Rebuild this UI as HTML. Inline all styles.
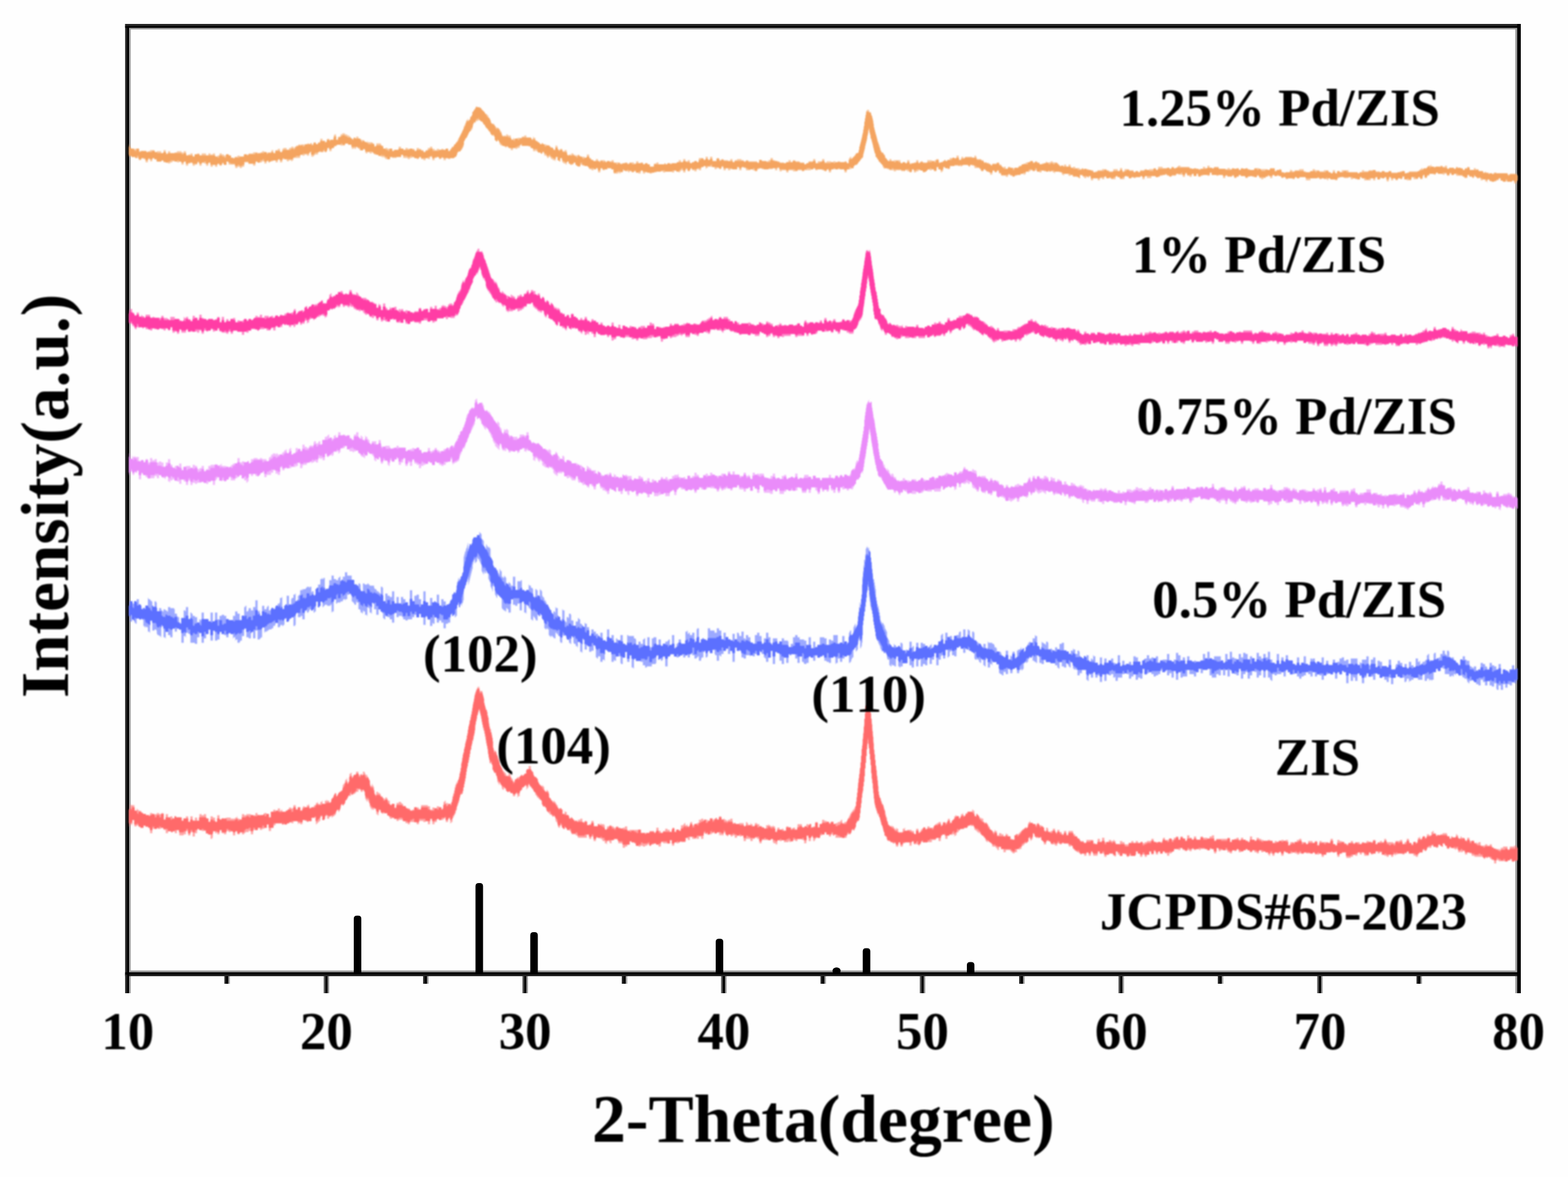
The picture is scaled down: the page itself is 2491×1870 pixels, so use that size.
<!DOCTYPE html>
<html lang="en"><head><meta charset="utf-8"><title>XRD patterns</title>
<style>
html,body{margin:0;padding:0;background:#fff;}
body{width:2491px;height:1870px;overflow:hidden;}
svg{display:block;}
text{font-family:"Liberation Serif",serif;font-weight:bold;fill:#000;font-kerning:none;}
</style></head><body>
<svg width="2491" height="1870" viewBox="0 0 2491 1870">
<defs><filter id="soft" x="0" y="0" width="2491" height="1870" filterUnits="userSpaceOnUse"><feGaussianBlur stdDeviation="0.8"/></filter></defs>
<rect width="2491" height="1870" fill="#fefefe"/>

<g>
<rect x="514.3" y="1547.0" width="4.3" height="31.0" fill="#555"/>
<rect x="518.6" y="1547.0" width="4.4" height="31.0" fill="#999"/>
<rect x="517.0" y="1547.0" width="3.5" height="31.0" fill="#000"/>
<rect x="830.0" y="1547.0" width="4.3" height="31.0" fill="#555"/>
<rect x="834.3" y="1547.0" width="4.4" height="31.0" fill="#999"/>
<rect x="832.7" y="1547.0" width="3.5" height="31.0" fill="#000"/>
<rect x="1145.6" y="1547.0" width="4.3" height="31.0" fill="#555"/>
<rect x="1149.9" y="1547.0" width="4.4" height="31.0" fill="#999"/>
<rect x="1148.3" y="1547.0" width="3.5" height="31.0" fill="#000"/>
<rect x="1461.3" y="1547.0" width="4.3" height="31.0" fill="#555"/>
<rect x="1465.6" y="1547.0" width="4.4" height="31.0" fill="#999"/>
<rect x="1464.0" y="1547.0" width="3.5" height="31.0" fill="#000"/>
<rect x="1776.9" y="1547.0" width="4.3" height="31.0" fill="#555"/>
<rect x="1781.2" y="1547.0" width="4.4" height="31.0" fill="#999"/>
<rect x="1779.6" y="1547.0" width="3.5" height="31.0" fill="#000"/>
<rect x="2092.6" y="1547.0" width="4.3" height="31.0" fill="#555"/>
<rect x="2096.9" y="1547.0" width="4.4" height="31.0" fill="#999"/>
<rect x="2095.3" y="1547.0" width="3.5" height="31.0" fill="#000"/>
<rect x="356.5" y="1547.0" width="4.3" height="16.0" fill="#262626"/>
<rect x="360.8" y="1547.0" width="4.4" height="16.0" fill="#a0a0a0"/>
<rect x="359.2" y="1547.0" width="3.5" height="16.0" fill="#000"/>
<rect x="672.2" y="1547.0" width="4.3" height="16.0" fill="#262626"/>
<rect x="676.5" y="1547.0" width="4.4" height="16.0" fill="#a0a0a0"/>
<rect x="674.9" y="1547.0" width="3.5" height="16.0" fill="#000"/>
<rect x="987.8" y="1547.0" width="4.3" height="16.0" fill="#262626"/>
<rect x="992.1" y="1547.0" width="4.4" height="16.0" fill="#a0a0a0"/>
<rect x="990.5" y="1547.0" width="3.5" height="16.0" fill="#000"/>
<rect x="1303.5" y="1547.0" width="4.3" height="16.0" fill="#262626"/>
<rect x="1307.8" y="1547.0" width="4.4" height="16.0" fill="#a0a0a0"/>
<rect x="1306.2" y="1547.0" width="3.5" height="16.0" fill="#000"/>
<rect x="1619.1" y="1547.0" width="4.3" height="16.0" fill="#262626"/>
<rect x="1623.4" y="1547.0" width="4.4" height="16.0" fill="#a0a0a0"/>
<rect x="1621.8" y="1547.0" width="3.5" height="16.0" fill="#000"/>
<rect x="1934.7" y="1547.0" width="4.3" height="16.0" fill="#262626"/>
<rect x="1939.0" y="1547.0" width="4.4" height="16.0" fill="#a0a0a0"/>
<rect x="1937.4" y="1547.0" width="3.5" height="16.0" fill="#000"/>
<rect x="2250.4" y="1547.0" width="4.3" height="16.0" fill="#262626"/>
<rect x="2254.7" y="1547.0" width="4.4" height="16.0" fill="#a0a0a0"/>
<rect x="2253.1" y="1547.0" width="3.5" height="16.0" fill="#000"/>
<rect x="203.0" y="43.0" width="2208.0" height="3.8" fill="#a0a0a0"/>
<rect x="203.0" y="1541.8" width="2208.0" height="4.2" fill="#a0a0a0"/>
<rect x="203.0" y="43.0" width="4.7" height="1503.0" fill="#a0a0a0"/>
<rect x="203.0" y="1549.0" width="4.7" height="29.0" fill="#a0a0a0"/>
<rect x="2407.2" y="43.0" width="3.8" height="1503.0" fill="#a0a0a0"/>
<rect x="2407.2" y="1549.0" width="3.8" height="29.0" fill="#a0a0a0"/>
<rect x="198.8" y="38.0" width="2217.2" height="4.5" fill="#262626"/>
<rect x="198.8" y="1547.5" width="2217.2" height="3.5" fill="#262626"/>
<rect x="198.8" y="38.0" width="4.2" height="1540.0" fill="#262626"/>
<rect x="198.8" y="41.5" width="2217.2" height="2.8" fill="#000"/>
<rect x="198.8" y="1544.7" width="2217.2" height="3.7" fill="#000"/>
<rect x="202.2" y="41.5" width="2.8" height="1536.5" fill="#000"/>
<rect x="2410.3" y="38.0" width="5.7" height="1540.0" fill="#000"/>
</g>
<g filter="url(#soft)">
<path d="M205.0,229.5H206.4V234.9H207.3V236.6H212.6V238.4H213.5V236.6H220.6V240.2H224.2V240.2H232.2V242.0H234.9V240.2H238.4V238.4H242.0V238.4H245.5V242.0H249.1V240.2H256.2V243.8H259.8V238.4H263.3V243.8H266.9V240.2H270.5V243.8H277.6V242.0H281.1V240.2H288.2V242.0H290.9V243.8H291.8V240.2H295.4V247.3H298.9V245.5H302.5V243.8H306.0V249.1H309.6V245.5H313.2V243.8H316.7V247.3H320.3V243.8H327.4V247.3H330.9V243.8H334.5V245.5H338.1V243.8H341.6V249.1H345.2V247.3H348.7V243.8H352.3V245.5H355.9V247.3H359.4V245.5H363.0V247.3H366.5V250.9H372.8V249.1H377.2V247.3H380.8V249.1H387.9V245.5H395.0V243.8H402.1V242.0H409.2V245.5H410.1V243.8H413.7V242.0H416.4V240.2H419.9V242.0H423.5V243.8H425.2V242.0H430.6V240.2H431.5V238.4H434.1V243.8H437.7V238.4H441.3V236.6H444.8V242.0H448.4V236.6H450.2V234.9H455.5V238.4H459.1V234.9H462.6V233.1H466.2V234.9H468.0V233.1H470.6V231.3H474.2V229.5H476.8V231.3H477.7V229.5H480.4V229.5H484.0V231.3H484.9V229.5H488.4V227.7H491.1V229.5H493.8V227.7H494.6V229.5H498.2V226.0H501.8V229.5H505.3V226.0H508.9V220.6H512.4V224.2H516.0V227.7H516.9V226.0H519.6V220.6H523.1V224.2H524.9V222.4H530.2V215.3H531.1V213.5H533.8V222.4H537.3V217.1H540.9V213.5H543.6V211.7H548.0V213.5H551.6V215.3H555.1V217.1H556.9V218.9H558.7V220.6H562.3V218.9H564.0V220.6H565.8V217.1H569.4V220.6H572.0V222.4H572.9V220.6H573.8V222.4H578.3V224.2H580.0V226.0H582.7V227.7H583.6V224.2H584.5V226.0H591.6V227.7H594.3V233.1H597.8V227.7H605.0V229.5H605.8V231.3H608.5V236.6H612.1V234.9H615.6V236.6H622.8V240.2H626.3V238.4H633.4V233.1H637.0V236.6H640.5V238.4H644.1V234.9H647.7V236.6H658.3V240.2H661.9V234.9H665.5V236.6H669.0V238.4H672.6V242.0H676.1V238.4H679.7V234.9H683.2V233.1H686.8V236.6H690.4V238.4H693.9V236.6H697.5V238.4H701.0V236.6H704.6V238.4H708.2V236.6H711.7V240.2H715.3V236.6H717.1V234.9H717.9V233.1H720.6V231.3H721.5V229.5H724.2V227.7H725.1V226.0H725.9V224.2H726.8V222.4H727.7V220.6H728.6V218.9H730.4V217.1H731.3V215.3H732.2V213.5H733.1V211.7H734.0V210.0H734.8V208.2H735.7V206.4H736.6V201.1H737.5V199.3H738.4V197.5H739.3V195.7H740.2V192.2H741.1V190.4H742.9V188.6H743.7V193.9H744.6V192.2H745.5V190.4H747.3V185.0H749.1V183.3H750.0V181.5H750.9V177.9H752.6V176.1H753.5V174.4H754.4V172.6H755.3V170.8H756.2V169.0H758.0V170.8H764.2V172.6H765.1V174.4H766.0V176.1H767.8V177.9H769.5V179.7H770.4V181.5H774.0V183.3H775.8V186.8H777.5V188.6H778.4V190.4H779.3V195.7H781.1V197.5H782.9V195.7H783.8V197.5H785.6V199.3H786.4V201.1H788.2V202.8H790.0V202.8H791.8V204.6H793.6V206.4H794.5V208.2H796.2V210.0H797.1V215.3H799.8V217.1H800.7V215.3H803.3V217.1H804.2V213.5H806.9V215.3H811.4V220.6H812.2V222.4H814.9V218.9H815.8V220.6H818.5V220.6H822.0V218.9H829.1V217.1H832.7V215.3H836.3V218.9H843.4V220.6H844.3V222.4H846.9V217.1H847.8V218.9H850.5V224.2H853.2V226.0H855.8V227.7H857.6V229.5H861.2V227.7H862.1V229.5H864.7V229.5H868.3V231.3H871.9V231.3H873.6V233.1H875.4V234.9H878.1V236.6H879.0V238.4H881.6V240.2H882.5V231.3H885.2V233.1H886.1V238.4H887.9V240.2H889.6V236.6H893.2V240.2H896.8V238.4H900.3V245.5H901.2V247.3H903.9V245.5H906.5V247.3H907.4V243.8H911.0V245.5H912.8V247.3H914.6V245.5H915.4V247.3H918.1V245.5H919.9V247.3H921.7V249.1H924.3V250.9H925.2V249.1H928.8V250.9H932.3V245.5H935.9V250.9H938.6V252.7H939.5V254.4H942.1V256.2H946.6V252.7H950.1V256.2H951.9V258.0H953.7V254.4H960.8V256.2H961.7V258.0H964.4V256.2H971.5V254.4H975.0V258.0H984.8V259.8H992.8V258.0H996.4V259.8H1000.0V258.0H1007.1V259.8H1010.6V256.2H1014.2V259.8H1017.8V258.0H1021.3V261.6H1024.9V259.8H1028.4V261.6H1032.0V265.1H1039.1V259.8H1042.7V258.0H1046.2V261.6H1056.0V259.8H1056.9V261.6H1060.5V259.8H1075.6V258.0H1078.2V254.4H1081.8V258.0H1085.4V252.7H1088.9V256.2H1092.5V254.4H1096.0V259.8H1099.6V258.0H1103.2V256.2H1106.7V258.0H1110.3V250.9H1117.4V254.4H1121.0V249.1H1124.5V254.4H1128.1V249.1H1131.6V256.2H1138.7V250.9H1142.3V254.4H1145.9V252.7H1149.4V254.4H1156.5V256.2H1160.1V252.7H1163.7V258.0H1167.2V254.4H1170.8V252.7H1177.9V254.4H1181.4V256.2H1185.0V254.4H1188.6V256.2H1202.8V258.0H1206.4V254.4H1209.9V256.2H1220.6V254.4H1224.1V250.9H1227.7V254.4H1231.3V256.2H1238.4V258.0H1245.5V259.8H1249.1V258.0H1252.6V254.4H1256.2V258.0H1259.7V254.4H1263.3V256.2H1270.4V258.0H1277.5V261.6H1281.1V259.8H1284.6V256.2H1291.8V252.7H1295.3V259.8H1298.9V256.2H1306.0V252.7H1309.6V258.0H1313.1V256.2H1320.2V258.0H1323.8V256.2H1327.3V258.0H1330.9V256.2H1334.5V258.0H1341.6V256.2H1345.1V259.8H1348.7V250.9H1350.5V249.1H1352.3V252.7H1353.1V250.9H1354.9V249.1H1356.7V247.3H1358.5V245.5H1360.3V243.8H1363.8V242.0H1364.7V238.4H1365.6V233.1H1366.5V229.5H1367.4V226.0H1368.3V222.4H1369.2V218.9H1370.0V213.5H1370.9V210.0H1371.8V204.6H1372.7V199.3H1373.6V192.2H1374.5V186.8H1375.4V181.5H1376.3V176.1H1377.2V174.4H1380.7V177.9H1383.4V181.5H1384.3V183.3H1385.2V186.8H1386.1V190.4H1387.0V195.7H1387.8V202.8H1388.7V206.4H1389.6V210.0H1390.5V213.5H1391.4V215.3H1392.3V218.9H1393.2V222.4H1394.1V226.0H1395.8V229.5H1396.7V231.3H1397.6V234.9H1398.5V238.4H1399.4V240.2H1400.3V242.0H1403.0V243.8H1403.9V245.5H1405.6V249.1H1406.5V250.9H1408.3V252.7H1409.2V254.4H1410.1V256.2H1412.8V252.7H1416.3V256.2H1419.9V254.4H1430.5V259.8H1434.1V258.0H1437.7V259.8H1441.2V254.4H1444.8V259.8H1451.9V258.0H1455.5V254.4H1459.0V259.8H1461.7V258.0H1462.6V256.2H1466.1V258.0H1473.2V254.4H1480.4V256.2H1484.8V254.4H1487.5V252.7H1491.0V258.0H1498.2V256.2H1500.8V254.4H1501.7V256.2H1505.3V254.4H1508.8V250.9H1512.4V252.7H1513.3V250.9H1519.5V247.3H1523.1V254.4H1526.6V250.9H1527.5V249.1H1530.2V250.9H1532.9V249.1H1544.4V250.9H1548.0V247.3H1550.6V249.1H1551.5V252.7H1558.7V254.4H1562.2V256.2H1563.1V258.0H1566.7V259.8H1569.3V258.0H1570.2V259.8H1572.9V261.6H1573.8V263.3H1576.4V259.8H1583.6V258.0H1587.1V261.6H1590.7V265.1H1592.5V266.9H1594.2V265.1H1597.8V268.7H1601.4V265.1H1604.9V266.9H1618.3V265.1H1619.2V263.3H1623.6V261.6H1626.3V259.8H1629.8V258.0H1636.9V256.2H1640.5V258.0H1644.1V256.2H1647.6V258.0H1651.2V261.6H1654.7V259.8H1661.9V256.2H1662.7V258.0H1669.0V256.2H1672.5V258.0H1679.6V259.8H1681.4V261.6H1683.2V263.3H1688.5V265.1H1690.3V261.6H1693.9V265.1H1697.4V261.6H1701.0V266.9H1704.6V265.1H1708.1V266.9H1715.2V268.7H1718.8V266.9H1720.6V268.7H1729.5V270.5H1733.0V270.5H1736.6V274.0H1740.1V272.2H1743.7V270.5H1750.8V268.7H1754.4V268.7H1757.9V270.5H1761.5V272.2H1768.6V268.7H1775.7V272.2H1779.3V266.9H1782.8V272.2H1786.4V268.7H1790.0V268.7H1793.5V270.5H1800.6V274.0H1804.2V272.2H1807.8V274.0H1811.3V270.5H1818.4V268.7H1822.0V270.5H1825.5V268.7H1832.7V266.9H1836.2V270.5H1839.8V265.1H1846.9V266.9H1857.6V268.7H1861.1V265.1H1864.7V266.9H1870.9V265.1H1871.8V263.3H1875.4V265.1H1889.6V266.9H1893.2V268.7H1896.7V266.9H1900.3V268.7H1911.0V265.1H1914.5V266.9H1918.1V263.3H1921.6V266.9H1928.7V265.1H1935.9V268.7H1950.1V266.9H1953.7V268.7H1957.2V266.9H1960.8V268.7H1964.3V266.9H1967.9V270.5H1971.4V266.9H1975.0V268.7H1978.6V266.9H1982.1V268.7H1985.7V270.5H1992.8V266.9H1999.9V268.7H2002.6V270.5H2003.5V268.7H2010.6V268.7H2014.2V270.5H2017.7V266.9H2024.8V272.2H2028.4V270.5H2031.9V268.7H2035.5V274.0H2049.7V268.7H2050.6V270.5H2053.3V272.2H2056.9V270.5H2064.0V268.7H2071.1V272.2H2074.6V274.0H2081.8V272.2H2085.3V268.7H2088.9V270.5H2096.0V272.2H2103.1V270.5H2110.2V274.0H2113.8V275.8H2117.4V270.5H2120.9V275.8H2124.5V272.2H2128.0V274.0H2131.6V270.5H2142.3V274.0H2156.5V275.8H2160.1V274.0H2163.6V270.5H2167.2V272.2H2174.3V270.5H2181.4V270.5H2185.0V272.2H2192.1V274.0H2195.6V272.2H2199.2V274.0H2206.3V272.2H2209.9V274.0H2224.1V272.2H2231.2V275.8H2234.8V274.0H2238.3V272.2H2255.2V270.5H2256.1V268.7H2257.9V266.9H2259.7V268.7H2261.5V266.9H2266.8V265.1H2268.6V263.3H2273.0V261.6H2273.9V265.1H2287.3V266.9H2288.2V263.3H2291.7V265.1H2295.3V263.3H2298.8V268.7H2302.4V266.9H2309.5V268.7H2313.1V265.1H2315.7V266.9H2323.7V270.5H2327.3V266.9H2330.0V268.7H2330.9V265.1H2334.4V270.5H2341.5V266.9H2344.2V268.7H2345.1V268.7H2348.7V272.2H2355.8V274.0H2359.3V272.2H2360.2V274.0H2364.7V275.8H2373.6V274.0H2377.1V275.8H2394.9V277.6H2398.5V275.8H2409.2V277.6H2410.5V286.5H2409.2V291.8H2405.6V286.5H2402.0V288.2H2387.8V286.5H2384.2V282.9H2380.7V286.5H2377.1V288.2H2366.5V284.7H2362.9V290.0H2362.0V288.2H2359.3V284.7H2355.8V286.5H2352.2V282.9H2346.9V281.1H2343.3V279.3H2341.5V282.9H2338.9V281.1H2334.4V277.6H2330.9V282.9H2326.4V281.1H2323.7V279.3H2313.1V275.8H2309.5V277.6H2306.0V275.8H2302.4V279.3H2298.8V275.8H2295.3V277.6H2291.7V275.8H2284.6V274.0H2281.0V277.6H2277.5V275.8H2270.4V279.3H2266.8V282.9H2263.3V277.6H2260.6V279.3H2259.7V284.7H2256.1V281.1H2252.6V284.7H2245.5V281.1H2241.9V286.5H2234.8V284.7H2231.2V281.1H2227.7V284.7H2224.1V282.9H2220.5V286.5H2217.0V282.9H2213.4V286.5H2209.9V281.1H2206.3V288.2H2202.8V281.1H2199.2V282.9H2192.1V284.7H2188.5V281.1H2185.0V286.5H2181.4V282.9H2177.8V286.5H2167.2V282.9H2163.6V281.1H2160.1V284.7H2152.9V282.9H2149.4V284.7H2145.8V281.1H2142.3V282.9H2135.1V281.1H2132.5V279.3H2131.6V281.1H2128.0V282.9H2124.5V286.5H2120.9V284.7H2113.8V282.9H2110.2V286.5H2108.5V284.7H2103.1V282.9H2099.6V284.7H2096.0V282.9H2081.8V286.5H2074.6V281.1H2064.0V282.9H2060.4V281.1H2056.9V284.7H2053.3V282.9H2046.2V284.7H2042.6V281.1H2039.1V282.9H2035.5V279.3H2024.8V277.6H2021.3V282.9H2017.7V279.3H2015.9V277.6H2014.2V281.1H2010.6V282.9H2007.0V284.7H2003.5V282.9H2000.8V281.1H1999.9V279.3H1996.4V281.1H1989.2V279.3H1985.7V281.1H1982.1V282.9H1978.6V279.3H1971.4V277.6H1967.9V281.1H1964.3V282.9H1960.8V279.3H1957.2V281.1H1950.1V279.3H1946.5V282.9H1943.0V277.6H1935.9V279.3H1932.3V277.6H1925.2V274.0H1921.6V279.3H1918.1V277.6H1911.0V279.3H1907.4V281.1H1903.8V275.8H1900.3V279.3H1896.7V275.8H1893.2V281.1H1889.6V279.3H1886.0V275.8H1882.5V281.1H1878.9V277.6H1871.8V275.8H1868.2V279.3H1861.1V281.1H1857.6V279.3H1854.0V277.6H1846.9V279.3H1842.5V281.1H1836.2V279.3H1829.1V282.9H1822.0V279.3H1818.4V284.7H1814.9V279.3H1811.3V281.1H1804.2V282.9H1800.6V281.1H1797.1V282.9H1793.5V281.1H1790.0V279.3H1786.4V284.7H1779.3V281.1H1775.7V279.3H1772.2V284.7H1765.1V282.9H1757.9V281.1H1754.4V284.7H1750.8V282.9H1747.3V286.5H1743.7V282.9H1736.6V286.5H1733.0V279.3H1729.5V282.9H1728.6V281.1H1725.9V282.9H1722.3V281.1H1720.6V279.3H1718.8V277.6H1715.2V282.9H1714.3V281.1H1704.6V277.6H1701.0V279.3H1697.4V275.8H1690.3V279.3H1689.4V277.6H1686.8V274.0H1683.2V272.2H1676.1V275.8H1675.2V274.0H1672.5V272.2H1669.0V272.2H1667.2V270.5H1665.4V272.2H1661.9V272.2H1658.3V270.5H1654.7V274.0H1651.2V272.2H1647.6V270.5H1644.1V272.2H1640.5V270.5H1636.9V272.2H1634.3V274.0H1633.4V272.2H1629.8V275.8H1628.9V277.6H1626.3V274.0H1625.4V275.8H1620.9V277.6H1615.6V279.3H1612.0V281.1H1608.5V279.3H1604.9V277.6H1601.4V281.1H1597.8V279.3H1590.7V275.8H1587.1V270.5H1583.6V274.0H1580.0V270.5H1576.4V277.6H1572.9V274.0H1570.2V272.2H1569.3V272.2H1567.6V270.5H1565.8V268.7H1562.2V272.2H1558.7V268.7H1556.0V266.9H1548.0V263.3H1544.4V261.6H1540.9V265.1H1539.1V263.3H1537.3V261.6H1530.2V263.3H1527.5V265.1H1526.6V261.6H1524.8V263.3H1508.8V268.7H1505.3V266.9H1501.7V265.1H1498.2V272.2H1496.4V274.0H1494.6V268.7H1491.0V265.1H1487.5V272.2H1483.9V268.7H1480.4V270.5H1476.8V268.7H1473.2V270.5H1471.5V272.2H1469.7V274.0H1466.1V270.5H1459.0V272.2H1455.5V274.0H1451.9V268.7H1448.3V274.0H1444.8V272.2H1441.2V270.5H1437.7V272.2H1435.0V270.5H1434.1V272.2H1432.3V270.5H1423.4V272.2H1419.9V270.5H1412.8V268.7H1409.2V266.9H1405.6V268.7H1404.7V266.9H1403.0V265.1H1402.1V261.6H1401.2V259.8H1399.4V258.0H1396.7V256.2H1395.8V254.4H1395.0V252.7H1394.1V250.9H1393.2V249.1H1391.4V245.5H1390.5V243.8H1389.6V240.2H1388.7V236.6H1387.8V233.1H1387.0V229.5H1386.1V226.0H1385.2V222.4H1384.3V220.6H1383.4V215.3H1382.5V211.7H1381.6V206.4H1380.7V202.8H1379.8V208.2H1378.9V213.5H1378.1V217.1H1377.2V224.2H1376.3V227.7H1375.4V231.3H1374.5V234.9H1373.6V238.4H1372.7V242.0H1371.8V245.5H1370.9V250.9H1369.2V252.7H1367.4V254.4H1365.6V256.2H1363.8V258.0H1362.9V259.8H1361.2V261.6H1357.6V263.3H1355.8V266.9H1352.3V268.7H1345.1V274.0H1341.6V268.7H1320.2V274.0H1316.7V266.9H1315.8V268.7H1313.1V272.2H1309.6V270.5H1306.0V268.7H1298.9V270.5H1295.3V266.9H1291.8V268.7H1288.2V270.5H1277.5V272.2H1274.0V270.5H1266.9V272.2H1259.7V270.5H1252.6V274.0H1249.1V270.5H1241.9V272.2H1238.4V266.9H1234.8V270.5H1231.3V266.9H1227.7V268.7H1209.9V266.9H1206.4V268.7H1202.8V272.2H1199.2V270.5H1195.7V268.7H1192.1V270.5H1185.0V266.9H1181.4V265.1H1177.9V270.5H1174.3V265.1H1170.8V268.7H1160.1V270.5H1156.5V266.9H1153.0V270.5H1149.4V265.1H1145.9V268.7H1142.3V266.9H1138.7V268.7H1135.2V265.1H1124.5V266.9H1121.8V268.7H1121.0V263.3H1117.4V265.1H1113.8V270.5H1110.3V268.7H1106.7V272.2H1103.2V270.5H1099.6V266.9H1096.9V268.7H1096.0V272.2H1092.5V268.7H1088.9V274.0H1085.4V270.5H1081.8V272.2H1080.0V274.0H1078.2V272.2H1074.7V270.5H1071.1V274.0H1067.6V272.2H1056.9V274.0H1053.3V272.2H1049.8V272.2H1042.7V274.0H1035.5V275.8H1032.0V274.0H1024.9V275.8H1021.3V270.5H1017.8V275.8H1014.2V274.0H1010.6V272.2H1007.1V274.0H1003.5V272.2H1000.0V274.0H998.2V272.2H992.8V270.5H991.1V268.7H989.3V274.0H985.7V275.8H983.9V274.0H982.2V275.8H975.0V268.7H971.5V266.9H965.3V265.1H964.4V268.7H960.8V270.5H957.3V266.9H953.7V274.0H950.1V266.9H947.5V265.1H946.6V268.7H943.9V266.9H943.0V270.5H939.5V268.7H935.9V265.1H934.1V263.3H925.2V261.6H921.7V265.1H918.1V263.3H916.3V261.6H914.6V258.0H911.0V261.6H906.5V259.8H903.9V256.2H900.3V261.6H898.5V259.8H895.0V258.0H893.2V250.9H889.6V256.2H888.8V254.4H886.1V249.1H882.5V256.2H881.6V254.4H878.1V252.7H875.4V250.9H874.5V249.1H871.8V250.9H869.2V249.1H868.3V247.3H864.7V242.0H861.2V243.8H859.4V242.0H854.9V240.2H851.4V238.4H850.5V240.2H846.9V234.9H843.4V233.1H839.8V231.3H829.1V229.5H827.4V231.3H825.6V234.9H822.0V236.6H818.5V234.9H814.9V238.4H811.4V234.9H808.7V233.1H807.8V234.9H806.9V233.1H804.2V234.9H803.3V233.1H800.7V231.3H798.0V229.5H797.1V231.3H795.3V229.5H793.6V224.2H792.7V222.4H790.9V220.6H790.0V224.2H788.2V222.4H786.4V217.1H785.6V215.3H784.7V213.5H782.9V215.3H782.0V213.5H780.2V211.7H779.3V210.0H777.5V208.2H775.8V204.6H774.0V202.8H772.2V201.1H771.3V199.3H770.4V197.5H768.7V197.5H767.8V195.7H766.9V193.9H765.1V192.2H763.3V190.4H761.5V190.4H759.8V192.2H756.2V193.9H755.3V195.7H754.4V193.9H752.6V195.7H751.7V197.5H750.9V204.6H750.0V206.4H748.2V208.2H747.3V208.2H745.5V210.0H744.6V211.7H743.7V213.5H742.9V215.3H742.0V217.1H741.1V218.9H739.3V220.6H738.4V222.4H737.5V224.2H736.6V233.1H735.7V234.9H734.8V236.6H734.0V238.4H733.1V236.6H732.2V238.4H731.3V240.2H728.6V242.0H726.8V243.8H725.9V245.5H725.1V247.3H724.2V249.1H721.5V250.9H715.3V252.7H711.7V250.9H708.2V254.4H704.6V250.9H701.0V252.7H697.5V249.1H693.9V250.9H690.4V254.4H686.8V249.1H683.2V252.7H679.7V250.9H676.1V254.4H672.6V252.7H669.0V249.1H665.5V252.7H661.9V250.9H658.3V249.1H654.8V250.9H651.2V252.7H647.7V250.9H640.5V245.5H637.0V249.1H629.9V250.9H622.8V249.1H619.2V252.7H615.6V252.7H612.1V250.9H610.3V249.1H608.5V250.9H607.6V249.1H605.0V247.3H601.4V245.5H594.3V243.8H592.5V242.0H590.7V243.8H587.2V242.0H583.6V243.8H580.9V242.0H580.0V236.6H576.5V238.4H571.2V236.6H569.4V234.9H568.5V233.1H565.8V236.6H563.1V234.9H562.3V236.6H558.7V229.5H553.4V227.7H548.0V231.3H540.9V229.5H534.7V231.3H532.9V233.1H530.2V234.9H526.7V240.2H523.1V233.1H522.2V234.9H519.6V240.2H518.7V242.0H516.0V240.2H514.2V242.0H508.9V240.2H508.0V242.0H505.3V245.5H500.0V247.3H498.2V249.1H494.6V240.2H492.9V242.0H491.1V247.3H487.5V245.5H484.0V247.3H480.4V245.5H476.8V250.9H466.2V254.4H464.4V256.2H462.6V254.4H459.1V256.2H455.5V252.7H448.4V258.0H444.8V252.7H441.3V258.0H437.7V254.4H434.1V256.2H427.9V258.0H427.0V256.2H423.5V259.8H419.9V256.2H416.4V258.0H409.2V256.2H405.7V263.3H402.1V259.8H395.0V258.0H387.9V265.1H384.3V266.9H380.8V265.1H377.2V266.9H373.7V261.6H363.0V256.2H359.4V261.6H355.9V259.8H352.3V263.3H348.7V259.8H345.2V265.1H341.6V261.6H338.1V265.1H334.5V258.0H330.9V263.3H327.4V259.8H323.8V258.0H320.3V263.3H316.7V258.0H313.2V261.6H309.6V263.3H306.0V258.0H302.5V259.8H298.9V263.3H295.4V256.2H291.8V261.6H288.2V256.2H284.7V258.0H281.1V256.2H274.0V258.0H270.5V259.8H266.9V258.0H259.8V254.4H256.2V256.2H249.1V252.7H245.5V250.9H242.0V256.2H238.4V252.7H234.9V258.0H231.3V252.7H227.7V250.9H224.2V254.4H220.6V250.9H217.1V250.9H215.3V249.1H209.1V247.3H206.4V249.1H205.5V247.3H205.0Z" fill="#F4A460" fill-opacity="0.6"/>
<path d="M205.0,233.1H206.4V234.9H207.3V236.6H212.6V238.4H213.5V240.2H217.1V236.6H220.6V242.0H224.2V240.2H232.2V242.0H242.0V240.2H245.5V242.0H249.1V243.8H259.8V242.0H263.3V245.5H266.9V243.8H288.2V245.5H290.9V247.3H291.8V243.8H295.4V247.3H306.0V249.1H309.6V245.5H316.7V247.3H341.6V249.1H345.2V250.9H348.7V247.3H352.3V249.1H355.9V250.9H359.4V245.5H363.0V247.3H366.5V250.9H370.1V252.7H372.8V250.9H380.8V249.1H387.9V245.5H391.4V247.3H395.0V245.5H405.7V243.8H409.2V245.5H410.1V243.8H412.8V245.5H413.7V243.8H419.9V242.0H423.5V245.5H425.2V243.8H431.5V242.0H434.1V243.8H437.7V240.2H444.8V242.0H448.4V240.2H450.2V238.4H462.6V236.6H466.2V238.4H468.0V236.6H469.7V234.9H470.6V233.1H474.2V231.3H476.8V233.1H477.7V231.3H480.4V233.1H484.0V231.3H484.9V229.5H487.5V231.3H488.4V229.5H493.8V227.7H494.6V231.3H498.2V227.7H501.8V229.5H505.3V227.7H508.9V224.2H516.0V227.7H516.9V226.0H519.6V222.4H523.1V224.2H524.9V222.4H530.2V218.9H531.1V217.1H533.8V222.4H537.3V218.9H540.9V217.1H543.6V215.3H548.0V217.1H551.6V218.9H556.9V220.6H558.7V222.4H562.3V218.9H564.0V220.6H572.0V222.4H572.9V224.2H573.8V226.0H576.5V224.2H578.3V226.0H582.7V227.7H584.5V229.5H590.7V227.7H591.6V229.5H594.3V233.1H597.8V231.3H605.8V233.1H608.5V236.6H612.1V238.4H615.6V240.2H619.2V236.6H622.8V240.2H626.3V238.4H633.4V236.6H640.5V238.4H651.2V236.6H654.8V238.4H658.3V240.2H661.9V238.4H669.0V240.2H672.6V242.0H676.1V240.2H679.7V238.4H683.2V236.6H686.8V240.2H697.5V238.4H708.2V236.6H711.7V240.2H715.3V238.4H717.1V236.6H717.9V234.9H720.6V233.1H721.5V231.3H722.4V229.5H724.2V227.7H725.1V226.0H725.9V227.7H726.8V226.0H727.7V224.2H728.6V222.4H729.5V218.9H730.4V217.1H731.3V215.3H732.2V213.5H733.1V211.7H734.0V210.0H734.8V208.2H735.7V206.4H736.6V204.6H737.5V202.8H738.4V201.1H739.3V199.3H740.2V195.7H741.1V193.9H742.9V192.2H743.7V193.9H744.6V192.2H745.5V190.4H747.3V186.8H749.1V185.0H750.0V183.3H750.9V177.9H752.6V176.1H753.5V174.4H755.3V172.6H756.2V170.8H761.5V172.6H764.2V174.4H766.0V176.1H767.8V177.9H769.5V179.7H770.4V181.5H772.2V185.0H774.0V186.8H775.8V188.6H777.5V190.4H778.4V192.2H779.3V195.7H781.1V197.5H783.8V199.3H785.6V201.1H786.4V204.6H788.2V206.4H790.0V204.6H791.8V206.4H793.6V210.0H794.5V211.7H796.2V213.5H797.1V217.1H799.8V218.9H800.7V217.1H803.3V218.9H804.2V217.1H806.9V218.9H811.4V220.6H812.2V222.4H815.8V224.2H818.5V220.6H822.0V222.4H825.6V220.6H829.1V218.9H843.4V220.6H844.3V222.4H846.9V220.6H847.8V222.4H850.5V224.2H853.2V226.0H855.8V227.7H857.6V229.5H861.2V227.7H862.1V229.5H864.7V233.1H868.3V231.3H871.9V233.1H873.6V234.9H878.1V236.6H879.0V238.4H881.6V240.2H882.5V234.9H885.2V236.6H886.1V238.4H887.9V240.2H889.6V238.4H893.2V242.0H900.3V245.5H901.2V247.3H906.5V249.1H907.4V247.3H912.8V249.1H915.4V250.9H918.1V247.3H919.9V249.1H924.3V250.9H925.2V252.7H928.8V250.9H932.3V249.1H935.9V252.7H938.6V254.4H942.1V256.2H951.9V258.0H953.7V256.2H957.3V258.0H960.8V256.2H961.7V258.0H964.4V256.2H967.9V258.0H975.0V259.8H978.6V261.6H982.2V259.8H984.8V261.6H989.3V259.8H996.4V261.6H1000.0V259.8H1003.5V261.6H1010.6V259.8H1021.3V261.6H1024.9V259.8H1028.4V261.6H1032.0V265.1H1039.1V261.6H1056.0V259.8H1056.9V261.6H1060.5V259.8H1064.0V261.6H1067.6V259.8H1075.6V258.0H1085.4V256.2H1088.9V258.0H1096.0V259.8H1099.6V258.0H1103.2V256.2H1106.7V258.0H1110.3V254.4H1113.8V252.7H1117.4V254.4H1121.0V252.7H1124.5V254.4H1128.1V252.7H1131.6V256.2H1138.7V252.7H1142.3V256.2H1145.9V254.4H1149.4V256.2H1163.7V258.0H1167.2V256.2H1181.4V258.0H1185.0V256.2H1188.6V258.0H1202.8V259.8H1206.4V254.4H1209.9V256.2H1217.0V258.0H1224.1V254.4H1227.7V256.2H1234.8V258.0H1238.4V259.8H1249.1V258.0H1259.7V256.2H1263.3V258.0H1270.4V259.8H1277.5V261.6H1281.1V259.8H1284.6V258.0H1291.8V256.2H1295.3V259.8H1302.4V258.0H1306.0V256.2H1309.6V259.8H1320.2V258.0H1323.8V259.8H1327.3V258.0H1345.1V259.8H1348.7V254.4H1350.5V252.7H1352.3V254.4H1353.1V252.7H1354.9V250.9H1356.7V249.1H1358.5V247.3H1359.4V245.5H1360.3V243.8H1363.8V242.0H1364.7V238.4H1365.6V233.1H1366.5V229.5H1367.4V226.0H1368.3V222.4H1369.2V218.9H1370.0V215.3H1370.9V211.7H1371.8V206.4H1372.7V201.1H1373.6V193.9H1374.5V188.6H1375.4V183.3H1376.3V177.9H1380.7V179.7H1383.4V183.3H1384.3V185.0H1385.2V188.6H1386.1V192.2H1387.0V197.5H1387.8V202.8H1388.7V206.4H1389.6V210.0H1390.5V213.5H1391.4V217.1H1392.3V220.6H1393.2V224.2H1394.1V227.7H1395.0V229.5H1395.8V233.1H1396.7V234.9H1397.6V238.4H1398.5V240.2H1399.4V242.0H1400.3V243.8H1403.0V245.5H1403.9V247.3H1405.6V250.9H1406.5V252.7H1408.3V254.4H1410.1V256.2H1419.9V258.0H1423.4V256.2H1427.0V258.0H1430.5V259.8H1434.1V258.0H1437.7V259.8H1441.2V258.0H1444.8V261.6H1448.3V259.8H1455.5V258.0H1459.0V259.8H1461.7V258.0H1466.1V259.8H1473.2V258.0H1480.4V256.2H1483.9V259.8H1484.8V258.0H1487.5V254.4H1491.0V259.8H1494.6V258.0H1498.2V256.2H1500.8V254.4H1501.7V256.2H1505.3V254.4H1512.4V252.7H1513.3V250.9H1516.0V252.7H1519.5V250.9H1523.1V254.4H1527.5V252.7H1532.9V250.9H1550.6V252.7H1551.5V254.4H1558.7V256.2H1562.2V258.0H1563.1V259.8H1565.8V258.0H1566.7V259.8H1570.2V261.6H1573.8V263.3H1576.4V261.6H1583.6V259.8H1587.1V263.3H1590.7V265.1H1592.5V266.9H1594.2V268.7H1601.4V266.9H1608.5V270.5H1612.0V266.9H1618.3V265.1H1622.7V263.3H1623.6V261.6H1633.4V258.0H1636.9V256.2H1640.5V259.8H1644.1V258.0H1647.6V259.8H1651.2V261.6H1658.3V259.8H1661.9V258.0H1662.7V259.8H1665.4V261.6H1669.0V259.8H1672.5V261.6H1676.1V259.8H1679.6V261.6H1681.4V263.3H1683.2V265.1H1686.8V263.3H1688.5V265.1H1701.0V266.9H1704.6V268.7H1711.7V270.5H1718.8V268.7H1720.6V270.5H1722.3V268.7H1725.9V270.5H1733.0V272.2H1736.6V274.0H1743.7V272.2H1754.4V270.5H1757.9V272.2H1761.5V274.0H1768.6V272.2H1779.3V270.5H1782.8V274.0H1786.4V272.2H1790.0V270.5H1793.5V272.2H1800.6V274.0H1804.2V272.2H1807.8V274.0H1811.3V272.2H1818.4V270.5H1825.5V272.2H1832.7V268.7H1836.2V270.5H1839.8V268.7H1854.0V266.9H1857.6V268.7H1861.1V266.9H1864.7V268.7H1868.2V266.9H1870.9V265.1H1871.8V266.9H1889.6V268.7H1903.8V270.5H1907.4V268.7H1918.1V266.9H1925.2V268.7H1928.7V266.9H1935.9V268.7H1946.5V270.5H1957.2V268.7H1967.9V270.5H1971.4V268.7H1982.1V270.5H1992.8V268.7H1996.4V270.5H1999.9V268.7H2002.6V270.5H2003.5V272.2H2010.6V270.5H2017.7V268.7H2024.8V272.2H2028.4V270.5H2035.5V274.0H2039.1V275.8H2042.6V274.0H2049.7V272.2H2050.6V274.0H2056.9V272.2H2071.1V274.0H2081.8V272.2H2088.9V274.0H2092.4V272.2H2096.0V274.0H2106.7V272.2H2110.2V274.0H2113.8V275.8H2117.4V274.0H2120.9V275.8H2124.5V272.2H2128.0V274.0H2135.1V272.2H2138.7V274.0H2156.5V275.8H2160.1V274.0H2174.3V272.2H2181.4V270.5H2185.0V274.0H2195.6V272.2H2199.2V274.0H2206.3V272.2H2209.9V275.8H2220.5V274.0H2227.7V272.2H2231.2V275.8H2238.3V274.0H2252.6V272.2H2255.2V270.5H2256.1V272.2H2257.9V270.5H2261.5V268.7H2266.8V266.9H2268.6V265.1H2270.4V266.9H2273.0V265.1H2277.5V266.9H2281.0V265.1H2287.3V266.9H2288.2V265.1H2291.7V266.9H2298.8V268.7H2302.4V266.9H2309.5V268.7H2313.1V266.9H2315.7V268.7H2316.6V266.9H2320.2V268.7H2323.7V270.5H2327.3V268.7H2330.0V270.5H2330.9V266.9H2334.4V270.5H2344.2V272.2H2345.1V270.5H2348.7V272.2H2355.8V275.8H2359.3V274.0H2360.2V275.8H2364.7V277.6H2366.5V275.8H2370.0V277.6H2373.6V275.8H2394.9V279.3H2398.5V277.6H2409.2V279.3H2410.5V286.5H2409.2V288.2H2405.6V286.5H2402.0V288.2H2394.9V284.7H2391.4V288.2H2387.8V286.5H2384.2V282.9H2380.7V284.7H2377.1V286.5H2373.6V288.2H2370.0V286.5H2366.5V284.7H2362.9V286.5H2362.0V284.7H2355.8V282.9H2352.2V281.1H2348.7V282.9H2346.9V281.1H2345.1V279.3H2343.3V277.6H2341.5V281.1H2338.9V279.3H2334.4V277.6H2330.9V281.1H2326.4V279.3H2323.7V277.6H2316.6V275.8H2309.5V277.6H2306.0V274.0H2302.4V277.6H2298.8V274.0H2291.7V275.8H2284.6V274.0H2281.0V275.8H2270.4V277.6H2266.8V281.1H2263.3V277.6H2260.6V279.3H2259.7V282.9H2256.1V281.1H2252.6V282.9H2249.0V281.1H2241.9V284.7H2238.3V282.9H2234.8V284.7H2231.2V279.3H2227.7V282.9H2220.5V284.7H2217.0V282.9H2209.9V281.1H2206.3V284.7H2202.8V281.1H2199.2V282.9H2195.6V281.1H2192.1V284.7H2188.5V281.1H2185.0V282.9H2174.3V284.7H2170.7V282.9H2163.6V281.1H2160.1V284.7H2156.5V282.9H2149.4V281.1H2132.5V279.3H2131.6V281.1H2124.5V284.7H2113.8V282.9H2108.5V281.1H2106.7V282.9H2096.0V281.1H2092.4V282.9H2074.6V281.1H2064.0V282.9H2060.4V281.1H2056.9V282.9H2042.6V281.1H2035.5V279.3H2031.9V277.6H2028.4V279.3H2024.8V277.6H2021.3V279.3H2015.9V277.6H2014.2V279.3H2010.6V281.1H2000.8V279.3H1999.9V277.6H1996.4V281.1H1992.8V279.3H1982.1V281.1H1978.6V279.3H1971.4V277.6H1967.9V279.3H1964.3V281.1H1960.8V277.6H1957.2V279.3H1950.1V277.6H1946.5V279.3H1943.0V277.6H1925.2V274.0H1921.6V277.6H1907.4V279.3H1903.8V275.8H1900.3V279.3H1896.7V275.8H1893.2V277.6H1886.0V274.0H1882.5V277.6H1878.9V274.0H1875.4V275.8H1868.2V277.6H1861.1V279.3H1857.6V277.6H1854.0V275.8H1850.5V277.6H1842.5V279.3H1839.8V281.1H1836.2V279.3H1818.4V281.1H1814.9V279.3H1811.3V281.1H1797.1V282.9H1793.5V279.3H1786.4V281.1H1782.8V282.9H1779.3V281.1H1775.7V279.3H1772.2V281.1H1768.6V282.9H1765.1V281.1H1761.5V282.9H1757.9V279.3H1754.4V281.1H1747.3V282.9H1733.0V279.3H1729.5V281.1H1728.6V279.3H1720.6V277.6H1715.2V282.9H1714.3V281.1H1711.7V279.3H1704.6V277.6H1701.0V275.8H1689.4V274.0H1686.8V272.2H1675.2V270.5H1669.0V272.2H1667.2V270.5H1665.4V272.2H1661.9V270.5H1651.2V272.2H1647.6V266.9H1644.1V270.5H1640.5V268.7H1634.3V270.5H1633.4V272.2H1628.9V274.0H1625.4V275.8H1620.9V277.6H1612.0V279.3H1608.5V277.6H1604.9V275.8H1601.4V277.6H1590.7V274.0H1587.1V270.5H1583.6V272.2H1580.0V270.5H1576.4V274.0H1572.9V272.2H1570.2V270.5H1569.3V272.2H1567.6V270.5H1565.8V268.7H1562.2V270.5H1558.7V266.9H1556.0V265.1H1551.5V263.3H1548.0V261.6H1540.9V263.3H1539.1V261.6H1527.5V263.3H1526.6V261.6H1524.8V263.3H1523.1V261.6H1516.0V263.3H1508.8V266.9H1501.7V265.1H1498.2V268.7H1496.4V270.5H1494.6V268.7H1491.0V265.1H1487.5V270.5H1483.9V268.7H1480.4V266.9H1476.8V268.7H1473.2V270.5H1471.5V272.2H1466.1V270.5H1462.6V268.7H1455.5V270.5H1451.9V268.7H1448.3V272.2H1444.8V268.7H1437.7V270.5H1435.0V268.7H1434.1V270.5H1432.3V268.7H1419.9V266.9H1416.3V268.7H1412.8V266.9H1405.6V265.1H1404.7V263.3H1403.0V261.6H1401.2V259.8H1399.4V258.0H1398.5V256.2H1396.7V254.4H1395.8V252.7H1394.1V250.9H1393.2V249.1H1391.4V243.8H1390.5V242.0H1389.6V238.4H1388.7V234.9H1387.8V231.3H1387.0V227.7H1386.1V224.2H1385.2V220.6H1384.3V218.9H1383.4V213.5H1382.5V210.0H1381.6V204.6H1380.7V201.1H1379.8V206.4H1378.9V211.7H1378.1V215.3H1377.2V220.6H1376.3V224.2H1375.4V227.7H1374.5V231.3H1373.6V236.6H1372.7V240.2H1371.8V243.8H1370.9V249.1H1369.2V250.9H1367.4V252.7H1366.5V254.4H1365.6V256.2H1363.8V258.0H1362.9V259.8H1361.2V261.6H1357.6V263.3H1355.8V266.9H1352.3V265.1H1348.7V268.7H1345.1V270.5H1341.6V268.7H1334.5V266.9H1330.9V268.7H1327.3V266.9H1323.8V268.7H1320.2V270.5H1316.7V266.9H1315.8V268.7H1313.1V270.5H1309.6V268.7H1295.3V266.9H1291.8V268.7H1288.2V266.9H1281.1V268.7H1277.5V270.5H1274.0V268.7H1266.9V270.5H1263.3V268.7H1252.6V270.5H1249.1V268.7H1238.4V265.1H1234.8V266.9H1220.6V268.7H1213.5V266.9H1202.8V270.5H1199.2V266.9H1195.7V268.7H1188.6V266.9H1185.0V265.1H1177.9V266.9H1174.3V265.1H1170.8V268.7H1163.7V266.9H1149.4V263.3H1145.9V266.9H1142.3V265.1H1131.6V261.6H1128.1V263.3H1121.8V265.1H1121.0V263.3H1117.4V265.1H1113.8V266.9H1106.7V268.7H1099.6V266.9H1096.9V268.7H1096.0V270.5H1092.5V266.9H1088.9V270.5H1085.4V266.9H1081.8V268.7H1080.0V270.5H1078.2V272.2H1074.7V270.5H1067.6V272.2H1056.9V270.5H1049.8V272.2H1039.1V274.0H1028.4V272.2H1021.3V270.5H1017.8V272.2H1014.2V274.0H1010.6V270.5H1007.1V272.2H1003.5V270.5H998.2V268.7H996.4V270.5H991.1V268.7H989.3V272.2H983.9V270.5H982.2V272.2H978.6V274.0H975.0V268.7H971.5V266.9H965.3V265.1H964.4V268.7H957.3V266.9H953.7V270.5H950.1V266.9H947.5V265.1H946.6V268.7H943.9V266.9H935.9V265.1H934.1V263.3H928.8V261.6H925.2V258.0H921.7V263.3H916.3V261.6H914.6V258.0H911.0V259.8H907.4V261.6H906.5V259.8H903.9V256.2H900.3V258.0H898.5V256.2H895.0V254.4H893.2V250.9H889.6V256.2H888.8V254.4H886.1V249.1H882.5V252.7H881.6V250.9H878.1V249.1H875.4V247.3H874.5V245.5H871.8V247.3H869.2V245.5H868.3V243.8H864.7V240.2H861.2V243.8H859.4V242.0H854.9V240.2H854.1V236.6H851.4V234.9H850.5V236.6H846.9V234.9H843.4V231.3H829.1V227.7H827.4V229.5H825.6V231.3H822.0V233.1H818.5V234.9H808.7V233.1H806.9V231.3H804.2V233.1H803.3V231.3H798.0V229.5H797.1V227.7H795.3V226.0H793.6V224.2H792.7V222.4H790.9V220.6H790.0V224.2H788.2V222.4H786.4V217.1H785.6V215.3H784.7V213.5H782.9V215.3H782.0V213.5H780.2V211.7H779.3V208.2H777.5V206.4H775.8V204.6H774.0V202.8H772.2V201.1H771.3V199.3H770.4V197.5H768.7V195.7H767.8V193.9H766.9V192.2H763.3V190.4H761.5V186.8H759.8V188.6H756.2V190.4H755.3V192.2H754.4V193.9H752.6V195.7H751.7V197.5H750.9V201.1H750.0V202.8H748.2V204.6H747.3V208.2H745.5V210.0H744.6V211.7H743.7V213.5H742.9V215.3H742.0V217.1H741.1V218.9H739.3V220.6H738.4V222.4H737.5V224.2H736.6V229.5H735.7V231.3H734.8V233.1H734.0V234.9H733.1V236.6H732.2V238.4H731.3V240.2H729.5V238.4H728.6V240.2H726.8V242.0H725.9V245.5H725.1V247.3H724.2V249.1H721.5V250.9H704.6V249.1H701.0V250.9H697.5V249.1H690.4V250.9H686.8V247.3H683.2V249.1H679.7V250.9H669.0V249.1H665.5V250.9H658.3V249.1H654.8V247.3H651.2V249.1H647.7V247.3H640.5V245.5H637.0V249.1H619.2V252.7H615.6V249.1H612.1V247.3H610.3V245.5H608.5V247.3H607.6V245.5H605.0V247.3H601.4V245.5H597.8V243.8H594.3V242.0H592.5V240.2H580.9V238.4H580.0V236.6H576.5V238.4H572.9V234.9H571.2V233.1H569.4V234.9H568.5V233.1H563.1V231.3H562.3V233.1H558.7V229.5H553.4V227.7H548.0V229.5H544.5V227.7H540.9V229.5H534.7V231.3H533.8V229.5H532.9V231.3H530.2V234.9H526.7V236.6H523.1V233.1H522.2V234.9H519.6V238.4H518.7V240.2H516.0V236.6H514.2V238.4H512.4V240.2H508.9V238.4H508.0V240.2H505.3V242.0H500.0V243.8H498.2V245.5H494.6V240.2H492.9V242.0H491.1V243.8H480.4V245.5H476.8V247.3H469.7V249.1H466.2V250.9H464.4V252.7H451.9V250.9H448.4V254.4H444.8V252.7H441.3V254.4H430.6V256.2H427.9V258.0H427.0V254.4H423.5V256.2H419.9V252.7H416.4V254.4H412.8V258.0H409.2V256.2H405.7V259.8H395.0V256.2H387.9V261.6H384.3V263.3H380.8V261.6H377.2V263.3H373.7V259.8H366.5V258.0H363.0V256.2H359.4V261.6H355.9V258.0H352.3V261.6H348.7V259.8H345.2V261.6H334.5V258.0H330.9V259.8H327.4V256.2H323.8V258.0H320.3V259.8H316.7V256.2H313.2V259.8H306.0V258.0H298.9V259.8H295.4V256.2H291.8V258.0H288.2V256.2H284.7V254.4H281.1V256.2H277.6V254.4H270.5V256.2H266.9V258.0H263.3V256.2H259.8V254.4H256.2V256.2H249.1V252.7H245.5V250.9H242.0V252.7H238.4V250.9H234.9V254.4H231.3V250.9H224.2V252.7H220.6V247.3H217.1V250.9H215.3V249.1H209.1V247.3H205.5V245.5H205.0Z" fill="#F4A460" stroke="#F4A460" stroke-width="0.8" stroke-linejoin="round"/>
<path d="M205.0,492.9H206.4V491.1H210.0V496.4H212.6V498.2H213.5V501.8H217.1V496.4H220.6V503.5H224.2V500.0H225.1V501.8H227.7V503.5H228.6V505.3H231.3V500.0H238.4V505.3H242.0V503.5H245.5V505.3H256.2V501.8H259.8V505.3H266.0V507.1H267.8V508.9H270.5V503.5H277.6V507.1H284.7V508.9H288.2V510.7H291.8V503.5H292.7V505.3H295.4V503.5H298.9V507.1H302.5V510.7H306.0V501.8H309.6V505.3H313.2V508.9H316.7V500.0H320.3V505.3H323.8V507.1H327.4V508.9H330.9V507.1H338.1V508.9H341.6V507.1H345.2V503.5H348.7V512.4H352.3V503.5H355.9V512.4H359.4V507.1H363.0V510.7H366.5V507.1H370.1V505.3H373.6V512.4H377.2V508.9H380.8V510.7H384.3V510.7H385.2V508.9H387.9V507.1H391.4V508.9H395.0V507.1H398.6V508.9H402.1V507.1H403.9V505.3H405.7V501.8H409.2V503.5H412.8V500.0H416.4V505.3H419.9V501.8H427.0V505.3H428.8V503.5H430.6V501.8H434.1V505.3H436.8V503.5H437.7V501.8H441.3V503.5H444.8V500.0H448.4V501.8H451.9V498.2H455.5V496.4H459.1V498.2H462.6V496.4H466.2V492.9H467.1V491.1H469.7V500.0H471.5V498.2H473.3V494.6H476.0V492.9H476.8V494.6H479.5V492.9H480.4V496.4H482.2V494.6H484.0V487.5H486.6V485.7H487.5V491.1H490.2V489.3H491.1V487.5H494.6V485.7H495.5V484.0H500.9V482.2H501.8V484.0H503.5V482.2H507.1V480.4H508.9V478.6H510.7V476.8H512.4V484.0H513.3V482.2H516.0V484.0H516.9V482.2H519.6V476.8H520.4V475.1H523.1V468.0H524.9V466.2H526.7V471.5H529.3V469.7H532.9V468.0H537.3V464.4H540.9V462.6H544.5V468.0H548.0V466.2H551.6V468.0H555.1V460.8H558.7V466.2H560.5V468.0H562.3V466.2H563.1V468.0H565.8V464.4H567.6V466.2H569.4V469.7H570.3V471.5H573.8V473.3H581.8V475.1H583.6V476.8H585.4V478.6H587.2V480.4H590.7V478.6H591.6V480.4H594.3V482.2H597.8V489.3H601.4V482.2H602.3V484.0H605.0V492.9H608.5V482.2H612.1V487.5H613.0V489.3H615.6V492.9H619.2V487.5H620.1V489.3H626.3V487.5H629.9V492.9H631.6V494.6H633.4V491.1H636.1V492.9H637.0V491.1H640.5V494.6H644.1V492.9H647.7V494.6H651.2V496.4H658.3V494.6H665.5V489.3H669.0V494.6H672.6V491.1H679.7V496.4H683.2V487.5H686.8V491.1H690.4V485.7H693.9V491.1H697.5V489.3H701.0V485.7H703.7V484.0H704.6V485.7H708.2V487.5H711.7V484.0H713.5V482.2H718.8V487.5H719.7V485.7H720.6V484.0H721.5V480.4H723.3V478.6H724.2V476.8H725.1V473.3H725.9V468.0H726.8V466.2H727.7V464.4H728.6V462.6H730.4V460.8H731.3V459.1H732.2V457.3H733.1V450.2H734.0V448.4H734.8V446.6H735.7V444.8H736.6V448.4H737.5V446.6H738.4V444.8H739.3V441.3H741.1V439.5H742.0V437.7H742.9V435.9H743.7V432.4H744.6V428.8H745.5V427.0H746.4V425.2H747.3V427.0H748.2V425.2H749.1V421.7H750.0V419.9H750.9V412.8H751.7V411.0H752.6V409.2H753.5V407.5H754.4V405.7H755.3V402.1H756.2V400.3H757.1V398.6H758.0V396.8H758.9V395.0H761.5V400.3H763.3V402.1H764.2V400.3H765.1V398.6H766.0V400.3H766.9V402.1H767.8V405.7H768.7V411.0H769.5V412.8H770.4V414.6H771.3V418.1H773.1V419.9H774.0V423.5H774.9V425.2H775.8V428.8H776.7V430.6H777.5V434.1H778.4V435.9H779.3V441.3H780.2V443.0H782.0V444.8H782.9V443.0H783.8V444.8H784.7V446.6H785.6V448.4H786.4V446.6H787.3V448.4H789.1V450.2H790.0V453.7H790.9V455.5H791.8V457.3H793.6V464.4H795.3V466.2H797.1V462.6H798.9V464.4H800.7V466.2H802.5V468.0H804.2V469.7H807.8V471.5H809.6V473.3H811.4V468.0H813.1V469.7H815.8V471.5H818.5V475.1H821.1V473.3H822.0V469.7H825.6V468.0H829.1V473.3H830.0V471.5H832.7V466.2H836.3V462.6H838.0V460.8H839.8V468.0H841.6V466.2H843.4V460.8H846.9V462.6H850.5V468.0H852.3V469.7H854.1V466.2H857.6V473.3H858.5V475.1H861.2V471.5H863.8V473.3H864.7V478.6H865.6V480.4H867.4V482.2H868.3V476.8H870.1V478.6H871.9V484.0H873.6V485.7H875.4V480.4H876.3V482.2H878.1V484.0H879.0V485.7H879.9V487.5H881.6V489.3H882.5V487.5H883.4V489.3H885.2V491.1H886.1V489.3H887.9V491.1H889.6V496.4H893.2V498.2H896.8V503.5H900.3V500.0H903.9V505.3H907.4V498.2H911.0V503.5H914.6V505.3H917.2V507.1H918.1V508.9H921.7V505.3H925.2V508.9H927.9V510.7H928.8V503.5H932.3V508.9H935.9V510.7H936.8V512.4H939.5V507.1H943.0V508.9H946.6V512.4H950.1V516.0H953.7V512.4H957.3V517.8H960.8V519.6H964.4V517.8H967.9V519.6H971.5V512.4H975.0V519.6H978.6V521.3H982.2V516.0H985.7V523.1H989.3V517.8H992.8V519.6H996.4V521.3H1000.0V517.8H1003.5V519.6H1010.6V523.1H1014.2V519.6H1017.8V517.8H1024.9V521.3H1028.4V517.8H1032.0V512.4H1035.5V514.2H1039.1V523.1H1042.7V519.6H1049.8V521.3H1053.3V519.6H1064.0V514.2H1067.6V517.8H1071.1V514.2H1078.2V517.8H1081.8V516.0H1085.4V514.2H1090.7V512.4H1092.5V514.2H1096.0V516.0H1102.3V514.2H1106.7V516.0H1112.1V514.2H1113.8V510.7H1115.6V508.9H1117.4V510.7H1118.3V508.9H1122.7V507.1H1125.4V505.3H1128.1V503.5H1129.8V501.8H1131.6V508.9H1135.2V507.1H1142.3V503.5H1145.9V507.1H1149.4V503.5H1156.5V507.1H1160.1V510.7H1163.7V512.4H1164.5V514.2H1167.2V510.7H1169.9V512.4H1174.3V516.0H1177.9V514.2H1188.6V512.4H1192.1V514.2H1193.0V516.0H1195.7V514.2H1196.6V516.0H1199.2V517.8H1202.8V516.0H1206.4V512.4H1208.1V514.2H1209.9V512.4H1210.8V514.2H1213.5V516.0H1217.0V510.7H1220.6V512.4H1224.1V514.2H1227.7V519.6H1231.3V517.8H1234.8V516.0H1238.4V512.4H1239.3V514.2H1241.9V517.8H1245.5V516.0H1249.1V517.8H1253.5V516.0H1259.7V517.8H1263.3V516.0H1266.9V514.2H1270.4V517.8H1274.0V519.6H1277.5V510.7H1278.4V508.9H1281.1V512.4H1284.6V514.2H1286.4V512.4H1291.8V514.2H1295.3V512.4H1302.4V508.9H1306.0V514.2H1309.6V505.3H1313.1V510.7H1316.7V508.9H1320.2V510.7H1322.9V508.9H1323.8V507.1H1327.3V512.4H1334.5V510.7H1338.0V507.1H1341.6V510.7H1345.1V508.9H1348.7V508.9H1352.3V510.7H1353.1V508.9H1354.0V507.1H1354.9V505.3H1355.8V500.0H1356.7V496.4H1357.6V494.6H1358.5V492.9H1359.4V491.1H1360.3V489.3H1361.2V487.5H1362.0V485.7H1363.8V482.2H1364.7V476.8H1365.6V469.7H1366.5V460.8H1367.4V455.5H1368.3V448.4H1369.2V443.0H1370.0V435.9H1370.9V428.8H1371.8V423.5H1372.7V418.1H1373.6V411.0H1374.5V405.7H1375.4V398.6H1377.2V396.8H1378.1V398.6H1378.9V400.3H1379.8V398.6H1380.7V396.8H1381.6V398.6H1382.5V403.9H1383.4V411.0H1384.3V418.1H1385.2V423.5H1386.1V428.8H1387.0V435.9H1387.8V443.0H1388.7V448.4H1389.6V455.5H1390.5V460.8H1391.4V464.4H1392.3V469.7H1393.2V475.1H1394.1V480.4H1395.0V485.7H1395.8V489.3H1396.7V491.1H1398.5V498.2H1399.4V500.0H1401.2V501.8H1402.1V500.0H1403.9V501.8H1404.7V503.5H1405.6V505.3H1407.4V507.1H1408.3V508.9H1409.2V514.2H1411.0V516.0H1412.8V512.4H1414.5V514.2H1416.3V516.0H1420.8V517.8H1423.4V516.0H1427.0V517.8H1433.2V516.0H1434.1V521.3H1437.7V517.8H1441.2V519.6H1455.5V516.0H1459.0V521.3H1469.7V519.6H1473.2V517.8H1476.8V519.6H1480.4V516.0H1483.9V512.4H1487.5V516.0H1488.4V514.2H1491.0V510.7H1494.6V514.2H1498.2V517.8H1499.0V516.0H1501.7V512.4H1505.3V505.3H1508.8V510.7H1512.4V508.9H1515.1V507.1H1516.0V508.9H1519.5V507.1H1520.4V505.3H1523.1V501.8H1533.7V500.0H1535.5V498.2H1537.3V498.2H1540.9V500.0H1544.4V503.5H1546.2V505.3H1548.0V501.8H1548.9V503.5H1552.4V505.3H1555.1V508.9H1557.8V510.7H1561.3V512.4H1562.2V510.7H1564.0V512.4H1565.8V514.2H1567.6V516.0H1569.3V519.6H1572.9V517.8H1576.4V519.6H1578.2V521.3H1580.0V523.1H1581.8V524.9H1583.6V521.3H1587.1V526.7H1594.2V524.9H1604.9V526.7H1608.5V523.1H1615.6V521.3H1616.5V519.6H1621.8V517.8H1624.5V516.0H1627.2V514.2H1629.8V516.0H1630.7V514.2H1633.4V508.9H1636.9V507.1H1640.5V510.7H1644.1V508.9H1645.8V510.7H1647.6V514.2H1649.4V516.0H1651.2V517.8H1654.7V516.0H1655.6V517.8H1658.3V516.0H1661.9V517.8H1665.4V521.3H1669.0V519.6H1672.5V521.3H1679.6V523.1H1681.4V521.3H1690.3V523.1H1693.9V521.3H1697.4V519.6H1698.3V521.3H1701.0V523.1H1703.7V524.9H1704.6V523.1H1709.0V524.9H1711.7V523.1H1713.5V524.9H1715.2V530.2H1717.9V532.0H1722.3V526.7H1725.9V530.2H1729.5V532.0H1733.0V528.4H1739.3V530.2H1740.1V532.0H1743.7V528.4H1750.8V530.2H1754.4V532.0H1757.9V530.2H1761.5V528.4H1765.9V530.2H1772.2V532.0H1775.7V530.2H1779.3V533.8H1786.4V532.0H1790.0V533.8H1793.5V530.2H1797.1V533.8H1800.6V530.2H1804.2V532.0H1811.3V528.4H1814.9V533.8H1818.4V528.4H1825.5V526.7H1829.1V528.4H1836.2V530.2H1839.8V528.4H1843.3V530.2H1846.9V528.4H1850.5V526.7H1854.0V528.4H1857.6V526.7H1864.7V528.4H1868.2V526.7H1870.9V524.9H1871.8V528.4H1875.4V526.7H1878.9V524.9H1882.5V526.7H1886.0V524.9H1889.6V530.2H1893.2V526.7H1896.7V524.9H1903.8V528.4H1911.0V526.7H1914.5V528.4H1918.1V526.7H1921.6V524.9H1925.2V528.4H1928.7V526.7H1932.3V528.4H1935.9V530.2H1950.1V526.7H1957.2V528.4H1960.8V530.2H1964.3V528.4H1967.9V526.7H1971.4V528.4H1975.0V524.9H1989.2V530.2H1992.8V528.4H1996.4V530.2H1999.9V526.7H2003.5V524.9H2007.0V528.4H2017.7V532.0H2021.3V528.4H2024.8V526.7H2028.4V528.4H2031.9V530.2H2039.1V533.8H2042.6V532.0H2049.7V528.4H2053.3V530.2H2056.9V526.7H2060.4V528.4H2067.5V524.9H2071.1V528.4H2074.6V530.2H2078.2V526.7H2081.8V528.4H2083.5V530.2H2085.3V528.4H2092.4V530.2H2106.7V528.4H2110.2V532.0H2113.8V528.4H2117.4V532.0H2120.9V530.2H2128.0V532.0H2131.6V530.2H2135.1V533.8H2138.7V530.2H2142.3V535.6H2145.8V532.0H2149.4V530.2H2152.9V528.4H2156.5V532.0H2160.1V533.8H2163.6V532.0H2170.7V533.8H2174.3V530.2H2177.8V526.7H2181.4V528.4H2185.0V532.0H2188.5V530.2H2199.2V528.4H2202.8V533.8H2209.9V532.0H2217.0V533.8H2224.1V530.2H2227.7V535.6H2231.2V530.2H2234.8V532.0H2241.9V533.8H2245.5V532.0H2248.1V530.2H2252.6V528.4H2256.1V530.2H2257.0V528.4H2259.7V524.9H2263.3V523.1H2265.0V521.3H2266.8V526.7H2269.5V524.9H2273.9V526.7H2277.5V519.6H2281.0V524.9H2284.6V523.1H2291.7V521.3H2297.1V523.1H2302.4V526.7H2306.0V519.6H2309.5V523.1H2313.1V524.9H2316.6V526.7H2320.2V523.1H2322.0V524.9H2323.7V526.7H2330.9V530.2H2334.4V528.4H2338.0V526.7H2344.2V528.4H2352.2V530.2H2354.9V532.0H2355.8V528.4H2359.3V532.0H2362.9V533.8H2366.5V535.6H2370.0V533.8H2377.1V530.2H2380.7V535.6H2387.8V533.8H2391.4V535.6H2394.9V537.3H2398.5V532.0H2402.0V530.2H2405.6V535.6H2410.5V551.6H2409.2V549.8H2402.0V548.0H2391.4V551.6H2387.8V549.8H2384.2V551.6H2380.7V549.8H2373.6V548.0H2370.0V553.4H2368.2V551.6H2366.5V553.4H2362.9V546.2H2359.3V548.0H2355.8V546.2H2352.2V549.8H2348.7V544.5H2345.1V548.0H2344.2V546.2H2341.5V546.2H2339.8V544.5H2338.0V546.2H2334.4V544.5H2330.9V540.9H2327.3V546.2H2323.7V540.9H2316.6V546.2H2315.7V544.5H2313.1V542.7H2311.3V540.9H2309.5V542.7H2306.0V539.1H2302.4V537.3H2297.1V535.6H2295.3V537.3H2293.5V535.6H2291.7V537.3H2288.2V539.1H2287.3V537.3H2284.6V539.1H2279.3V540.9H2274.8V542.7H2273.9V540.9H2268.6V542.7H2263.3V544.5H2259.7V544.5H2257.0V546.2H2252.6V548.0H2249.0V544.5H2238.3V546.2H2224.1V549.8H2217.0V544.5H2213.4V548.0H2209.9V544.5H2206.3V546.2H2202.8V548.0H2199.2V546.2H2195.6V548.0H2185.0V544.5H2181.4V546.2H2177.8V548.0H2174.3V549.8H2170.7V548.0H2167.2V546.2H2156.5V544.5H2152.9V546.2H2142.3V548.0H2138.7V546.2H2135.1V544.5H2131.6V546.2H2128.0V546.2H2124.5V549.8H2120.9V548.0H2117.4V549.8H2113.8V546.2H2110.2V549.8H2103.1V544.5H2099.6V546.2H2096.0V549.8H2092.4V544.5H2088.9V548.0H2085.3V546.2H2078.2V542.7H2074.6V544.5H2071.1V540.9H2060.4V544.5H2056.9V542.7H2053.3V544.5H2049.7V542.7H2046.2V544.5H2042.6V548.0H2039.1V542.7H2031.9V546.2H2028.4V540.9H2024.8V542.7H2021.3V540.9H2017.7V542.7H2014.2V544.5H2010.6V542.7H2003.5V546.2H1999.9V546.2H1996.4V540.9H1992.8V546.2H1989.2V542.7H1985.7V540.9H1975.0V546.2H1971.4V540.9H1967.9V542.7H1964.3V544.5H1960.8V542.7H1953.7V546.2H1946.5V540.9H1943.0V542.7H1935.9V539.1H1932.3V537.3H1928.7V546.2H1925.2V542.7H1918.1V544.5H1914.5V540.9H1911.0V542.7H1900.3V540.9H1896.7V544.5H1893.2V539.1H1889.6V540.9H1882.5V546.2H1878.9V544.5H1875.4V540.9H1871.8V544.5H1868.2V544.5H1864.7V544.5H1861.1V540.9H1857.6V546.2H1854.0V540.9H1850.5V546.2H1846.9V542.7H1843.3V544.5H1839.8V544.5H1836.2V542.7H1832.7V544.5H1829.1V546.2H1825.5V544.5H1811.3V548.0H1807.8V546.2H1800.6V549.8H1797.1V548.0H1790.0V549.8H1786.4V546.2H1782.8V548.0H1779.3V544.5H1775.7V548.0H1772.2V546.2H1768.6V548.0H1761.5V542.7H1757.9V548.0H1754.4V546.2H1747.3V542.7H1743.7V544.5H1740.1V544.5H1736.6V540.9H1733.0V546.2H1729.5V546.2H1725.9V548.0H1722.3V546.2H1718.8V548.0H1715.2V544.5H1711.7V540.9H1709.9V539.1H1705.4V537.3H1704.6V542.7H1703.7V540.9H1701.0V544.5H1697.4V539.1H1695.7V537.3H1693.9V539.1H1692.1V537.3H1690.3V540.9H1689.4V542.7H1686.8V540.9H1683.2V539.1H1679.6V542.7H1676.1V539.1H1672.5V535.6H1669.0V537.3H1665.4V535.6H1661.9V533.8H1658.3V535.6H1657.4V533.8H1653.8V532.0H1651.2V528.4H1647.6V530.2H1643.2V528.4H1637.8V530.2H1634.3V532.0H1631.6V533.8H1629.8V532.0H1627.2V533.8H1626.3V535.6H1623.6V537.3H1622.7V540.9H1620.0V542.7H1619.2V539.1H1615.6V542.7H1612.0V539.1H1608.5V540.9H1604.9V539.1H1601.4V540.9H1594.2V542.7H1590.7V539.1H1587.1V540.9H1583.6V542.7H1580.0V544.5H1578.2V542.7H1576.4V540.9H1575.6V539.1H1572.9V537.3H1571.1V535.6H1569.3V533.8H1568.4V532.0H1564.9V530.2H1562.2V533.8H1561.3V532.0H1558.7V528.4H1556.0V526.7H1552.4V524.9H1550.6V523.1H1548.0V524.9H1546.2V523.1H1544.4V521.3H1543.5V519.6H1540.9V517.8H1537.3V514.2H1534.6V516.0H1533.7V521.3H1532.0V523.1H1530.2V519.6H1527.5V521.3H1526.6V524.9H1523.1V521.3H1516.8V523.1H1515.1V524.9H1512.4V528.4H1510.6V530.2H1508.8V524.9H1506.2V526.7H1504.4V528.4H1501.7V533.8H1498.2V530.2H1496.4V532.0H1494.6V533.8H1486.6V535.6H1483.9V532.0H1482.1V533.8H1480.4V532.0H1479.5V533.8H1476.8V535.6H1473.2V532.0H1469.7V537.3H1459.0V533.8H1455.5V537.3H1448.3V535.6H1444.8V537.3H1437.7V533.8H1434.1V535.6H1430.5V537.3H1427.0V539.1H1423.4V537.3H1420.8V535.6H1416.3V532.0H1415.4V530.2H1412.8V528.4H1409.2V532.0H1405.6V526.7H1404.7V524.9H1403.9V523.1H1403.0V521.3H1402.1V526.7H1401.2V524.9H1399.4V523.1H1398.5V517.8H1396.7V516.0H1395.8V514.2H1395.0V508.9H1394.1V507.1H1392.3V505.3H1391.4V507.1H1390.5V505.3H1389.6V500.0H1388.7V494.6H1387.8V485.7H1387.0V480.4H1386.1V475.1H1385.2V469.7H1384.3V466.2H1383.4V460.8H1382.5V455.5H1381.6V448.4H1380.7V443.0H1379.8V437.7H1378.9V439.5H1378.1V444.8H1377.2V451.9H1376.3V459.1H1375.4V464.4H1374.5V471.5H1373.6V478.6H1372.7V485.7H1371.8V491.1H1370.9V498.2H1370.1V503.5H1369.2V505.3H1368.3V507.1H1367.4V508.9H1365.6V510.7H1364.7V512.4H1363.8V514.2H1362.9V516.0H1362.0V517.8H1361.2V519.6H1360.3V521.3H1358.5V523.1H1355.8V530.2H1348.7V528.4H1345.1V524.9H1338.0V523.1H1334.5V530.2H1330.9V526.7H1327.3V523.1H1323.8V528.4H1320.2V524.9H1316.7V526.7H1306.0V524.9H1298.9V528.4H1298.0V530.2H1291.8V532.0H1288.2V528.4H1284.6V533.8H1281.1V528.4H1277.5V533.8H1266.9V535.6H1263.3V530.2H1256.2V533.8H1245.5V535.6H1241.9V533.8H1238.4V537.3H1234.8V533.8H1231.3V535.6H1227.7V530.2H1224.1V533.8H1220.6V535.6H1217.0V530.2H1213.5V528.4H1209.9V526.7H1206.4V533.8H1199.2V530.2H1192.1V532.0H1188.6V530.2H1177.9V532.0H1174.3V528.4H1166.3V526.7H1160.1V524.9H1158.3V523.1H1153.9V521.3H1153.0V524.9H1149.4V528.4H1147.6V526.7H1145.9V524.9H1138.7V523.1H1136.1V524.9H1135.2V523.1H1128.1V530.2H1124.5V528.4H1121.0V526.7H1117.4V528.4H1110.3V533.8H1106.7V532.0H1103.2V530.2H1099.6V528.4H1096.0V535.6H1088.9V528.4H1087.1V530.2H1085.4V532.0H1083.6V533.8H1081.8V532.0H1078.2V533.8H1074.7V535.6H1067.6V537.3H1064.0V533.8H1060.5V537.3H1056.9V539.1H1053.3V542.7H1049.8V533.8H1046.2V535.6H1035.5V537.3H1028.4V539.1H1021.3V537.3H1014.2V540.9H1010.6V537.3H1007.1V539.1H1003.5V535.6H992.8V537.3H989.3V535.6H985.7V533.8H978.6V539.1H975.0V540.9H971.5V532.0H967.9V535.6H964.4V532.0H953.7V530.2H950.1V528.4H949.2V526.7H946.6V535.6H943.0V530.2H939.5V526.7H935.9V532.0H935.0V530.2H932.3V532.0H928.8V526.7H927.0V524.9H925.2V530.2H923.4V528.4H921.7V526.7H919.0V524.9H918.1V521.3H914.6V523.1H913.7V521.3H909.2V519.6H907.4V523.1H906.5V521.3H903.9V517.8H901.2V516.0H900.3V524.9H898.5V523.1H896.8V521.3H893.2V517.8H889.6V512.4H887.0V510.7H886.1V517.8H884.3V516.0H882.5V512.4H880.7V510.7H879.0V508.9H878.1V507.1H876.3V505.3H875.4V507.1H874.5V505.3H871.8V501.8H871.0V500.0H869.2V498.2H868.3V505.3H867.4V503.5H865.6V501.8H864.7V494.6H863.8V492.9H861.2V496.4H858.5V494.6H857.6V496.4H856.7V494.6H854.1V492.9H853.2V491.1H850.5V489.3H848.7V487.5H846.9V480.4H843.4V482.2H836.3V487.5H832.7V489.3H831.8V491.1H829.1V492.9H825.6V494.6H822.0V491.1H818.5V492.9H814.9V494.6H807.8V496.4H806.9V494.6H804.2V485.7H802.5V484.0H800.7V487.5H798.9V485.7H797.1V482.2H796.2V480.4H794.5V478.6H793.6V482.2H792.7V480.4H790.9V478.6H790.0V480.4H787.3V478.6H786.4V476.8H785.6V475.1H784.7V473.3H782.0V471.5H781.1V469.7H780.2V468.0H779.3V466.2H777.5V464.4H776.7V462.6H774.9V460.8H774.0V459.1H773.1V457.3H772.2V448.4H771.3V446.6H770.4V443.0H769.5V441.3H768.7V444.8H767.8V441.3H766.9V439.5H766.0V437.7H765.1V430.6H764.2V428.8H763.3V425.2H762.4V423.5H761.5V428.8H760.6V430.6H759.8V432.4H758.9V435.9H758.0V432.4H757.1V434.1H756.2V435.9H755.3V437.7H753.5V439.5H752.6V441.3H751.7V443.0H750.9V448.4H750.0V450.2H749.1V451.9H748.2V453.7H747.3V459.1H746.4V460.8H745.5V462.6H744.6V464.4H743.7V464.4H742.9V466.2H742.0V468.0H741.1V469.7H740.2V471.5H739.3V473.3H738.4V475.1H737.5V476.8H736.6V480.4H735.7V482.2H734.8V484.0H734.0V485.7H733.1V484.0H732.2V485.7H731.3V489.3H730.4V491.1H729.5V496.4H728.6V498.2H727.7V500.0H726.8V501.8H725.9V500.0H725.1V501.8H722.4V505.3H715.3V503.5H711.7V507.1H708.2V503.5H704.6V505.3H693.9V510.7H690.4V512.4H686.8V508.9H683.2V510.7H679.7V508.9H669.0V514.2H665.5V512.4H658.3V510.7H651.2V514.2H644.1V507.1H640.5V512.4H629.9V507.1H626.3V508.9H625.4V507.1H619.2V510.7H612.1V508.9H608.5V510.7H605.0V503.5H601.4V508.9H597.8V501.8H594.3V505.3H590.7V503.5H587.2V500.0H586.3V498.2H583.6V500.0H580.0V498.2H578.3V496.4H576.5V492.9H573.8V491.1H572.9V494.6H570.3V492.9H566.7V491.1H565.8V492.9H564.9V491.1H562.3V489.3H561.4V487.5H556.9V485.7H555.1V489.3H554.2V487.5H551.6V485.7H548.0V487.5H544.5V482.2H540.9V487.5H538.2V489.3H537.3V485.7H536.5V487.5H533.8V489.3H532.0V491.1H530.2V489.3H528.4V491.1H526.7V489.3H524.9V491.1H523.1V492.9H519.6V503.5H516.9V505.3H516.0V501.8H512.4V500.0H510.7V501.8H508.9V501.8H508.0V503.5H503.5V505.3H501.8V507.1H499.1V508.9H498.2V505.3H494.6V507.1H492.0V508.9H491.1V512.4H488.4V514.2H487.5V508.9H484.0V514.2H479.5V516.0H476.8V510.7H474.2V512.4H473.3V516.0H469.7V517.8H468.8V519.6H466.2V516.0H462.6V519.6H459.1V516.0H455.5V514.2H453.7V516.0H451.9V514.2H448.4V519.6H441.3V517.8H437.7V524.9H434.1V521.3H430.6V523.1H429.7V524.9H423.5V521.3H419.9V523.1H411.0V524.9H409.2V523.1H398.6V524.9H395.0V528.4H391.4V526.7H387.9V532.0H384.3V526.7H377.2V524.9H370.1V530.2H366.5V526.7H363.0V530.2H359.4V528.4H352.3V526.7H348.7V521.3H345.2V524.9H341.6V526.7H338.1V523.1H334.5V524.9H330.9V526.7H327.4V524.9H323.8V530.2H320.3V524.9H316.7V528.4H313.2V526.7H298.9V523.1H295.4V528.4H288.2V523.1H284.7V530.2H281.1V526.7H277.6V528.4H274.0V519.6H270.5V524.9H266.9V521.3H263.3V524.9H259.8V523.1H256.2V521.3H252.7V523.1H245.5V521.3H242.0V524.9H238.4V523.1H235.8V521.3H234.9V523.1H231.3V519.6H227.7V521.3H226.9V519.6H220.6V521.3H219.7V519.6H217.1V523.1H214.4V521.3H213.5V519.6H212.6V517.8H210.0V514.2H205.0Z" fill="#FF3EA5" fill-opacity="0.6"/>
<path d="M205.0,498.2H206.4V496.4H210.0V498.2H212.6V500.0H213.5V501.8H217.1V500.0H220.6V503.5H225.1V505.3H227.7V503.5H228.6V505.3H231.3V503.5H238.4V505.3H252.7V508.9H256.2V505.3H259.8V508.9H266.0V510.7H266.9V507.1H267.8V508.9H277.6V507.1H284.7V510.7H291.8V508.9H292.7V510.7H295.4V507.1H298.9V508.9H302.5V510.7H306.0V507.1H309.6V505.3H313.2V508.9H316.7V505.3H320.3V507.1H327.4V508.9H330.9V507.1H338.1V508.9H345.2V505.3H348.7V512.4H352.3V508.9H355.9V512.4H359.4V510.7H366.5V507.1H370.1V508.9H373.6V512.4H380.8V510.7H384.3V514.2H385.2V512.4H387.9V507.1H391.4V510.7H395.0V507.1H398.6V508.9H402.1V507.1H403.9V505.3H419.9V507.1H423.5V505.3H428.8V503.5H430.6V505.3H436.8V503.5H437.7V501.8H441.3V503.5H444.8V501.8H455.5V498.2H462.6V500.0H466.2V496.4H467.1V494.6H469.7V500.0H471.5V498.2H473.3V496.4H476.0V494.6H479.5V492.9H480.4V496.4H482.2V494.6H484.0V489.3H486.6V487.5H487.5V491.1H490.2V489.3H491.1V487.5H494.6V485.7H495.5V484.0H498.2V487.5H500.9V485.7H501.8V487.5H503.5V485.7H505.3V482.2H507.1V480.4H510.7V478.6H512.4V484.0H513.3V482.2H516.0V484.0H516.9V482.2H519.6V478.6H520.4V476.8H523.1V473.3H524.9V471.5H526.7V473.3H529.3V471.5H532.9V469.7H533.8V468.0H537.3V464.4H540.9V466.2H544.5V468.0H555.1V464.4H558.7V468.0H560.5V469.7H562.3V468.0H563.1V469.7H567.6V471.5H569.4V469.7H570.3V471.5H572.9V473.3H573.8V475.1H576.5V476.8H581.8V478.6H583.6V476.8H585.4V478.6H587.2V480.4H591.6V482.2H594.3V484.0H597.8V489.3H601.4V485.7H602.3V487.5H605.0V492.9H608.5V487.5H612.1V491.1H613.0V492.9H619.2V491.1H620.1V492.9H622.8V489.3H626.3V492.9H631.6V494.6H633.4V496.4H636.1V498.2H637.0V494.6H640.5V496.4H644.1V498.2H647.7V494.6H651.2V496.4H654.8V498.2H658.3V496.4H665.5V491.1H669.0V494.6H672.6V492.9H676.1V491.1H679.7V496.4H683.2V491.1H693.9V492.9H701.0V489.3H703.7V487.5H704.6V489.3H708.2V491.1H711.7V487.5H713.5V485.7H718.8V487.5H719.7V485.7H720.6V484.0H721.5V480.4H723.3V478.6H724.2V476.8H725.1V473.3H725.9V471.5H726.8V469.7H727.7V468.0H728.6V466.2H730.4V464.4H731.3V462.6H732.2V460.8H733.1V453.7H734.0V451.9H734.8V450.2H735.7V448.4H736.6V451.9H737.5V450.2H738.4V448.4H739.3V444.8H740.2V443.0H741.1V441.3H742.0V439.5H742.9V437.7H743.7V434.1H744.6V430.6H745.5V428.8H746.4V427.0H748.2V425.2H749.1V421.7H750.0V419.9H750.9V416.4H751.7V414.6H752.6V412.8H753.5V411.0H754.4V407.5H755.3V403.9H756.2V402.1H757.1V400.3H758.0V402.1H758.9V400.3H763.3V402.1H764.2V400.3H765.1V402.1H766.0V403.9H766.9V405.7H767.8V409.2H768.7V411.0H769.5V412.8H770.4V414.6H771.3V418.1H772.2V421.7H773.1V423.5H774.0V427.0H774.9V428.8H775.8V432.4H776.7V434.1H777.5V437.7H778.4V439.5H779.3V441.3H780.2V443.0H782.0V444.8H782.9V446.6H783.8V448.4H784.7V450.2H785.6V451.9H786.4V450.2H787.3V451.9H789.1V453.7H790.0V457.3H790.9V459.1H791.8V460.8H793.6V464.4H795.3V466.2H798.9V468.0H802.5V469.7H804.2V475.1H807.8V471.5H809.6V473.3H813.1V475.1H814.9V473.3H815.8V475.1H818.5V476.8H821.1V475.1H822.0V473.3H825.6V471.5H829.1V473.3H830.0V471.5H832.7V468.0H836.3V466.2H838.0V464.4H839.8V468.0H841.6V466.2H843.4V464.4H846.9V468.0H852.3V469.7H857.6V473.3H858.5V475.1H861.2V473.3H863.8V475.1H864.7V478.6H865.6V480.4H867.4V482.2H868.3V478.6H870.1V480.4H871.9V484.0H873.6V485.7H875.4V482.2H876.3V484.0H878.1V485.7H879.0V489.3H879.9V491.1H881.6V492.9H882.5V491.1H883.4V492.9H885.2V494.6H886.1V492.9H887.9V494.6H889.6V498.2H893.2V500.0H896.8V503.5H900.3V501.8H903.9V505.3H907.4V500.0H911.0V503.5H914.6V505.3H917.2V507.1H918.1V508.9H927.9V510.7H928.8V507.1H932.3V510.7H936.8V512.4H939.5V510.7H946.6V512.4H950.1V516.0H957.3V517.8H960.8V519.6H964.4V517.8H967.9V519.6H971.5V517.8H975.0V519.6H978.6V521.3H985.7V523.1H989.3V517.8H992.8V519.6H996.4V521.3H1003.5V519.6H1007.1V521.3H1010.6V523.1H1014.2V521.3H1017.8V523.1H1021.3V521.3H1028.4V517.8H1039.1V523.1H1042.7V519.6H1046.2V521.3H1056.9V519.6H1064.0V517.8H1071.1V516.0H1078.2V517.8H1088.9V516.0H1090.7V514.2H1096.0V516.0H1102.3V514.2H1103.2V516.0H1112.1V514.2H1113.8V512.4H1115.6V510.7H1117.4V514.2H1118.3V512.4H1122.7V510.7H1125.4V508.9H1128.1V507.1H1129.8V505.3H1131.6V508.9H1135.2V507.1H1138.7V508.9H1142.3V505.3H1145.9V507.1H1156.5V510.7H1163.7V512.4H1164.5V514.2H1167.2V510.7H1169.9V512.4H1170.8V516.0H1177.9V514.2H1188.6V517.8H1192.1V514.2H1193.0V516.0H1196.6V517.8H1202.8V516.0H1206.4V512.4H1208.1V514.2H1209.9V516.0H1210.8V517.8H1213.5V516.0H1217.0V514.2H1220.6V516.0H1224.1V517.8H1227.7V519.6H1231.3V517.8H1234.8V519.6H1238.4V516.0H1239.3V517.8H1253.5V516.0H1259.7V517.8H1266.9V514.2H1270.4V517.8H1274.0V519.6H1277.5V514.2H1278.4V512.4H1281.1V516.0H1284.6V514.2H1286.4V512.4H1291.8V514.2H1295.3V512.4H1298.9V514.2H1302.4V512.4H1306.0V514.2H1309.6V508.9H1313.1V512.4H1316.7V510.7H1320.2V514.2H1322.9V512.4H1323.8V510.7H1327.3V512.4H1338.0V508.9H1341.6V510.7H1345.1V508.9H1348.7V512.4H1352.3V510.7H1353.1V508.9H1354.0V507.1H1354.9V505.3H1355.8V503.5H1356.7V500.0H1357.6V498.2H1358.5V496.4H1359.4V492.9H1360.3V491.1H1361.2V489.3H1362.0V487.5H1362.9V485.7H1363.8V482.2H1364.7V476.8H1365.6V469.7H1366.5V462.6H1367.4V457.3H1368.3V450.2H1369.2V444.8H1370.0V439.5H1370.9V432.4H1371.8V427.0H1372.7V421.7H1373.6V414.6H1374.5V409.2H1375.4V402.1H1377.2V398.6H1378.1V400.3H1378.9V402.1H1379.8V400.3H1381.6V402.1H1382.5V407.5H1383.4V414.6H1384.3V421.7H1385.2V427.0H1386.1V432.4H1387.0V439.5H1387.8V444.8H1388.7V450.2H1389.6V457.3H1390.5V462.6H1391.4V464.4H1392.3V469.7H1393.2V475.1H1394.1V480.4H1395.0V485.7H1395.8V489.3H1396.7V491.1H1398.5V498.2H1399.4V500.0H1401.2V501.8H1403.9V503.5H1404.7V505.3H1405.6V507.1H1407.4V508.9H1408.3V510.7H1409.2V514.2H1411.0V516.0H1412.8V514.2H1414.5V516.0H1416.3V517.8H1419.9V516.0H1420.8V517.8H1423.4V519.6H1427.0V521.3H1433.2V519.6H1434.1V521.3H1441.2V519.6H1451.9V521.3H1455.5V519.6H1459.0V521.3H1466.1V523.1H1469.7V519.6H1473.2V517.8H1476.8V519.6H1480.4V516.0H1488.4V514.2H1494.6V516.0H1498.2V517.8H1499.0V516.0H1501.7V512.4H1505.3V508.9H1508.8V510.7H1515.1V508.9H1519.5V507.1H1520.4V505.3H1530.2V501.8H1533.7V500.0H1535.5V498.2H1537.3V500.0H1540.9V501.8H1544.4V503.5H1546.2V505.3H1548.0V503.5H1548.9V505.3H1551.5V503.5H1552.4V505.3H1555.1V508.9H1557.8V510.7H1561.3V512.4H1562.2V514.2H1564.0V516.0H1567.6V517.8H1569.3V519.6H1572.9V521.3H1578.2V523.1H1580.0V524.9H1581.8V526.7H1583.6V524.9H1587.1V526.7H1594.2V528.4H1601.4V526.7H1612.0V524.9H1616.5V523.1H1619.2V521.3H1621.8V519.6H1624.5V517.8H1627.2V516.0H1630.7V514.2H1633.4V510.7H1640.5V512.4H1645.8V514.2H1649.4V516.0H1651.2V517.8H1654.7V516.0H1655.6V517.8H1658.3V519.6H1661.9V521.3H1669.0V523.1H1672.5V521.3H1676.1V524.9H1681.4V523.1H1683.2V524.9H1686.8V521.3H1690.3V523.1H1693.9V521.3H1698.3V523.1H1703.7V524.9H1704.6V523.1H1708.1V526.7H1709.0V528.4H1711.7V526.7H1713.5V528.4H1715.2V530.2H1717.9V532.0H1722.3V530.2H1729.5V532.0H1733.0V530.2H1739.3V532.0H1743.7V528.4H1747.3V530.2H1754.4V532.0H1761.5V530.2H1765.9V532.0H1768.6V530.2H1772.2V532.0H1775.7V530.2H1779.3V533.8H1800.6V532.0H1814.9V533.8H1818.4V532.0H1825.5V530.2H1832.7V528.4H1836.2V530.2H1839.8V532.0H1843.3V530.2H1850.5V528.4H1854.0V530.2H1857.6V528.4H1864.7V530.2H1868.2V528.4H1870.9V526.7H1871.8V530.2H1878.9V528.4H1882.5V530.2H1886.0V526.7H1889.6V530.2H1896.7V528.4H1907.4V530.2H1911.0V528.4H1928.7V526.7H1932.3V528.4H1935.9V530.2H1943.0V532.0H1946.5V530.2H1953.7V526.7H1957.2V528.4H1960.8V530.2H1964.3V528.4H1989.2V532.0H1992.8V530.2H1999.9V528.4H2010.6V530.2H2017.7V532.0H2021.3V530.2H2028.4V532.0H2031.9V530.2H2035.5V532.0H2039.1V533.8H2042.6V532.0H2053.3V530.2H2056.9V528.4H2060.4V530.2H2064.0V528.4H2071.1V530.2H2081.8V528.4H2083.5V530.2H2085.3V532.0H2088.9V530.2H2092.4V532.0H2096.0V530.2H2099.6V532.0H2110.2V533.8H2113.8V532.0H2120.9V530.2H2124.5V533.8H2131.6V532.0H2135.1V533.8H2138.7V532.0H2142.3V535.6H2145.8V532.0H2160.1V533.8H2163.6V532.0H2170.7V533.8H2177.8V530.2H2181.4V532.0H2192.1V533.8H2199.2V532.0H2202.8V533.8H2209.9V532.0H2217.0V533.8H2224.1V532.0H2227.7V535.6H2231.2V533.8H2238.3V532.0H2241.9V533.8H2248.1V532.0H2252.6V530.2H2257.0V528.4H2263.3V526.7H2265.0V524.9H2266.8V528.4H2269.5V526.7H2277.5V523.1H2281.0V524.9H2288.2V523.1H2291.7V521.3H2297.1V523.1H2298.8V524.9H2302.4V526.7H2306.0V523.1H2309.5V526.7H2316.6V528.4H2320.2V526.7H2322.0V528.4H2323.7V526.7H2330.9V530.2H2344.2V532.0H2345.1V530.2H2348.7V532.0H2354.9V533.8H2355.8V532.0H2359.3V535.6H2373.6V533.8H2380.7V535.6H2387.8V533.8H2391.4V535.6H2394.9V537.3H2398.5V535.6H2402.0V533.8H2405.6V535.6H2410.5V549.8H2409.2V546.2H2405.6V549.8H2402.0V548.0H2394.9V546.2H2391.4V548.0H2387.8V549.8H2384.2V548.0H2380.7V546.2H2377.1V548.0H2370.0V549.8H2368.2V548.0H2366.5V549.8H2362.9V546.2H2359.3V544.5H2355.8V546.2H2352.2V548.0H2348.7V544.5H2344.2V542.7H2341.5V546.2H2339.8V544.5H2334.4V542.7H2330.9V540.9H2327.3V542.7H2323.7V540.9H2316.6V544.5H2315.7V542.7H2313.1V540.9H2311.3V539.1H2302.4V537.3H2297.1V535.6H2293.5V533.8H2291.7V535.6H2288.2V537.3H2287.3V535.6H2284.6V537.3H2279.3V539.1H2277.5V537.3H2274.8V539.1H2273.9V540.9H2270.4V539.1H2268.6V540.9H2266.8V542.7H2259.7V544.5H2257.0V546.2H2256.1V544.5H2238.3V546.2H2234.8V544.5H2227.7V546.2H2224.1V548.0H2220.5V546.2H2217.0V544.5H2206.3V546.2H2195.6V544.5H2174.3V548.0H2170.7V544.5H2167.2V546.2H2156.5V542.7H2152.9V546.2H2149.4V544.5H2145.8V546.2H2142.3V544.5H2138.7V546.2H2135.1V544.5H2128.0V542.7H2124.5V546.2H2120.9V544.5H2117.4V546.2H2113.8V544.5H2110.2V546.2H2103.1V542.7H2099.6V544.5H2096.0V546.2H2092.4V540.9H2088.9V544.5H2085.3V542.7H2074.6V544.5H2071.1V540.9H2060.4V542.7H2053.3V540.9H2049.7V542.7H2042.6V544.5H2039.1V542.7H2028.4V540.9H2010.6V542.7H1999.9V544.5H1996.4V540.9H1992.8V542.7H1989.2V540.9H1975.0V542.7H1971.4V540.9H1960.8V542.7H1957.2V540.9H1953.7V542.7H1946.5V540.9H1943.0V542.7H1935.9V539.1H1932.3V537.3H1928.7V542.7H1925.2V540.9H1921.6V542.7H1918.1V540.9H1911.0V542.7H1900.3V539.1H1896.7V542.7H1893.2V539.1H1889.6V540.9H1882.5V542.7H1875.4V540.9H1868.2V544.5H1864.7V540.9H1857.6V542.7H1854.0V540.9H1850.5V544.5H1846.9V540.9H1843.3V542.7H1839.8V544.5H1836.2V542.7H1832.7V540.9H1829.1V544.5H1807.8V546.2H1797.1V544.5H1793.5V546.2H1779.3V544.5H1765.1V546.2H1761.5V542.7H1757.9V546.2H1754.4V544.5H1747.3V542.7H1740.1V544.5H1736.6V540.9H1733.0V546.2H1729.5V542.7H1725.9V544.5H1722.3V546.2H1718.8V544.5H1715.2V540.9H1709.9V539.1H1705.4V537.3H1704.6V540.9H1703.7V539.1H1701.0V540.9H1697.4V537.3H1695.7V535.6H1693.9V539.1H1692.1V537.3H1689.4V539.1H1686.8V537.3H1679.6V539.1H1676.1V537.3H1672.5V535.6H1665.4V533.8H1661.9V532.0H1658.3V535.6H1657.4V533.8H1653.8V532.0H1651.2V528.4H1647.6V530.2H1644.1V526.7H1643.2V524.9H1640.5V526.7H1637.8V528.4H1634.3V530.2H1633.4V528.4H1631.6V530.2H1627.2V532.0H1626.3V535.6H1623.6V537.3H1620.0V539.1H1619.2V537.3H1615.6V539.1H1597.8V540.9H1594.2V539.1H1590.7V537.3H1587.1V539.1H1580.0V540.9H1578.2V539.1H1576.4V537.3H1575.6V535.6H1571.1V533.8H1569.3V532.0H1568.4V530.2H1564.9V528.4H1562.2V532.0H1561.3V530.2H1558.7V528.4H1556.0V526.7H1555.1V524.9H1552.4V523.1H1551.5V524.9H1550.6V523.1H1548.0V521.3H1546.2V519.6H1544.4V517.8H1543.5V516.0H1540.9V514.2H1534.6V516.0H1533.7V519.6H1532.0V521.3H1530.2V517.8H1527.5V519.6H1526.6V523.1H1523.1V521.3H1516.8V523.1H1516.0V521.3H1515.1V523.1H1512.4V524.9H1510.6V526.7H1508.8V523.1H1506.2V524.9H1505.3V526.7H1504.4V528.4H1501.7V530.2H1498.2V528.4H1496.4V530.2H1494.6V532.0H1486.6V533.8H1483.9V530.2H1482.1V532.0H1479.5V533.8H1476.8V535.6H1473.2V532.0H1469.7V533.8H1451.9V535.6H1444.8V533.8H1434.1V532.0H1430.5V537.3H1427.0V535.6H1420.8V533.8H1416.3V532.0H1415.4V530.2H1412.8V528.4H1405.6V526.7H1404.7V524.9H1403.9V523.1H1403.0V521.3H1402.1V523.1H1401.2V521.3H1399.4V519.6H1398.5V514.2H1396.7V512.4H1395.8V510.7H1395.0V508.9H1394.1V507.1H1392.3V505.3H1391.4V507.1H1390.5V505.3H1389.6V500.0H1388.7V494.6H1387.8V485.7H1387.0V480.4H1386.1V475.1H1385.2V469.7H1384.3V464.4H1383.4V459.1H1382.5V453.7H1381.6V446.6H1380.7V441.3H1379.8V435.9H1378.9V437.7H1378.1V443.0H1377.2V450.2H1376.3V457.3H1375.4V462.6H1374.5V469.7H1373.6V475.1H1372.7V482.2H1371.8V487.5H1370.9V494.6H1370.1V500.0H1369.2V501.8H1368.3V503.5H1367.4V505.3H1365.6V507.1H1364.7V508.9H1363.8V510.7H1362.9V516.0H1362.0V517.8H1361.2V519.6H1360.3V521.3H1358.5V523.1H1355.8V526.7H1348.7V524.9H1341.6V523.1H1334.5V526.7H1330.9V524.9H1327.3V523.1H1323.8V526.7H1320.2V524.9H1313.1V523.1H1309.6V526.7H1306.0V524.9H1298.0V526.7H1295.3V530.2H1288.2V528.4H1284.6V530.2H1281.1V528.4H1277.5V532.0H1274.0V530.2H1266.9V532.0H1263.3V530.2H1241.9V533.8H1234.8V532.0H1227.7V528.4H1224.1V530.2H1220.6V532.0H1217.0V530.2H1213.5V528.4H1209.9V526.7H1206.4V530.2H1195.7V528.4H1192.1V532.0H1188.6V530.2H1174.3V528.4H1170.8V526.7H1166.3V524.9H1160.1V523.1H1158.3V521.3H1156.5V523.1H1153.9V521.3H1149.4V524.9H1147.6V523.1H1145.9V521.3H1142.3V523.1H1138.7V521.3H1136.1V523.1H1128.1V526.7H1124.5V524.9H1121.0V526.7H1117.4V528.4H1110.3V530.2H1106.7V528.4H1103.2V530.2H1099.6V528.4H1096.0V532.0H1088.9V528.4H1087.1V530.2H1085.4V528.4H1083.6V530.2H1081.8V528.4H1078.2V530.2H1071.1V532.0H1067.6V533.8H1060.5V537.3H1049.8V533.8H1042.7V535.6H1039.1V532.0H1032.0V533.8H1028.4V535.6H1021.3V537.3H1017.8V535.6H1014.2V537.3H1007.1V535.6H1000.0V532.0H992.8V535.6H985.7V533.8H978.6V535.6H971.5V532.0H964.4V530.2H960.8V532.0H953.7V530.2H950.1V528.4H949.2V526.7H946.6V530.2H943.0V526.7H935.0V524.9H932.3V526.7H928.8V524.9H927.0V523.1H925.2V526.7H923.4V524.9H919.0V523.1H918.1V521.3H913.7V519.6H911.0V521.3H909.2V519.6H907.4V523.1H906.5V521.3H903.9V517.8H901.2V516.0H900.3V521.3H898.5V519.6H896.8V517.8H889.6V510.7H887.0V508.9H886.1V516.0H884.3V514.2H882.5V510.7H880.7V508.9H878.1V507.1H876.3V505.3H875.4V507.1H874.5V505.3H871.8V500.0H871.0V498.2H869.2V496.4H868.3V501.8H867.4V500.0H865.6V498.2H864.7V494.6H863.8V492.9H858.5V491.1H857.6V492.9H856.7V491.1H854.1V489.3H853.2V487.5H850.5V485.7H848.7V484.0H846.9V480.4H843.4V482.2H836.3V485.7H831.8V487.5H829.1V489.3H818.5V491.1H811.4V489.3H807.8V492.9H806.9V491.1H804.2V485.7H802.5V484.0H798.9V482.2H796.2V480.4H794.5V478.6H793.6V480.4H792.7V478.6H790.9V476.8H790.0V475.1H787.3V473.3H786.4V476.8H785.6V475.1H784.7V473.3H782.9V469.7H782.0V468.0H781.1V466.2H780.2V464.4H779.3V462.6H777.5V460.8H776.7V459.1H774.9V457.3H774.0V455.5H773.1V453.7H772.2V446.6H771.3V444.8H770.4V441.3H769.5V439.5H768.7V441.3H767.8V437.7H766.9V435.9H766.0V434.1H765.1V428.8H764.2V427.0H763.3V423.5H762.4V421.7H761.5V425.2H760.6V427.0H759.8V428.8H758.9V432.4H757.1V434.1H756.2V435.9H755.3V437.7H753.5V439.5H752.6V441.3H751.7V443.0H750.9V448.4H750.0V450.2H749.1V451.9H748.2V453.7H747.3V455.5H746.4V457.3H745.5V459.1H744.6V460.8H743.7V464.4H742.9V466.2H742.0V468.0H741.1V469.7H740.2V471.5H739.3V473.3H738.4V475.1H737.5V476.8H735.7V478.6H734.8V480.4H734.0V482.2H733.1V484.0H732.2V485.7H731.3V489.3H730.4V491.1H729.5V494.6H728.6V496.4H727.7V498.2H726.8V500.0H725.9V496.4H725.1V498.2H722.4V501.8H715.3V503.5H711.7V501.8H708.2V503.5H704.6V505.3H693.9V508.9H683.2V510.7H679.7V505.3H672.6V508.9H669.0V510.7H658.3V508.9H654.8V510.7H651.2V514.2H647.7V510.7H644.1V507.1H640.5V512.4H637.0V508.9H633.4V510.7H629.9V507.1H625.4V505.3H622.8V507.1H619.2V510.7H615.6V507.1H612.1V503.5H608.5V507.1H605.0V503.5H601.4V505.3H597.8V501.8H594.3V500.0H590.7V501.8H587.2V500.0H586.3V498.2H583.6V496.4H580.0V492.9H578.3V491.1H576.5V492.9H573.8V491.1H570.3V489.3H569.4V491.1H566.7V489.3H564.9V487.5H562.3V485.7H561.4V484.0H558.7V482.2H556.9V480.4H555.1V485.7H554.2V484.0H544.5V482.2H540.9V484.0H538.2V485.7H537.3V482.2H536.5V484.0H533.8V487.5H532.0V489.3H528.4V491.1H526.7V489.3H524.9V491.1H523.1V492.9H519.6V500.0H516.9V501.8H516.0V498.2H510.7V500.0H508.9V498.2H508.0V500.0H505.3V501.8H503.5V503.5H501.8V505.3H499.1V507.1H498.2V505.3H494.6V503.5H492.0V505.3H491.1V507.1H488.4V508.9H487.5V505.3H484.0V510.7H479.5V512.4H476.8V510.7H474.2V512.4H473.3V514.2H469.7V512.4H468.8V514.2H466.2V516.0H455.5V514.2H453.7V516.0H451.9V514.2H448.4V516.0H444.8V519.6H441.3V517.8H437.7V519.6H430.6V521.3H429.7V523.1H427.0V521.3H419.9V519.6H412.8V523.1H411.0V524.9H409.2V523.1H405.7V521.3H398.6V524.9H391.4V526.7H377.2V524.9H370.1V526.7H366.5V523.1H363.0V526.7H359.4V524.9H355.9V526.7H352.3V524.9H348.7V521.3H345.2V524.9H341.6V523.1H338.1V521.3H334.5V524.9H327.4V521.3H323.8V526.7H320.3V523.1H309.6V526.7H306.0V524.9H302.5V526.7H298.9V523.1H295.4V524.9H288.2V523.1H284.7V526.7H281.1V524.9H274.0V519.6H270.5V523.1H266.9V521.3H252.7V523.1H249.1V521.3H238.4V523.1H235.8V521.3H234.9V519.6H227.7V521.3H226.9V519.6H220.6V516.0H219.7V514.2H217.1V519.6H214.4V517.8H213.5V516.0H212.6V514.2H210.0V510.7H206.4V512.4H205.0Z" fill="#FF3EA5" stroke="#FF3EA5" stroke-width="0.8" stroke-linejoin="round"/>
<path d="M205.0,720.6H206.4V729.5H210.0V724.2H210.8V725.9H213.5V724.2H214.4V725.9H220.6V733.1H223.3V734.8H224.2V731.3H227.7V734.8H231.3V729.5H234.9V734.8H238.4V727.7H242.0V731.3H245.5V729.5H249.1V734.8H252.7V733.1H256.2V734.8H259.8V742.0H263.3V734.8H266.9V729.5H270.5V738.4H274.0V743.7H277.6V740.2H282.9V742.0H284.7V736.6H288.2V747.3H291.8V742.0H295.4V740.2H302.5V743.7H306.0V738.4H309.6V740.2H313.2V743.7H314.0V745.5H316.7V743.7H320.3V740.2H323.8V749.1H327.4V745.5H330.9V740.2H334.5V738.4H345.2V740.2H348.7V738.4H351.4V736.6H352.3V740.2H359.4V742.0H363.0V743.7H364.8V742.0H366.5V740.2H367.4V738.4H370.1V736.6H377.2V727.7H380.8V734.8H384.3V733.1H387.9V734.8H393.2V733.1H395.0V736.6H398.6V729.5H403.0V727.7H409.2V729.5H412.8V727.7H416.4V729.5H423.5V733.1H427.0V727.7H427.9V725.9H430.6V722.4H433.3V720.6H437.7V722.4H438.6V720.6H441.3V722.4H448.4V718.8H451.0V717.1H451.9V715.3H454.6V713.5H455.5V720.6H459.1V713.5H460.8V711.7H462.6V722.4H466.2V720.6H469.7V711.7H473.3V715.3H474.2V713.5H476.8V717.1H480.4V706.4H484.0V709.9H487.5V711.7H491.1V708.2H493.8V706.4H494.6V708.2H498.2V702.8H499.1V701.0H501.8V704.6H505.3V702.8H506.2V701.0H508.9V708.2H509.8V706.4H512.4V699.3H516.0V693.9H519.6V692.1H521.3V690.4H523.1V697.5H524.0V695.7H526.7V697.5H529.3V695.7H530.2V692.1H532.9V690.4H533.8V695.7H537.3V686.8H540.9V692.1H544.5V690.4H548.0V692.1H555.1V695.7H558.7V699.3H562.3V690.4H565.8V686.8H569.4V695.7H571.2V697.5H572.9V692.1H574.7V693.9H576.5V699.3H578.3V701.0H580.0V692.1H580.9V693.9H583.6V697.5H585.4V699.3H587.2V704.6H588.1V706.4H590.7V701.0H597.8V706.4H601.4V699.3H605.0V708.2H606.7V709.9H612.1V708.2H619.2V711.7H620.1V713.5H622.8V711.7H629.9V708.2H633.4V711.7H644.1V717.1H647.7V715.3H651.2V713.5H654.8V711.7H658.3V713.5H661.9V711.7H665.5V715.3H669.0V718.8H669.9V720.6H672.6V718.8H679.7V711.7H683.2V717.1H686.8V715.3H690.4V711.7H693.9V715.3H697.5V717.1H701.0V717.1H704.6V713.5H709.9V711.7H715.3V709.9H717.1V708.2H718.8V709.9H719.7V708.2H722.4V704.6H723.3V702.8H724.2V701.0H725.1V699.3H725.9V697.5H726.8V695.7H727.7V692.1H728.6V690.4H729.5V692.1H730.4V690.4H731.3V686.8H732.2V685.0H733.1V686.8H734.0V685.0H734.8V683.2H735.7V679.7H736.6V676.1H737.5V674.3H738.4V670.8H739.3V669.0H740.2V663.7H741.1V660.1H742.0V658.3H742.9V656.6H743.7V658.3H744.6V656.6H745.5V653.0H746.4V651.2H747.3V653.0H748.2V649.4H750.0V647.7H750.9V649.4H753.5V647.7H754.4V635.2H756.2V633.4H758.0V642.3H761.5V640.5H765.1V638.8H766.0V640.5H766.9V642.3H767.8V644.1H768.7V651.2H769.5V653.0H771.3V654.8H772.2V651.2H774.0V653.0H774.9V654.8H775.8V653.0H776.7V654.8H778.4V656.6H779.3V658.3H780.2V660.1H781.1V661.9H782.9V665.5H783.8V667.2H784.7V669.0H786.4V670.8H787.3V672.6H789.1V674.3H790.0V669.0H790.9V670.8H792.7V672.6H793.6V677.9H794.5V679.7H796.2V681.5H797.1V688.6H798.9V690.4H800.7V681.5H801.6V683.2H804.2V681.5H806.0V683.2H807.8V690.4H808.7V692.1H814.0V693.9H822.0V697.5H824.7V695.7H825.6V690.4H832.7V692.1H836.3V686.8H839.8V699.3H842.5V701.0H843.4V702.8H844.3V704.6H846.9V702.8H847.8V704.6H855.8V706.4H857.6V708.2H859.4V709.9H861.2V711.7H862.1V713.5H866.5V715.3H868.3V713.5H869.2V715.3H871.9V713.5H873.6V715.3H875.4V722.4H877.2V724.2H879.0V722.4H881.6V724.2H882.5V717.1H883.4V718.8H885.2V720.6H886.1V724.2H887.9V725.9H889.6V729.5H893.2V724.2H895.9V725.9H896.8V734.8H900.3V731.3H903.0V733.1H903.9V731.3H904.8V733.1H907.4V736.6H914.6V734.8H915.4V736.6H918.1V738.4H919.9V740.2H921.7V738.4H923.4V740.2H925.2V742.0H926.1V743.7H928.8V749.1H932.3V740.2H934.1V742.0H935.9V743.7H938.6V745.5H939.5V747.3H946.6V752.6H948.4V754.4H950.1V749.1H951.0V750.9H953.7V752.6H955.5V754.4H957.3V756.2H960.8V754.4H964.4V752.6H966.2V754.4H967.9V750.9H970.6V752.6H971.5V758.0H975.0V752.6H975.9V754.4H978.6V758.0H982.2V759.8H984.8V761.5H985.7V758.0H986.6V759.8H989.3V754.4H990.2V756.2H992.8V754.4H996.4V756.2H1003.5V763.3H1007.1V759.8H1010.6V761.5H1014.2V756.2H1017.8V758.0H1021.3V765.1H1024.9V763.3H1028.4V759.8H1032.0V766.9H1035.5V761.5H1039.1V763.3H1042.7V766.9H1046.2V763.3H1049.8V758.0H1053.3V763.3H1054.2V761.5H1056.9V758.0H1060.5V761.5H1067.6V756.2H1071.1V754.4H1077.4V752.6H1078.2V758.0H1081.8V759.8H1085.4V758.0H1088.9V761.5H1092.5V756.2H1096.0V761.5H1096.9V759.8H1099.6V756.2H1103.2V750.9H1106.7V754.4H1110.3V759.8H1117.4V754.4H1121.0V752.6H1124.5V756.2H1128.1V750.9H1131.6V754.4H1135.2V756.2H1145.9V752.6H1153.0V756.2H1156.5V749.1H1160.1V754.4H1163.7V749.1H1167.2V754.4H1174.3V756.2H1181.4V750.9H1185.0V756.2H1188.6V754.4H1190.3V756.2H1192.1V761.5H1195.7V750.9H1199.2V754.4H1202.8V752.6H1205.5V754.4H1206.4V752.6H1213.5V758.0H1217.0V759.8H1224.1V756.2H1227.7V752.6H1231.3V759.8H1238.4V761.5H1241.9V756.2H1245.5V754.4H1249.1V761.5H1252.6V759.8H1256.2V758.0H1259.7V759.8H1263.3V752.6H1266.9V761.5H1270.4V759.8H1276.6V758.0H1277.5V754.4H1284.6V758.0H1288.2V761.5H1291.8V756.2H1295.3V759.8H1302.4V763.3H1306.0V759.8H1316.7V754.4H1320.2V759.8H1323.8V761.5H1325.6V759.8H1327.3V756.2H1330.9V758.0H1334.5V754.4H1338.0V758.0H1341.6V754.4H1345.1V756.2H1349.6V754.4H1350.5V752.6H1352.3V749.1H1353.1V747.3H1354.9V745.5H1356.7V743.7H1358.5V742.0H1359.4V734.8H1360.3V733.1H1361.2V731.3H1362.9V733.1H1363.8V731.3H1364.7V725.9H1365.6V720.6H1366.5V715.3H1367.4V709.9H1368.3V704.6H1369.2V699.3H1370.0V695.7H1370.9V690.4H1371.8V685.0H1372.7V677.9H1373.6V661.9H1374.5V654.8H1375.4V649.4H1376.3V642.3H1377.2V640.5H1378.1V638.8H1378.9V637.0H1379.8V635.2H1380.7V640.5H1383.4V638.8H1384.3V644.1H1385.2V649.4H1386.1V654.8H1387.0V661.9H1387.8V663.7H1388.7V669.0H1389.6V676.1H1390.5V681.5H1391.4V688.6H1392.3V693.9H1393.2V699.3H1394.1V704.6H1395.0V713.5H1395.8V718.8H1396.7V724.2H1397.6V729.5H1399.4V731.3H1400.3V733.1H1402.1V734.8H1403.0V736.6H1403.9V738.4H1405.6V743.7H1406.5V745.5H1407.4V747.3H1408.3V749.1H1409.2V743.7H1410.1V745.5H1411.0V747.3H1412.8V750.9H1413.6V752.6H1414.5V754.4H1416.3V752.6H1419.0V754.4H1419.9V758.0H1423.4V763.3H1425.2V765.1H1427.0V763.3H1427.9V765.1H1430.5V763.3H1434.1V759.8H1437.7V763.3H1440.3V765.1H1441.2V763.3H1444.8V765.1H1448.3V761.5H1455.5V765.1H1459.0V763.3H1462.6V761.5H1463.5V759.8H1466.1V761.5H1469.7V765.1H1470.6V763.3H1476.8V759.8H1480.4V758.0H1483.9V759.8H1491.0V756.2H1497.3V754.4H1498.2V756.2H1500.8V754.4H1501.7V752.6H1503.5V750.9H1505.3V752.6H1508.8V754.4H1512.4V756.2H1516.0V750.9H1519.5V754.4H1522.2V752.6H1523.1V750.9H1524.0V749.1H1529.3V747.3H1530.2V743.7H1531.1V742.0H1533.7V745.5H1537.3V749.1H1543.5V750.9H1544.4V745.5H1547.1V747.3H1550.6V749.1H1551.5V758.0H1555.1V756.2H1556.0V758.0H1558.7V756.2H1565.8V759.8H1566.7V761.5H1569.3V765.1H1572.9V759.8H1576.4V763.3H1581.8V765.1H1583.6V763.3H1585.3V765.1H1587.1V770.4H1590.7V768.7H1591.6V770.4H1594.2V775.8H1597.8V770.4H1601.4V774.0H1602.2V775.8H1604.9V774.0H1605.8V772.2H1608.5V774.0H1612.0V770.4H1615.6V768.7H1619.2V770.4H1622.7V774.0H1623.6V772.2H1626.3V766.9H1631.6V765.1H1633.4V759.8H1635.2V758.0H1636.9V766.9H1637.8V765.1H1640.5V756.2H1644.1V761.5H1647.6V756.2H1651.2V759.8H1658.3V756.2H1662.7V758.0H1665.4V765.1H1669.0V758.0H1671.6V759.8H1676.1V765.1H1679.6V761.5H1683.2V763.3H1685.9V765.1H1686.8V770.4H1690.3V765.1H1693.9V768.7H1695.7V770.4H1697.4V772.2H1701.0V766.9H1704.6V768.7H1708.1V772.2H1709.9V774.0H1711.7V772.2H1715.2V770.4H1717.9V772.2H1718.8V770.4H1719.7V772.2H1722.3V775.8H1725.9V777.5H1729.5V779.3H1733.0V781.1H1736.6V777.5H1738.4V779.3H1747.3V775.8H1750.8V777.5H1754.4V775.8H1757.9V779.3H1765.1V781.1H1768.6V782.9H1775.7V779.3H1779.3V782.9H1782.8V781.1H1786.4V782.9H1790.0V777.5H1797.1V779.3H1800.6V777.5H1804.2V774.0H1807.8V775.8H1814.9V779.3H1822.0V777.5H1825.5V774.0H1829.1V777.5H1832.7V779.3H1836.2V777.5H1839.8V779.3H1841.6V777.5H1843.3V779.3H1850.5V777.5H1854.0V779.3H1861.1V772.2H1864.7V779.3H1868.2V777.5H1881.6V775.8H1882.5V777.5H1886.0V774.0H1889.6V775.8H1893.2V777.5H1900.3V774.0H1911.0V775.8H1914.5V774.0H1918.1V775.8H1925.2V768.7H1928.7V777.5H1932.3V779.3H1935.9V775.8H1939.4V774.0H1946.5V777.5H1950.1V779.3H1957.2V781.1H1960.8V774.0H1964.3V779.3H1967.9V777.5H1971.4V772.2H1972.3V774.0H1975.0V772.2H1978.6V779.3H1982.1V775.8H1985.7V781.1H1989.2V777.5H1992.8V775.8H1999.9V779.3H2007.0V775.8H2010.6V777.5H2016.8V779.3H2017.7V770.4H2021.3V777.5H2025.7V779.3H2035.5V777.5H2039.1V774.0H2046.2V775.8H2049.7V779.3H2053.3V775.8H2056.9V777.5H2060.4V782.9H2064.0V779.3H2067.5V777.5H2074.6V779.3H2078.2V781.1H2085.3V775.8H2088.9V779.3H2092.4V777.5H2096.0V775.8H2099.6V782.9H2103.1V774.0H2106.7V782.9H2110.2V781.1H2113.8V777.5H2117.4V775.8H2120.9V781.1H2124.5V784.7H2128.0V779.3H2142.3V782.9H2145.8V777.5H2149.4V775.8H2152.9V782.9H2156.5V786.4H2160.1V782.9H2170.7V777.5H2177.8V784.7H2181.4V782.9H2188.5V786.4H2192.1V784.7H2195.6V788.2H2199.2V786.4H2202.8V788.2H2206.3V786.4H2213.4V784.7H2220.5V786.4H2227.7V782.9H2231.2V791.8H2234.8V786.4H2241.9V784.7H2245.5V779.3H2249.0V782.9H2251.7V781.1H2252.6V777.5H2256.1V781.1H2258.8V779.3H2259.7V782.9H2263.3V779.3H2266.8V775.8H2268.6V774.0H2270.4V777.5H2273.0V775.8H2273.9V774.0H2275.7V772.2H2277.5V775.8H2279.3V774.0H2281.0V775.8H2281.9V774.0H2284.6V768.7H2288.2V765.1H2291.7V770.4H2295.3V777.5H2298.8V775.8H2302.4V774.0H2306.0V777.5H2309.5V775.8H2310.4V777.5H2313.1V781.1H2315.7V782.9H2316.6V777.5H2318.4V779.3H2320.2V781.1H2323.7V779.3H2327.3V777.5H2330.9V774.0H2334.4V782.9H2337.1V784.7H2338.0V782.9H2340.7V784.7H2341.5V782.9H2345.1V781.1H2352.2V786.4H2355.8V779.3H2359.3V782.9H2361.1V784.7H2362.9V782.9H2366.5V781.1H2368.2V782.9H2370.0V790.0H2377.1V781.1H2380.7V788.2H2384.2V788.2H2387.8V784.7H2394.9V782.9H2398.5V784.7H2402.0V788.2H2405.6V790.0H2409.2V791.8H2410.5V807.8H2409.2V804.2H2405.6V807.8H2402.0V806.0H2394.9V807.8H2394.0V806.0H2391.4V804.2H2387.8V800.7H2384.2V811.4H2383.4V809.6H2380.7V804.2H2377.1V807.8H2374.5V806.0H2370.0V802.5H2366.5V804.2H2362.9V800.7H2359.3V802.5H2355.8V804.2H2352.2V800.7H2348.7V802.5H2345.1V798.9H2344.2V797.1H2341.5V802.5H2338.9V800.7H2334.4V797.1H2332.6V795.3H2330.9V802.5H2329.1V800.7H2327.3V793.6H2322.9V791.8H2316.6V793.6H2313.1V797.1H2312.2V795.3H2309.5V797.1H2306.0V793.6H2298.8V795.3H2291.7V788.2H2288.2V795.3H2284.6V791.8H2282.8V793.6H2277.5V795.3H2273.9V793.6H2273.0V795.3H2270.4V797.1H2266.8V798.9H2264.1V800.7H2263.3V806.0H2259.7V797.1H2256.1V802.5H2252.6V800.7H2249.0V798.9H2246.3V800.7H2245.5V802.5H2241.9V804.2H2240.1V806.0H2238.3V809.6H2234.8V807.8H2231.2V806.0H2224.1V800.7H2220.5V802.5H2217.0V804.2H2213.4V802.5H2206.3V807.8H2204.5V806.0H2202.8V800.7H2199.2V807.8H2195.6V802.5H2192.1V806.0H2188.5V802.5H2181.4V800.7H2174.3V798.9H2170.7V802.5H2167.2V798.9H2160.1V800.7H2156.5V806.0H2152.9V797.1H2145.8V800.7H2142.3V804.2H2137.8V802.5H2135.1V804.2H2131.6V797.1H2124.5V798.9H2120.9V797.1H2117.4V802.5H2113.8V793.6H2110.2V800.7H2106.7V798.9H2103.1V800.7H2099.6V795.3H2096.0V804.2H2092.4V797.1H2085.3V798.9H2081.8V795.3H2078.2V797.1H2074.6V798.9H2071.1V795.3H2069.3V793.6H2067.5V800.7H2064.0V795.3H2060.4V793.6H2056.9V791.8H2053.3V797.1H2049.7V798.9H2042.6V795.3H2039.1V791.8H2035.5V797.1H2031.9V802.5H2028.4V798.9H2024.8V795.3H2021.3V800.7H2017.7V802.5H2014.2V797.1H2007.0V793.6H1999.9V798.9H1996.4V797.1H1989.2V798.9H1985.7V797.1H1982.1V798.9H1978.6V797.1H1975.0V795.3H1971.4V791.8H1967.9V797.1H1964.3V800.7H1960.8V798.9H1957.2V797.1H1953.7V791.8H1950.1V800.7H1946.5V795.3H1939.4V798.9H1935.9V797.1H1932.3V793.6H1928.7V791.8H1921.6V793.6H1914.5V791.8H1911.0V793.6H1907.4V788.2H1903.8V790.0H1896.7V795.3H1893.2V798.9H1889.6V791.8H1886.0V793.6H1878.9V797.1H1875.4V795.3H1871.8V793.6H1868.2V797.1H1864.7V791.8H1862.0V793.6H1861.1V797.1H1857.6V798.9H1854.0V793.6H1850.5V795.3H1846.9V797.1H1840.7V798.9H1839.8V795.3H1836.2V797.1H1832.7V793.6H1830.0V795.3H1829.1V793.6H1825.5V797.1H1823.8V798.9H1818.4V793.6H1817.5V795.3H1804.2V800.7H1800.6V798.9H1797.1V797.1H1790.0V802.5H1786.4V795.3H1782.8V798.9H1779.3V797.1H1775.7V798.9H1768.6V797.1H1765.1V795.3H1761.5V797.1H1757.9V795.3H1754.4V800.7H1750.8V797.1H1743.7V791.8H1740.1V797.1H1733.0V795.3H1729.5V800.7H1725.9V793.6H1722.3V798.9H1719.7V797.1H1718.8V793.6H1715.2V791.8H1710.8V790.0H1708.1V788.2H1706.3V786.4H1704.6V788.2H1701.9V786.4H1701.0V791.8H1697.4V784.7H1693.9V788.2H1690.3V784.7H1689.4V782.9H1686.8V786.4H1685.0V784.7H1676.1V786.4H1673.4V784.7H1672.5V781.1H1665.4V779.3H1661.9V784.7H1660.1V782.9H1657.4V781.1H1654.7V782.9H1651.2V784.7H1649.4V782.9H1647.6V781.1H1645.8V779.3H1644.1V782.9H1640.5V784.7H1639.6V786.4H1636.9V779.3H1636.1V781.1H1633.4V790.0H1630.7V791.8H1629.8V788.2H1626.3V786.4H1624.5V788.2H1622.7V790.0H1619.2V797.1H1615.6V790.0H1612.9V791.8H1612.0V793.6H1610.3V795.3H1607.6V797.1H1604.9V795.3H1597.8V793.6H1596.9V791.8H1594.2V790.0H1590.7V788.2H1587.1V790.0H1585.3V788.2H1583.6V781.1H1582.7V779.3H1580.0V781.1H1579.1V779.3H1576.4V786.4H1572.9V784.7H1569.3V779.3H1566.7V777.5H1565.8V784.7H1564.9V782.9H1560.4V781.1H1558.7V774.0H1556.9V772.2H1555.1V781.1H1551.5V777.5H1548.9V775.8H1545.3V774.0H1544.4V766.9H1543.5V765.1H1540.9V768.7H1537.3V766.9H1534.6V768.7H1530.2V766.9H1526.6V774.0H1523.1V766.9H1519.5V777.5H1516.8V779.3H1516.0V772.2H1511.5V774.0H1508.8V772.2H1505.3V774.0H1501.7V775.8H1499.9V777.5H1498.2V772.2H1494.6V781.1H1483.9V777.5H1480.4V781.1H1473.2V779.3H1467.9V781.1H1466.1V782.9H1459.0V781.1H1455.5V784.7H1448.3V782.9H1444.8V784.7H1441.2V781.1H1437.7V779.3H1436.8V777.5H1434.1V782.9H1431.4V781.1H1430.5V786.4H1427.9V784.7H1427.0V781.1H1426.1V779.3H1423.4V782.9H1419.9V777.5H1417.2V775.8H1416.3V777.5H1410.1V775.8H1408.3V774.0H1407.4V772.2H1406.5V770.4H1405.6V768.7H1404.7V766.9H1403.9V765.1H1403.0V763.3H1401.2V761.5H1400.3V759.8H1399.4V758.0H1397.6V756.2H1395.8V754.4H1395.0V749.1H1394.1V747.3H1393.2V743.7H1392.3V738.4H1390.5V733.1H1389.6V727.7H1388.7V724.2H1387.8V718.8H1387.0V713.5H1386.1V708.2H1385.2V702.8H1384.3V695.7H1383.4V690.4H1382.5V685.0H1381.6V679.7H1380.7V688.6H1379.8V695.7H1378.9V702.8H1378.1V708.2H1377.2V711.7H1376.3V717.1H1375.4V724.2H1374.5V729.5H1373.6V734.8H1372.7V742.0H1371.8V747.3H1370.9V752.6H1370.1V749.1H1368.3V750.9H1367.4V752.6H1366.5V758.0H1364.7V759.8H1363.8V761.5H1362.9V759.8H1362.0V761.5H1360.3V763.3H1359.4V768.7H1357.6V770.4H1356.7V772.2H1355.8V775.8H1354.9V777.5H1352.3V775.8H1348.7V779.3H1345.1V775.8H1341.6V777.5H1338.0V774.0H1334.5V782.9H1330.9V774.0H1327.3V782.9H1323.8V779.3H1320.2V770.4H1316.7V781.1H1313.1V777.5H1309.6V781.1H1306.0V774.0H1304.2V775.8H1302.4V784.7H1298.9V779.3H1295.3V774.0H1288.2V782.9H1284.6V775.8H1283.8V777.5H1281.1V782.9H1274.0V775.8H1270.4V774.0H1266.9V779.3H1252.6V777.5H1249.1V781.1H1245.5V784.7H1238.4V775.8H1234.8V781.1H1231.3V777.5H1227.7V784.7H1223.3V782.9H1213.5V774.0H1209.9V770.4H1206.4V782.9H1202.8V775.8H1199.2V772.2H1195.7V779.3H1192.1V774.0H1188.6V775.8H1185.0V781.1H1181.4V777.5H1174.3V770.4H1170.8V774.0H1163.7V779.3H1160.1V775.8H1153.0V777.5H1149.4V779.3H1145.9V775.8H1142.3V781.1H1138.7V775.8H1128.1V774.0H1124.5V775.8H1122.7V777.5H1113.8V774.0H1110.3V777.5H1106.7V782.9H1103.2V777.5H1099.6V779.3H1096.0V777.5H1092.5V779.3H1088.9V777.5H1081.8V774.0H1078.2V775.8H1076.5V777.5H1074.7V786.4H1071.1V779.3H1067.6V781.1H1064.9V782.9H1064.0V788.2H1056.9V782.9H1054.2V784.7H1049.8V786.4H1046.2V788.2H1039.1V781.1H1035.5V784.7H1032.0V790.0H1028.4V784.7H1027.5V782.9H1021.3V784.7H1017.8V782.9H1014.2V788.2H1010.6V779.3H1007.1V781.1H1003.5V779.3H1000.0V786.4H997.3V784.7H996.4V781.1H992.8V775.8H989.3V784.7H985.7V781.1H982.2V774.0H978.6V781.1H977.7V779.3H975.0V777.5H971.5V775.8H967.9V784.7H964.4V781.1H961.7V779.3H957.3V775.8H953.7V768.7H952.8V766.9H950.1V768.7H946.6V777.5H943.0V774.0H942.1V772.2H939.5V768.7H935.9V775.8H935.0V774.0H932.3V770.4H930.6V768.7H928.8V770.4H925.2V766.9H923.4V765.1H921.7V766.9H919.0V765.1H918.1V756.2H914.6V763.3H908.3V761.5H907.4V759.8H905.7V758.0H903.9V759.8H900.3V756.2H896.8V750.9H895.9V749.1H893.2V752.6H891.4V750.9H889.6V752.6H887.9V750.9H886.1V756.2H884.3V754.4H881.6V752.6H879.9V750.9H879.0V745.5H877.2V743.7H875.4V742.0H873.6V740.2H871.8V743.7H871.0V742.0H868.3V743.7H867.4V742.0H864.7V740.2H862.1V738.4H861.2V733.1H859.4V731.3H857.6V734.8H856.7V733.1H854.9V731.3H854.1V729.5H853.2V727.7H850.5V733.1H849.6V731.3H846.9V718.8H844.3V717.1H842.5V715.3H839.8V717.1H838.9V715.3H836.3V718.8H835.4V717.1H832.7V711.7H829.1V713.5H825.6V718.8H822.9V720.6H822.0V715.3H818.5V717.1H811.4V718.8H807.8V713.5H806.0V711.7H804.2V717.1H802.5V715.3H800.7V717.1H799.8V715.3H798.0V713.5H797.1V706.4H796.2V704.6H793.6V715.3H792.7V713.5H790.9V711.7H789.1V709.9H787.3V708.2H786.4V704.6H784.7V702.8H783.8V701.0H782.9V695.7H781.1V693.9H780.2V692.1H779.3V688.6H777.5V686.8H776.7V685.0H775.8V681.5H774.9V679.7H773.1V677.9H772.2V683.2H771.3V681.5H769.5V679.7H768.7V677.9H767.8V676.1H766.9V674.3H765.1V669.0H763.3V667.2H762.4V665.5H761.5V663.7H758.9V665.5H758.0V660.1H756.2V661.9H754.4V674.3H753.5V676.1H752.6V677.9H751.7V679.7H750.9V681.5H750.0V683.2H749.1V685.0H748.2V688.6H747.3V686.8H746.4V688.6H745.5V690.4H744.6V693.9H743.7V695.7H742.9V697.5H742.0V701.0H741.1V702.8H740.2V706.4H739.3V708.2H738.4V711.7H737.5V713.5H736.6V709.9H735.7V711.7H734.8V713.5H734.0V717.1H733.1V720.6H732.2V722.4H731.3V724.2H730.4V725.9H729.5V731.3H728.6V733.1H725.9V734.8H722.4V736.6H719.7V738.4H718.8V729.5H715.3V733.1H711.7V734.8H708.2V738.4H704.6V740.2H701.0V738.4H697.5V734.8H693.9V733.1H690.4V738.4H686.8V734.8H683.2V733.1H679.7V736.6H676.1V738.4H672.6V740.2H669.0V743.7H665.5V738.4H661.9V736.6H658.3V729.5H654.8V740.2H651.2V734.8H647.7V740.2H644.1V727.7H640.5V734.8H637.0V738.4H633.4V727.7H631.6V725.9H629.9V729.5H626.3V733.1H622.8V731.3H619.2V740.2H617.4V738.4H615.6V731.3H612.1V733.1H611.2V731.3H608.5V736.6H605.0V727.7H604.1V725.9H601.4V729.5H599.6V727.7H597.8V733.1H596.1V731.3H594.3V724.2H591.6V722.4H590.7V720.6H587.2V718.8H585.4V717.1H583.6V724.2H580.0V727.7H578.3V725.9H574.7V724.2H572.9V722.4H572.0V720.6H569.4V715.3H565.8V717.1H562.3V718.8H560.5V717.1H555.1V713.5H551.6V708.2H548.0V711.7H540.9V718.8H539.1V720.6H537.3V717.1H534.7V718.8H533.8V717.1H530.2V722.4H529.3V724.2H526.7V722.4H524.9V724.2H522.2V725.9H519.6V718.8H518.7V720.6H516.0V731.3H512.4V727.7H510.7V729.5H508.9V727.7H505.3V734.8H501.8V733.1H499.1V734.8H495.5V736.6H494.6V733.1H492.0V734.8H491.1V733.1H490.2V734.8H487.5V738.4H481.3V740.2H480.4V743.7H476.8V733.1H476.0V734.8H473.3V740.2H470.6V742.0H469.7V740.2H468.8V742.0H462.6V743.7H455.5V742.0H453.7V743.7H451.9V747.3H448.4V740.2H446.6V742.0H444.8V754.4H441.3V752.6H437.7V747.3H434.1V750.9H430.6V754.4H423.5V758.0H419.9V749.1H418.1V750.9H413.7V752.6H412.8V754.4H411.0V756.2H409.2V756.2H405.7V752.6H402.1V756.2H398.6V752.6H395.0V765.1H393.2V766.9H391.4V763.3H387.9V758.0H387.0V759.8H384.3V754.4H380.8V756.2H379.9V758.0H377.2V759.8H373.7V763.3H366.5V756.2H364.8V758.0H363.0V761.5H359.4V765.1H355.9V763.3H353.2V765.1H352.3V763.3H348.7V758.0H345.2V761.5H343.4V763.3H341.6V770.4H338.1V763.3H334.5V765.1H330.9V768.7H327.4V766.9H323.8V765.1H320.3V766.9H313.2V768.7H309.6V766.9H306.0V770.4H302.5V763.3H298.9V770.4H295.4V765.1H291.8V761.5H288.2V768.7H284.7V765.1H281.1V763.3H277.6V761.5H274.0V763.3H270.5V766.9H269.6V765.1H266.9V756.2H263.3V761.5H262.4V759.8H259.8V758.0H257.1V756.2H256.2V754.4H252.7V759.8H249.1V756.2H245.5V759.8H234.9V758.0H231.3V754.4H227.7V752.6H226.9V750.9H224.2V761.5H220.6V747.3H217.1V750.9H216.2V749.1H213.5V754.4H210.8V752.6H210.0V749.1H206.4V754.4H205.0Z" fill="#EA8CFA" fill-opacity="0.6"/>
<path d="M205.0,725.9H206.4V729.5H210.8V731.3H213.5V727.7H214.4V729.5H217.1V733.1H223.3V734.8H224.2V731.3H227.7V734.8H231.3V731.3H234.9V738.4H238.4V734.8H249.1V740.2H256.2V742.0H263.3V740.2H266.9V736.6H270.5V742.0H274.0V743.7H277.6V745.5H281.1V740.2H282.9V742.0H284.7V743.7H288.2V747.3H291.8V742.0H295.4V747.3H298.9V745.5H302.5V743.7H306.0V745.5H309.6V743.7H313.2V749.1H314.0V750.9H316.7V749.1H320.3V745.5H323.8V749.1H327.4V747.3H334.5V743.7H341.6V738.4H345.2V740.2H348.7V743.7H351.4V742.0H352.3V743.7H359.4V742.0H363.0V743.7H364.8V742.0H366.5V745.5H367.4V743.7H370.1V740.2H373.6V736.6H377.2V734.8H380.8V738.4H384.3V740.2H387.9V734.8H393.2V733.1H395.0V736.6H398.6V734.8H402.1V733.1H403.0V731.3H416.4V734.8H419.9V733.1H427.9V731.3H430.6V729.5H433.3V727.7H434.1V725.9H437.7V729.5H438.6V727.7H441.3V725.9H444.8V722.4H448.4V724.2H451.0V722.4H451.9V720.6H454.6V718.8H455.5V720.6H459.1V718.8H460.8V717.1H462.6V722.4H466.2V720.6H469.7V718.8H473.3V715.3H474.2V713.5H476.8V717.1H480.4V713.5H484.0V715.3H491.1V711.7H493.8V709.9H494.6V711.7H498.2V708.2H499.1V706.4H501.8V709.9H505.3V708.2H506.2V706.4H508.9V708.2H509.8V706.4H512.4V699.3H521.3V697.5H524.0V695.7H526.7V701.0H529.3V699.3H530.2V697.5H532.9V695.7H537.3V692.1H548.0V693.9H551.6V692.1H555.1V697.5H558.7V699.3H562.3V693.9H569.4V695.7H571.2V697.5H574.7V699.3H578.3V701.0H580.0V697.5H580.9V699.3H583.6V702.8H585.4V704.6H588.1V706.4H590.7V704.6H594.3V706.4H601.4V704.6H605.0V711.7H606.7V713.5H608.5V709.9H612.1V713.5H619.2V711.7H620.1V713.5H626.3V711.7H629.9V713.5H633.4V711.7H644.1V717.1H647.7V715.3H651.2V717.1H658.3V713.5H661.9V711.7H665.5V715.3H669.0V718.8H669.9V720.6H672.6V718.8H679.7V717.1H683.2V720.6H686.8V718.8H690.4V715.3H693.9V718.8H697.5V720.6H701.0V717.1H708.2V713.5H709.9V711.7H711.7V715.3H715.3V709.9H717.1V708.2H718.8V713.5H719.7V711.7H722.4V706.4H723.3V704.6H724.2V702.8H725.1V701.0H725.9V702.8H726.8V701.0H727.7V697.5H728.6V695.7H729.5V692.1H730.4V690.4H731.3V686.8H732.2V685.0H733.1V686.8H734.0V685.0H734.8V683.2H735.7V679.7H737.5V677.9H738.4V674.3H739.3V672.6H740.2V669.0H741.1V665.5H742.0V663.7H742.9V661.9H743.7V658.3H744.6V656.6H745.5V653.0H746.4V651.2H747.3V653.0H748.2V649.4H750.0V647.7H750.9V649.4H753.5V647.7H754.4V640.5H756.2V638.8H758.0V642.3H761.5V640.5H765.1V644.1H766.0V645.9H766.9V647.7H767.8V649.4H768.7V651.2H769.5V653.0H771.3V654.8H772.2V653.0H774.0V654.8H774.9V656.6H776.7V658.3H778.4V660.1H780.2V661.9H781.1V663.7H782.9V665.5H783.8V667.2H784.7V669.0H786.4V670.8H787.3V672.6H789.1V674.3H790.0V676.1H790.9V677.9H792.7V679.7H793.6V683.2H794.5V685.0H796.2V686.8H797.1V688.6H798.9V690.4H800.7V686.8H801.6V688.6H806.0V690.4H807.8V693.9H808.7V695.7H811.4V693.9H814.0V695.7H814.9V699.3H822.0V697.5H824.7V695.7H829.1V693.9H832.7V695.7H836.3V692.1H839.8V699.3H842.5V701.0H843.4V702.8H844.3V704.6H846.9V702.8H847.8V704.6H850.5V706.4H854.1V704.6H855.8V706.4H857.6V708.2H859.4V709.9H861.2V711.7H862.1V713.5H866.5V715.3H868.3V717.1H869.2V718.8H871.9V720.6H873.6V722.4H875.4V724.2H877.2V725.9H879.0V722.4H881.6V724.2H882.5V720.6H883.4V722.4H885.2V724.2H886.1V731.3H887.9V733.1H889.6V729.5H893.2V731.3H895.9V733.1H896.8V734.8H900.3V731.3H903.0V733.1H903.9V731.3H904.8V733.1H907.4V736.6H914.6V738.4H915.4V740.2H918.1V738.4H919.9V740.2H921.7V745.5H923.4V747.3H925.2V742.0H926.1V743.7H928.8V749.1H932.3V745.5H934.1V747.3H938.6V749.1H943.0V752.6H948.4V754.4H950.1V749.1H951.0V750.9H953.7V756.2H955.5V758.0H957.3V756.2H960.8V754.4H964.4V756.2H966.2V758.0H967.9V754.4H970.6V756.2H971.5V758.0H975.9V759.8H978.6V758.0H982.2V759.8H984.8V761.5H985.7V758.0H986.6V759.8H989.3V754.4H990.2V756.2H992.8V758.0H996.4V763.3H1000.0V761.5H1003.5V763.3H1007.1V761.5H1021.3V765.1H1024.9V768.7H1028.4V765.1H1032.0V766.9H1039.1V765.1H1042.7V766.9H1046.2V763.3H1049.8V761.5H1053.3V763.3H1054.2V761.5H1056.9V763.3H1060.5V765.1H1064.0V761.5H1071.1V759.8H1077.4V758.0H1078.2V761.5H1081.8V759.8H1085.4V761.5H1092.5V756.2H1096.0V761.5H1096.9V759.8H1103.2V758.0H1110.3V759.8H1117.4V756.2H1121.0V758.0H1124.5V756.2H1131.6V754.4H1135.2V756.2H1138.7V759.8H1142.3V756.2H1145.9V758.0H1149.4V754.4H1153.0V756.2H1156.5V752.6H1160.1V754.4H1174.3V759.8H1177.9V758.0H1181.4V754.4H1185.0V759.8H1188.6V758.0H1190.3V759.8H1192.1V761.5H1195.7V756.2H1199.2V754.4H1202.8V756.2H1205.5V758.0H1209.9V756.2H1213.5V759.8H1220.6V761.5H1227.7V758.0H1231.3V761.5H1234.8V759.8H1238.4V761.5H1245.5V758.0H1249.1V761.5H1252.6V759.8H1256.2V758.0H1259.7V759.8H1263.3V758.0H1266.9V761.5H1270.4V759.8H1274.0V761.5H1276.6V759.8H1284.6V758.0H1288.2V761.5H1291.8V756.2H1295.3V759.8H1302.4V763.3H1306.0V759.8H1323.8V761.5H1325.6V759.8H1327.3V756.2H1330.9V759.8H1334.5V756.2H1338.0V758.0H1341.6V754.4H1345.1V756.2H1348.7V759.8H1349.6V758.0H1350.5V756.2H1352.3V749.1H1353.1V747.3H1354.9V745.5H1355.8V749.1H1356.7V747.3H1358.5V745.5H1359.4V740.2H1360.3V738.4H1361.2V736.6H1362.9V734.8H1363.8V733.1H1364.7V727.7H1365.6V722.4H1366.5V717.1H1367.4V711.7H1368.3V706.4H1369.2V701.0H1370.0V695.7H1370.9V690.4H1371.8V685.0H1372.7V677.9H1373.6V667.2H1374.5V660.1H1375.4V654.8H1376.3V647.7H1377.2V644.1H1378.1V642.3H1378.9V640.5H1379.8V638.8H1380.7V640.5H1383.4V638.8H1384.3V647.7H1385.2V653.0H1386.1V658.3H1387.0V665.5H1387.8V667.2H1388.7V672.6H1389.6V679.7H1390.5V685.0H1391.4V688.6H1392.3V693.9H1393.2V699.3H1394.1V704.6H1395.0V713.5H1395.8V718.8H1396.7V724.2H1397.6V729.5H1399.4V731.3H1400.3V733.1H1402.1V740.2H1403.0V742.0H1403.9V743.7H1406.5V745.5H1407.4V747.3H1408.3V749.1H1410.1V750.9H1411.0V752.6H1412.8V754.4H1413.6V756.2H1414.5V758.0H1419.0V759.8H1419.9V761.5H1423.4V763.3H1425.2V765.1H1427.0V763.3H1427.9V765.1H1437.7V763.3H1440.3V765.1H1441.2V766.9H1444.8V765.1H1448.3V763.3H1451.9V765.1H1459.0V763.3H1462.6V761.5H1463.5V759.8H1466.1V765.1H1470.6V763.3H1476.8V759.8H1480.4V758.0H1483.9V763.3H1487.5V759.8H1491.0V756.2H1494.6V758.0H1497.3V756.2H1500.8V754.4H1501.7V758.0H1503.5V756.2H1505.3V754.4H1512.4V756.2H1516.0V750.9H1519.5V754.4H1522.2V752.6H1523.1V754.4H1524.0V752.6H1529.3V750.9H1530.2V747.3H1531.1V745.5H1533.7V747.3H1537.3V749.1H1543.5V750.9H1547.1V752.6H1550.6V754.4H1551.5V758.0H1555.1V756.2H1556.0V758.0H1558.7V759.8H1566.7V761.5H1569.3V765.1H1572.9V763.3H1576.4V766.9H1580.0V763.3H1581.8V765.1H1583.6V766.9H1585.3V768.7H1587.1V770.4H1591.6V772.2H1594.2V775.8H1597.8V774.0H1602.2V775.8H1605.8V774.0H1619.2V772.2H1622.7V774.0H1623.6V772.2H1626.3V768.7H1631.6V766.9H1633.4V763.3H1635.2V761.5H1636.9V766.9H1637.8V765.1H1640.5V759.8H1644.1V761.5H1647.6V758.0H1651.2V761.5H1654.7V763.3H1658.3V761.5H1661.9V759.8H1662.7V761.5H1665.4V765.1H1669.0V763.3H1671.6V765.1H1676.1V766.9H1679.6V765.1H1685.9V766.9H1686.8V770.4H1695.7V772.2H1709.9V774.0H1711.7V775.8H1715.2V774.0H1717.9V775.8H1719.7V777.5H1725.9V781.1H1729.5V779.3H1733.0V781.1H1736.6V779.3H1738.4V781.1H1740.1V779.3H1750.8V781.1H1754.4V779.3H1757.9V782.9H1761.5V779.3H1765.1V781.1H1768.6V782.9H1772.2V784.7H1786.4V782.9H1790.0V781.1H1793.5V782.9H1800.6V781.1H1804.2V779.3H1807.8V781.1H1814.9V779.3H1818.4V781.1H1825.5V779.3H1829.1V777.5H1832.7V782.9H1836.2V779.3H1839.8V782.9H1841.6V781.1H1843.3V779.3H1846.9V782.9H1850.5V777.5H1854.0V781.1H1857.6V779.3H1861.1V775.8H1864.7V779.3H1868.2V777.5H1881.6V775.8H1882.5V777.5H1886.0V774.0H1889.6V779.3H1893.2V777.5H1900.3V775.8H1903.8V777.5H1907.4V774.0H1911.0V777.5H1914.5V774.0H1918.1V777.5H1921.6V775.8H1925.2V774.0H1928.7V777.5H1932.3V779.3H1939.4V775.8H1943.0V777.5H1946.5V779.3H1957.2V781.1H1960.8V777.5H1964.3V781.1H1967.9V777.5H1971.4V775.8H1972.3V777.5H1975.0V775.8H1978.6V779.3H1985.7V781.1H1989.2V779.3H2003.5V781.1H2007.0V775.8H2010.6V779.3H2014.2V777.5H2016.8V779.3H2017.7V775.8H2021.3V779.3H2025.7V781.1H2028.4V782.9H2031.9V779.3H2035.5V781.1H2039.1V779.3H2042.6V777.5H2046.2V779.3H2049.7V781.1H2053.3V779.3H2056.9V781.1H2060.4V782.9H2064.0V779.3H2071.1V781.1H2074.6V782.9H2078.2V781.1H2085.3V779.3H2088.9V781.1H2092.4V782.9H2096.0V779.3H2099.6V782.9H2103.1V779.3H2106.7V782.9H2113.8V779.3H2117.4V781.1H2124.5V784.7H2128.0V782.9H2138.7V781.1H2142.3V786.4H2145.8V781.1H2152.9V784.7H2156.5V786.4H2167.2V782.9H2177.8V786.4H2181.4V784.7H2185.0V786.4H2192.1V788.2H2199.2V790.0H2202.8V788.2H2206.3V786.4H2217.0V788.2H2224.1V786.4H2231.2V791.8H2234.8V786.4H2238.3V788.2H2241.9V786.4H2245.5V782.9H2249.0V786.4H2251.7V784.7H2252.6V781.1H2256.1V782.9H2258.8V781.1H2259.7V782.9H2266.8V779.3H2268.6V777.5H2270.4V779.3H2273.0V777.5H2275.7V775.8H2279.3V774.0H2281.0V777.5H2281.9V775.8H2284.6V772.2H2288.2V770.4H2291.7V772.2H2295.3V777.5H2298.8V775.8H2302.4V777.5H2306.0V781.1H2309.5V777.5H2310.4V779.3H2313.1V781.1H2315.7V782.9H2316.6V777.5H2318.4V779.3H2320.2V781.1H2323.7V779.3H2334.4V782.9H2337.1V784.7H2338.0V782.9H2340.7V784.7H2348.7V782.9H2352.2V786.4H2355.8V784.7H2359.3V782.9H2361.1V784.7H2362.9V786.4H2366.5V784.7H2368.2V786.4H2370.0V790.0H2377.1V784.7H2380.7V790.0H2384.2V788.2H2394.9V786.4H2398.5V788.2H2402.0V791.8H2405.6V790.0H2409.2V791.8H2410.5V807.8H2409.2V804.2H2405.6V807.8H2402.0V806.0H2398.5V802.5H2394.9V806.0H2394.0V804.2H2391.4V802.5H2387.8V800.7H2384.2V806.0H2383.4V804.2H2374.5V802.5H2373.6V804.2H2370.0V802.5H2366.5V804.2H2362.9V800.7H2359.3V798.9H2355.8V802.5H2352.2V798.9H2348.7V800.7H2345.1V797.1H2344.2V795.3H2341.5V798.9H2338.9V797.1H2332.6V795.3H2330.9V798.9H2329.1V797.1H2327.3V793.6H2322.9V791.8H2316.6V793.6H2313.1V797.1H2312.2V795.3H2306.0V790.0H2302.4V793.6H2298.8V791.8H2295.3V790.0H2291.7V786.4H2288.2V791.8H2284.6V788.2H2282.8V790.0H2281.0V793.6H2277.5V791.8H2273.9V793.6H2273.0V795.3H2270.4V797.1H2266.8V795.3H2264.1V797.1H2263.3V800.7H2259.7V797.1H2256.1V798.9H2252.6V800.7H2249.0V797.1H2246.3V798.9H2245.5V802.5H2241.9V804.2H2240.1V806.0H2234.8V804.2H2231.2V802.5H2224.1V800.7H2213.4V802.5H2206.3V804.2H2204.5V802.5H2202.8V800.7H2199.2V802.5H2195.6V800.7H2188.5V798.9H2185.0V802.5H2181.4V798.9H2170.7V797.1H2167.2V798.9H2160.1V800.7H2156.5V802.5H2152.9V797.1H2145.8V800.7H2142.3V798.9H2138.7V800.7H2137.8V798.9H2135.1V800.7H2131.6V797.1H2124.5V798.9H2120.9V795.3H2117.4V798.9H2113.8V793.6H2110.2V797.1H2106.7V795.3H2103.1V797.1H2099.6V795.3H2096.0V800.7H2092.4V797.1H2088.9V793.6H2085.3V797.1H2081.8V795.3H2078.2V797.1H2074.6V795.3H2069.3V793.6H2067.5V795.3H2064.0V793.6H2060.4V791.8H2053.3V797.1H2046.2V793.6H2042.6V795.3H2039.1V791.8H2035.5V795.3H2031.9V797.1H2024.8V795.3H2017.7V797.1H2014.2V795.3H2007.0V793.6H1999.9V797.1H1996.4V793.6H1992.8V797.1H1989.2V795.3H1985.7V793.6H1982.1V795.3H1971.4V791.8H1967.9V793.6H1964.3V797.1H1960.8V795.3H1957.2V793.6H1953.7V791.8H1950.1V795.3H1946.5V791.8H1939.4V793.6H1935.9V795.3H1932.3V791.8H1928.7V790.0H1921.6V793.6H1918.1V791.8H1907.4V788.2H1903.8V790.0H1893.2V795.3H1889.6V791.8H1886.0V790.0H1882.5V791.8H1878.9V793.6H1875.4V791.8H1871.8V793.6H1868.2V795.3H1864.7V791.8H1862.0V793.6H1861.1V791.8H1857.6V795.3H1854.0V793.6H1850.5V791.8H1846.9V795.3H1840.7V797.1H1839.8V793.6H1836.2V797.1H1832.7V791.8H1830.0V793.6H1823.8V795.3H1818.4V793.6H1817.5V795.3H1804.2V797.1H1793.5V793.6H1790.0V797.1H1786.4V795.3H1782.8V798.9H1779.3V797.1H1768.6V795.3H1761.5V797.1H1757.9V795.3H1750.8V797.1H1747.3V791.8H1740.1V793.6H1733.0V791.8H1729.5V795.3H1725.9V793.6H1719.7V791.8H1718.8V790.0H1715.2V791.8H1710.8V790.0H1708.1V788.2H1706.3V786.4H1704.6V788.2H1701.9V786.4H1701.0V788.2H1697.4V784.7H1690.3V782.9H1689.4V781.1H1686.8V786.4H1685.0V784.7H1683.2V782.9H1679.6V781.1H1676.1V782.9H1673.4V781.1H1672.5V779.3H1669.0V781.1H1665.4V779.3H1660.1V777.5H1658.3V779.3H1657.4V777.5H1651.2V779.3H1649.4V777.5H1647.6V775.8H1645.8V774.0H1644.1V781.1H1639.6V782.9H1636.9V779.3H1636.1V781.1H1633.4V786.4H1630.7V788.2H1626.3V786.4H1624.5V788.2H1619.2V791.8H1615.6V790.0H1612.9V791.8H1612.0V790.0H1610.3V791.8H1608.5V790.0H1607.6V791.8H1604.9V790.0H1601.4V795.3H1597.8V790.0H1596.9V788.2H1594.2V786.4H1590.7V788.2H1587.1V790.0H1585.3V788.2H1583.6V781.1H1582.7V779.3H1580.0V781.1H1579.1V779.3H1576.4V782.9H1569.3V779.3H1566.7V777.5H1565.8V781.1H1564.9V779.3H1562.2V781.1H1560.4V779.3H1558.7V774.0H1556.9V772.2H1555.1V777.5H1551.5V774.0H1548.9V772.2H1548.0V770.4H1545.3V768.7H1544.4V766.9H1543.5V765.1H1540.9V763.3H1537.3V761.5H1534.6V763.3H1533.7V765.1H1530.2V766.9H1526.6V768.7H1523.1V766.9H1519.5V772.2H1516.8V774.0H1516.0V772.2H1511.5V774.0H1508.8V772.2H1505.3V774.0H1501.7V775.8H1499.9V777.5H1498.2V772.2H1494.6V775.8H1483.9V777.5H1473.2V779.3H1469.7V775.8H1467.9V777.5H1466.1V779.3H1462.6V782.9H1459.0V781.1H1455.5V779.3H1448.3V782.9H1441.2V777.5H1437.7V779.3H1436.8V777.5H1434.1V781.1H1431.4V779.3H1430.5V782.9H1427.9V781.1H1426.1V779.3H1419.9V777.5H1417.2V775.8H1416.3V777.5H1410.1V775.8H1409.2V774.0H1408.3V772.2H1407.4V770.4H1406.5V768.7H1404.7V766.9H1403.9V765.1H1403.0V763.3H1402.1V759.8H1401.2V758.0H1400.3V756.2H1399.4V754.4H1398.5V758.0H1397.6V756.2H1395.8V754.4H1395.0V749.1H1394.1V747.3H1393.2V743.7H1392.3V738.4H1391.4V734.8H1390.5V729.5H1389.6V724.2H1388.7V720.6H1387.8V715.3H1387.0V709.9H1386.1V704.6H1385.2V699.3H1384.3V692.1H1383.4V686.8H1382.5V681.5H1381.6V676.1H1380.7V683.2H1379.8V690.4H1378.9V697.5H1378.1V702.8H1377.2V708.2H1376.3V713.5H1375.4V720.6H1374.5V725.9H1373.6V729.5H1372.7V736.6H1371.8V742.0H1370.9V747.3H1370.1V749.1H1368.3V750.9H1367.4V752.6H1366.5V758.0H1364.7V759.8H1363.8V761.5H1362.9V759.8H1362.0V761.5H1360.3V763.3H1359.4V768.7H1357.6V770.4H1356.7V772.2H1355.8V770.4H1354.9V772.2H1352.3V775.8H1341.6V772.2H1338.0V774.0H1334.5V779.3H1330.9V774.0H1327.3V777.5H1323.8V775.8H1320.2V770.4H1316.7V777.5H1306.0V774.0H1304.2V775.8H1302.4V781.1H1298.9V774.0H1288.2V777.5H1284.6V774.0H1283.8V775.8H1281.1V779.3H1274.0V774.0H1263.3V779.3H1259.7V775.8H1256.2V779.3H1252.6V777.5H1245.5V779.3H1238.4V775.8H1234.8V779.3H1231.3V777.5H1227.7V779.3H1223.3V777.5H1217.0V779.3H1213.5V772.2H1209.9V770.4H1206.4V777.5H1202.8V775.8H1199.2V772.2H1195.7V779.3H1192.1V774.0H1188.6V775.8H1181.4V774.0H1174.3V770.4H1170.8V774.0H1163.7V775.8H1156.5V772.2H1153.0V774.0H1149.4V775.8H1145.9V772.2H1142.3V777.5H1138.7V775.8H1135.2V772.2H1128.1V774.0H1124.5V772.2H1122.7V774.0H1121.0V777.5H1117.4V774.0H1110.3V777.5H1106.7V779.3H1103.2V775.8H1099.6V777.5H1092.5V779.3H1088.9V775.8H1085.4V774.0H1078.2V775.8H1076.5V777.5H1074.7V781.1H1071.1V777.5H1067.6V779.3H1064.9V781.1H1064.0V782.9H1054.2V784.7H1049.8V781.1H1046.2V782.9H1039.1V781.1H1035.5V784.7H1027.5V782.9H1024.9V781.1H1021.3V782.9H1014.2V784.7H1010.6V779.3H1007.1V781.1H1003.5V779.3H997.3V777.5H996.4V779.3H992.8V775.8H989.3V779.3H982.2V774.0H978.6V781.1H977.7V779.3H975.0V777.5H971.5V775.8H967.9V779.3H964.4V777.5H961.7V775.8H960.8V774.0H957.3V772.2H953.7V768.7H952.8V766.9H950.1V768.7H946.6V772.2H943.0V770.4H942.1V768.7H935.9V772.2H935.0V770.4H930.6V768.7H928.8V765.1H925.2V766.9H923.4V765.1H921.7V761.5H919.0V759.8H918.1V756.2H914.6V759.8H911.0V758.0H908.3V756.2H905.7V754.4H900.3V756.2H896.8V750.9H895.9V749.1H891.4V747.3H889.6V749.1H887.9V747.3H886.1V750.9H884.3V749.1H882.5V747.3H881.6V745.5H879.9V743.7H879.0V742.0H877.2V740.2H875.4V742.0H873.6V740.2H871.8V743.7H871.0V742.0H868.3V738.4H867.4V736.6H864.7V733.1H862.1V731.3H861.2V729.5H859.4V727.7H857.6V729.5H856.7V727.7H854.9V725.9H853.2V724.2H850.5V725.9H849.6V724.2H846.9V718.8H844.3V717.1H842.5V715.3H839.8V713.5H838.9V711.7H836.3V713.5H835.4V711.7H829.1V713.5H825.6V715.3H822.9V717.1H822.0V715.3H818.5V717.1H814.9V715.3H807.8V713.5H806.0V711.7H802.5V709.9H800.7V713.5H799.8V711.7H798.0V709.9H797.1V706.4H796.2V704.6H793.6V708.2H792.7V706.4H790.9V704.6H789.1V702.8H787.3V701.0H786.4V699.3H784.7V697.5H783.8V695.7H782.9V690.4H781.1V688.6H780.2V686.8H779.3V685.0H777.5V683.2H776.7V681.5H774.9V679.7H773.1V677.9H771.3V676.1H769.5V674.3H768.7V676.1H767.8V674.3H766.9V672.6H765.1V665.5H763.3V663.7H762.4V661.9H761.5V663.7H758.9V665.5H758.0V660.1H756.2V661.9H754.4V669.0H753.5V670.8H752.6V672.6H751.7V674.3H750.9V676.1H750.0V677.9H749.1V679.7H748.2V683.2H747.3V686.8H746.4V688.6H745.5V690.4H744.6V693.9H743.7V695.7H742.9V697.5H742.0V701.0H741.1V702.8H739.3V704.6H738.4V708.2H737.5V709.9H735.7V711.7H734.8V713.5H734.0V717.1H733.1V715.3H732.2V717.1H731.3V718.8H730.4V720.6H729.5V727.7H728.6V729.5H725.9V731.3H722.4V733.1H719.7V734.8H718.8V725.9H715.3V733.1H704.6V736.6H701.0V734.8H693.9V733.1H690.4V738.4H686.8V734.8H683.2V733.1H679.7V736.6H676.1V734.8H672.6V733.1H669.0V736.6H665.5V734.8H661.9V733.1H658.3V729.5H654.8V733.1H651.2V731.3H647.7V736.6H644.1V727.7H640.5V729.5H637.0V733.1H633.4V727.7H631.6V725.9H629.9V729.5H626.3V733.1H622.8V727.7H619.2V734.8H617.4V733.1H615.6V731.3H612.1V729.5H611.2V727.7H608.5V733.1H605.0V727.7H604.1V725.9H601.4V729.5H599.6V727.7H596.1V725.9H594.3V720.6H591.6V718.8H590.7V720.6H587.2V718.8H585.4V717.1H583.6V722.4H580.0V720.6H578.3V718.8H576.5V722.4H574.7V720.6H572.0V718.8H569.4V715.3H565.8V713.5H562.3V711.7H560.5V709.9H558.7V711.7H555.1V713.5H551.6V708.2H544.5V711.7H540.9V713.5H539.1V715.3H537.3V713.5H534.7V715.3H533.8V717.1H529.3V718.8H526.7V720.6H524.9V722.4H522.2V724.2H519.6V718.8H518.7V720.6H516.0V725.9H512.4V722.4H510.7V724.2H508.9V722.4H505.3V729.5H499.1V731.3H498.2V729.5H495.5V731.3H494.6V733.1H492.0V734.8H491.1V733.1H490.2V734.8H481.3V736.6H476.8V733.1H476.0V734.8H470.6V736.6H469.7V734.8H468.8V736.6H466.2V740.2H462.6V738.4H459.1V743.7H455.5V742.0H453.7V743.7H448.4V740.2H446.6V742.0H444.8V749.1H441.3V747.3H437.7V745.5H430.6V747.3H427.0V749.1H423.5V752.6H419.9V747.3H418.1V749.1H416.4V750.9H413.7V752.6H412.8V754.4H411.0V756.2H409.2V752.6H395.0V758.0H393.2V759.8H391.4V756.2H387.9V758.0H387.0V759.8H384.3V754.4H379.9V756.2H377.2V754.4H373.7V759.8H370.1V758.0H366.5V756.2H364.8V758.0H363.0V761.5H359.4V763.3H355.9V758.0H353.2V759.8H352.3V763.3H348.7V758.0H345.2V756.2H343.4V758.0H341.6V763.3H334.5V765.1H330.9V763.3H327.4V766.9H323.8V765.1H316.7V761.5H313.2V763.3H309.6V761.5H306.0V765.1H302.5V759.8H298.9V765.1H295.4V761.5H284.7V758.0H281.1V763.3H277.6V758.0H274.0V756.2H270.5V759.8H269.6V758.0H266.9V756.2H263.3V758.0H262.4V756.2H259.8V758.0H257.1V756.2H256.2V754.4H252.7V752.6H245.5V754.4H238.4V759.8H234.9V754.4H227.7V752.6H226.9V750.9H224.2V754.4H220.6V747.3H217.1V750.9H216.2V749.1H213.5V750.9H210.8V749.1H210.0V745.5H206.4V750.9H205.0Z" fill="#EA8CFA" stroke="#EA8CFA" stroke-width="0.8" stroke-linejoin="round"/>
<path d="M205.0,962.6H206.4V955.5H210.0V957.3H210.8V959.0H213.5V955.5H216.2V957.3H217.1V951.9H220.6V960.8H223.3V962.6H224.2V967.9H226.9V969.7H227.7V966.2H229.5V967.9H231.3V962.6H234.9V950.1H235.8V951.9H238.4V953.7H240.2V955.5H242.0V962.6H242.9V964.4H245.5V955.5H248.2V957.3H249.1V971.5H252.7V966.2H256.2V969.7H258.0V971.5H259.8V967.9H262.4V969.7H265.1V971.5H266.9V964.4H270.5V966.2H276.7V967.9H277.6V975.0H281.1V978.6H282.0V980.4H284.7V989.3H285.6V991.1H288.2V982.2H291.8V969.7H294.5V971.5H295.4V964.4H298.9V983.9H302.5V973.3H304.3V975.0H306.0V978.6H309.6V980.4H313.2V989.3H316.7V983.9H318.5V985.7H320.3V973.3H323.8V983.9H330.9V987.5H334.5V973.3H338.1V987.5H341.6V973.3H345.2V983.9H348.7V978.6H352.3V976.8H355.9V978.6H359.4V983.9H363.0V985.7H370.1V978.6H373.6V971.5H377.2V975.0H380.8V985.7H384.3V978.6H387.9V964.4H389.7V962.6H391.4V971.5H394.1V969.7H395.0V966.2H398.6V969.7H402.1V964.4H405.7V953.7H409.2V971.5H411.9V969.7H412.8V978.6H416.4V962.6H419.9V967.9H423.5V964.4H425.2V962.6H427.0V969.7H430.6V967.9H431.5V966.2H434.1V967.9H437.7V964.4H438.6V962.6H441.3V959.0H443.9V957.3H444.8V950.1H447.5V948.4H448.4V967.9H451.9V962.6H453.7V960.8H455.5V946.6H459.1V960.8H462.6V951.9H463.5V950.1H466.2V944.8H468.8V943.0H469.7V955.5H472.4V953.7H473.3V946.6H475.1V944.8H476.8V937.7H479.5V935.9H480.4V937.7H481.3V935.9H485.7V934.1H487.5V932.3H491.1V934.1H492.0V932.3H494.6V941.2H495.5V939.5H498.2V946.6H500.9V944.8H501.8V935.9H503.5V934.1H505.3V928.8H508.9V919.9H511.5V918.1H512.4V919.9H514.2V918.1H516.0V937.7H517.8V935.9H522.2V934.1H523.1V921.7H526.7V914.6H530.2V919.9H533.8V921.7H537.3V918.1H539.1V916.3H540.9V923.4H542.7V921.7H544.5V916.3H548.0V909.2H551.6V914.6H558.7V921.7H562.3V928.8H564.9V930.6H565.8V928.8H566.7V930.6H568.5V932.3H569.4V927.0H572.0V928.8H572.9V939.5H575.6V941.2H576.5V927.0H579.2V928.8H583.6V927.0H585.4V928.8H587.2V930.6H594.3V934.1H595.2V935.9H597.8V937.7H598.7V939.5H601.4V941.2H603.2V943.0H605.0V932.3H607.6V934.1H608.5V955.5H612.1V943.0H615.6V946.6H619.2V948.4H622.8V939.5H626.3V959.0H629.9V948.4H633.4V959.0H637.0V948.4H640.5V951.9H644.1V957.3H647.7V962.6H651.2V937.7H654.8V955.5H658.3V946.6H661.9V944.8H665.5V951.9H669.0V960.8H672.6V939.5H676.1V957.3H679.7V962.6H683.2V950.1H686.8V957.3H690.4V955.5H691.3V957.3H693.9V944.8H697.5V962.6H701.0V951.9H704.6V955.5H708.2V962.6H709.9V960.8H713.5V959.0H715.3V955.5H716.2V953.7H717.9V951.9H718.8V944.8H720.6V943.0H721.5V941.2H722.4V944.8H723.3V943.0H724.2V941.2H725.1V937.7H725.9V925.2H726.8V923.4H727.7V919.9H728.6V918.1H729.5V925.2H730.4V921.7H731.3V919.9H732.2V916.3H734.0V914.6H734.8V911.0H735.7V909.2H736.6V884.3H737.5V880.7H738.4V877.2H739.3V875.4H740.2V871.9H741.1V870.1H742.0V866.5H742.9V863.0H743.7V875.4H744.6V871.9H745.5V868.3H746.4V864.7H747.3V866.5H749.1V864.7H750.0V863.0H750.9V857.6H751.7V855.8H752.6V854.1H758.0V850.5H761.5V845.2H762.4V846.9H764.2V848.7H765.1V855.8H766.0V857.6H767.8V859.4H768.7V868.3H769.5V870.1H770.4V871.9H771.3V873.6H772.2V864.7H773.1V866.5H774.0V868.3H774.9V870.1H775.8V868.3H776.7V870.1H778.4V871.9H779.3V886.1H780.2V887.9H781.1V889.6H782.0V891.4H782.9V898.5H783.8V900.3H784.7V902.1H785.6V903.9H786.4V902.1H787.3V903.9H788.2V905.7H789.1V907.4H790.0V905.7H790.9V909.2H791.8V911.0H792.7V912.8H793.6V903.9H794.5V905.7H795.3V907.4H797.1V916.3H798.9V918.1H800.7V914.6H801.6V916.3H803.3V918.1H804.2V927.0H806.0V928.8H807.8V925.2H809.6V927.0H811.4V930.6H814.9V916.3H818.5V937.7H822.0V923.4H827.4V921.7H829.1V937.7H832.7V939.5H836.3V937.7H839.8V928.8H840.7V930.6H843.4V934.1H846.1V935.9H846.9V948.4H848.7V950.1H850.5V935.9H852.3V937.7H854.1V946.6H856.7V948.4H857.6V935.9H858.5V937.7H860.3V939.5H861.2V946.6H862.1V948.4H863.8V950.1H864.7V953.7H866.5V955.5H867.4V957.3H868.3V960.8H870.1V962.6H871.0V964.4H871.9V966.2H872.7V967.9H873.6V969.7H875.4V973.3H876.3V975.0H878.1V976.8H879.0V971.5H881.6V973.3H882.5V964.4H883.4V966.2H886.1V978.6H887.0V980.4H889.6V985.7H891.4V987.5H893.2V967.9H894.1V969.7H896.8V987.5H899.4V989.3H900.3V980.4H903.0V982.2H903.9V975.0H906.5V976.8H907.4V985.7H911.0V994.6H914.6V987.5H918.1V982.2H919.9V983.9H921.7V991.1H924.3V992.8H925.2V994.6H926.1V996.4H928.8V989.3H929.7V991.1H932.3V996.4H935.9V1010.6H939.5V1000.0H943.0V1003.5H946.6V1007.1H950.1V1010.6H951.9V1012.4H953.7V1005.3H957.3V1017.8H961.7V1019.5H964.4V1000.0H967.9V1014.2H971.5V1008.9H975.0V1021.3H978.6V1014.2H980.4V1016.0H982.2V1017.8H985.7V1008.9H989.3V1023.1H992.8V1024.9H995.5V1026.6H996.4V1008.9H998.2V1010.6H1003.5V1010.6H1007.1V1014.2H1009.7V1016.0H1010.6V1024.9H1014.2V1019.5H1017.8V1023.1H1021.3V1016.0H1023.1V1014.2H1024.9V1026.6H1028.4V1012.4H1032.0V1028.4H1035.5V1014.2H1038.2V1012.4H1042.7V1024.9H1046.2V1016.0H1049.8V1026.6H1053.3V1023.1H1056.9V1019.5H1060.5V1017.8H1062.2V1016.0H1064.0V1024.9H1067.6V1008.9H1071.1V1030.2H1073.8V1028.4H1074.7V1023.1H1076.5V1021.3H1078.2V1016.0H1081.8V1023.1H1088.9V1003.5H1091.6V1001.7H1092.5V1007.1H1094.3V1005.3H1096.0V1008.9H1099.6V1005.3H1103.2V1021.3H1104.9V1019.5H1106.7V1000.0H1107.6V998.2H1110.3V1021.3H1113.8V1016.0H1116.5V1014.2H1117.4V1016.0H1121.0V1017.8H1124.5V998.2H1128.1V1001.7H1135.2V1005.3H1138.7V998.2H1142.3V1001.7H1145.9V1016.0H1149.4V1005.3H1153.0V1012.4H1156.5V1016.0H1160.1V1017.8H1163.7V1007.1H1167.2V1016.0H1170.8V1005.3H1173.4V1007.1H1174.3V1010.6H1177.9V1003.5H1181.4V1014.2H1184.1V1016.0H1185.0V1008.9H1188.6V1012.4H1192.1V1021.3H1195.7V1023.1H1199.2V1008.9H1202.8V1005.3H1206.4V1010.6H1209.9V1023.1H1213.5V1014.2H1217.0V1005.3H1220.6V1012.4H1224.1V1023.1H1225.9V1024.9H1227.7V1014.2H1234.8V1023.1H1238.4V1019.5H1241.9V1014.2H1245.5V1017.8H1251.7V1019.5H1252.6V1028.4H1256.2V1023.1H1259.7V1012.4H1263.3V1008.9H1266.9V1012.4H1270.4V1016.0H1277.5V1017.8H1281.1V1024.9H1284.6V1012.4H1288.2V1030.2H1291.8V1019.5H1295.3V1028.4H1298.9V1024.9H1302.4V1012.4H1306.0V1012.4H1309.6V1014.2H1313.1V1024.9H1316.7V1016.0H1320.2V1017.8H1323.8V1008.9H1330.9V1023.1H1334.5V1021.3H1338.0V1010.6H1341.6V1019.5H1345.1V1024.9H1346.0V1023.1H1346.9V1021.3H1348.7V1005.3H1349.6V1003.5H1350.5V1001.7H1352.3V1010.6H1353.1V1008.9H1354.9V1007.1H1355.8V996.4H1356.7V994.6H1357.6V992.8H1358.5V991.1H1359.4V998.2H1360.3V996.4H1361.2V994.6H1362.0V992.8H1362.9V978.6H1363.8V971.5H1364.7V964.4H1365.6V957.3H1366.5V967.9H1367.4V960.8H1368.3V951.9H1369.2V944.8H1370.0V916.3H1370.9V907.4H1371.8V898.5H1372.7V889.6H1374.5V880.7H1375.4V871.9H1376.3V870.1H1377.2V868.3H1378.1V870.1H1378.9V871.9H1379.8V870.1H1380.7V875.4H1381.6V877.2H1382.5V886.1H1383.4V893.2H1384.3V898.5H1385.2V905.7H1386.1V914.6H1387.0V921.7H1387.8V919.9H1388.7V925.2H1389.6V930.6H1390.5V935.9H1391.4V948.4H1392.3V953.7H1393.2V959.0H1394.1V964.4H1395.0V962.6H1395.8V967.9H1396.7V973.3H1397.6V978.6H1398.5V985.7H1399.4V987.5H1400.3V989.3H1401.2V991.1H1402.1V989.3H1403.0V991.1H1403.9V992.8H1404.7V994.6H1405.6V998.2H1406.5V1000.0H1407.4V1001.7H1408.3V1003.5H1409.2V1012.4H1410.1V1014.2H1411.0V1016.0H1411.9V1017.8H1412.8V1023.1H1413.6V1024.9H1415.4V1026.6H1416.3V1028.4H1419.0V1030.2H1419.9V1023.1H1420.8V1024.9H1423.4V1028.4H1427.0V1026.6H1428.8V1028.4H1430.5V1021.3H1433.2V1023.1H1434.1V1033.8H1439.4V1032.0H1441.2V1033.8H1444.8V1019.5H1448.3V1028.4H1450.1V1026.6H1451.9V1035.5H1454.6V1033.8H1455.5V1021.3H1459.0V1030.2H1462.6V1021.3H1466.1V1023.1H1469.7V1026.6H1473.2V1030.2H1475.0V1028.4H1476.8V1024.9H1479.5V1023.1H1480.4V1030.2H1482.1V1028.4H1483.9V1024.9H1487.5V1026.6H1489.3V1024.9H1491.0V1019.5H1494.6V1008.9H1496.4V1007.1H1498.2V1023.1H1501.7V1005.3H1505.3V1012.4H1508.8V1010.6H1512.4V1017.8H1515.1V1016.0H1516.0V1010.6H1519.5V1008.9H1523.1V1005.3H1524.0V1003.5H1526.6V1014.2H1528.4V1012.4H1530.2V1000.0H1533.7V1012.4H1537.3V1000.0H1539.1V1001.7H1540.9V1012.4H1542.6V1014.2H1544.4V1003.5H1547.1V1005.3H1548.0V1017.8H1550.6V1019.5H1551.5V1019.5H1553.3V1021.3H1555.1V1023.1H1557.8V1024.9H1558.7V1026.6H1559.5V1028.4H1561.3V1030.2H1562.2V1023.1H1565.8V1030.2H1567.6V1032.0H1569.3V1019.5H1570.2V1021.3H1576.4V1023.1H1579.1V1024.9H1580.0V1028.4H1582.7V1030.2H1583.6V1035.5H1587.1V1035.5H1589.8V1037.3H1590.7V1040.9H1591.6V1042.7H1594.2V1044.4H1597.8V1033.8H1601.4V1048.0H1604.9V1040.9H1605.8V1042.7H1608.5V1035.5H1612.0V1046.2H1614.7V1044.4H1615.6V1033.8H1617.4V1032.0H1619.2V1032.0H1620.9V1030.2H1621.8V1028.4H1622.7V1033.8H1623.6V1032.0H1625.4V1030.2H1626.3V1037.3H1627.2V1035.5H1628.9V1033.8H1629.8V1028.4H1631.6V1026.6H1632.5V1024.9H1633.4V1021.3H1635.2V1019.5H1636.9V1021.3H1640.5V1014.2H1644.1V1008.9H1644.9V1010.6H1647.6V1026.6H1650.3V1028.4H1651.2V1032.0H1654.7V1019.5H1655.6V1021.3H1658.3V1023.1H1661.0V1024.9H1661.9V1019.5H1664.5V1021.3H1665.4V1032.0H1669.0V1030.2H1670.7V1032.0H1672.5V1033.8H1675.2V1035.5H1676.1V1028.4H1679.6V1032.0H1683.2V1023.1H1686.8V1021.3H1690.3V1033.8H1693.9V1035.5H1697.4V1039.1H1701.0V1033.8H1704.6V1030.2H1705.4V1032.0H1708.1V1039.1H1711.7V1033.8H1714.3V1035.5H1715.2V1042.7H1716.1V1044.4H1718.8V1046.2H1721.5V1048.0H1722.3V1042.7H1724.1V1044.4H1725.9V1040.9H1729.5V1049.8H1730.4V1051.6H1733.0V1046.2H1734.8V1048.0H1736.6V1040.9H1737.5V1042.7H1740.1V1053.3H1743.7V1056.9H1747.3V1044.4H1750.8V1056.9H1754.4V1046.2H1757.9V1053.3H1761.5V1049.8H1765.1V1046.2H1768.6V1053.3H1772.2V1055.1H1775.7V1040.9H1779.3V1058.7H1782.8V1049.8H1786.4V1056.9H1789.1V1055.1H1793.5V1051.6H1797.1V1056.9H1800.6V1042.7H1804.2V1044.4H1807.8V1051.6H1811.3V1056.9H1814.9V1049.8H1817.5V1048.0H1818.4V1046.2H1822.0V1040.9H1825.5V1046.2H1829.1V1044.4H1832.7V1046.2H1836.2V1042.7H1839.8V1053.3H1843.3V1049.8H1846.9V1048.0H1850.5V1048.0H1854.0V1039.1H1857.6V1049.8H1861.1V1051.6H1864.7V1048.0H1868.2V1037.3H1871.8V1040.9H1875.4V1049.8H1878.9V1044.4H1882.5V1055.1H1886.0V1042.7H1889.6V1049.8H1893.2V1051.6H1896.7V1049.8H1900.3V1051.6H1907.4V1049.8H1911.0V1039.1H1914.5V1046.2H1918.1V1035.5H1921.6V1046.2H1925.2V1048.0H1928.7V1042.7H1939.4V1049.8H1943.0V1053.3H1946.5V1039.1H1950.1V1048.0H1953.7V1035.5H1957.2V1044.4H1960.8V1046.2H1964.3V1048.0H1967.9V1039.1H1971.4V1044.4H1975.0V1037.3H1978.6V1039.1H1982.1V1048.0H1985.7V1042.7H1989.2V1046.2H1992.8V1051.6H1996.4V1037.3H1999.9V1042.7H2003.5V1046.2H2007.0V1039.1H2010.6V1044.4H2014.2V1035.5H2017.7V1048.0H2021.3V1053.3H2024.8V1055.1H2028.4V1039.1H2031.9V1055.1H2035.5V1044.4H2039.1V1051.6H2041.7V1053.3H2042.6V1040.9H2046.2V1049.8H2053.3V1055.1H2056.9V1056.9H2060.4V1044.4H2064.0V1056.9H2067.5V1053.3H2071.1V1042.7H2074.6V1055.1H2077.3V1056.9H2081.8V1046.2H2084.4V1048.0H2085.3V1046.2H2088.9V1053.3H2090.7V1055.1H2092.4V1051.6H2096.0V1053.3H2099.6V1044.4H2103.1V1056.9H2106.7V1049.8H2110.2V1056.9H2117.4V1048.0H2120.9V1053.3H2124.5V1051.6H2128.0V1046.2H2131.6V1044.4H2135.1V1049.8H2138.7V1048.0H2142.3V1055.1H2145.8V1046.2H2156.5V1056.9H2160.1V1051.6H2160.9V1053.3H2163.6V1048.0H2167.2V1048.0H2170.7V1042.7H2174.3V1056.9H2177.8V1048.0H2181.4V1044.4H2185.0V1060.5H2188.5V1049.8H2192.1V1051.6H2195.6V1058.7H2202.8V1060.5H2206.3V1048.0H2209.9V1064.0H2217.0V1056.9H2217.9V1055.1H2220.5V1049.8H2224.1V1053.3H2227.7V1060.5H2231.2V1055.1H2234.8V1062.2H2238.3V1051.6H2241.9V1056.9H2245.5V1060.5H2249.0V1046.2H2252.6V1051.6H2255.2V1049.8H2256.1V1056.9H2257.9V1055.1H2259.7V1051.6H2263.3V1049.8H2265.0V1048.0H2266.8V1040.9H2268.6V1039.1H2270.4V1051.6H2272.1V1049.8H2273.9V1051.6H2274.8V1049.8H2277.5V1039.1H2278.4V1037.3H2281.0V1048.0H2282.8V1046.2H2285.5V1044.4H2288.2V1039.1H2291.7V1033.8H2295.3V1039.1H2297.1V1040.9H2298.8V1033.8H2301.5V1035.5H2302.4V1044.4H2304.2V1046.2H2306.0V1044.4H2309.5V1049.8H2312.2V1051.6H2313.1V1053.3H2315.7V1055.1H2316.6V1056.9H2320.2V1048.0H2322.9V1049.8H2323.7V1042.7H2327.3V1048.0H2330.0V1049.8H2334.4V1058.7H2338.0V1060.5H2340.7V1062.2H2341.5V1058.7H2345.1V1065.8H2347.8V1067.6H2348.7V1064.0H2351.3V1065.8H2352.2V1053.3H2355.8V1055.1H2359.3V1058.7H2362.0V1060.5H2362.9V1064.0H2366.5V1053.3H2370.0V1056.9H2373.6V1058.7H2377.1V1064.0H2380.7V1055.1H2384.2V1071.1H2387.8V1064.0H2391.4V1065.8H2394.9V1067.6H2396.7V1069.4H2398.5V1064.0H2402.0V1056.9H2405.6V1064.0H2409.2V1062.2H2410.5V1080.0H2409.2V1085.4H2405.6V1083.6H2402.0V1088.9H2398.5V1087.1H2394.9V1092.5H2391.4V1087.1H2387.8V1096.0H2384.2V1088.9H2380.7V1096.0H2378.0V1094.3H2377.1V1085.4H2373.6V1090.7H2370.0V1088.9H2366.5V1081.8H2362.9V1088.9H2359.3V1083.6H2355.8V1080.0H2352.2V1088.9H2348.7V1087.1H2345.1V1083.6H2342.4V1081.8H2340.7V1080.0H2338.0V1081.8H2334.4V1085.4H2332.6V1083.6H2330.9V1080.0H2330.0V1078.2H2327.3V1078.2H2326.4V1076.5H2323.7V1074.7H2322.9V1072.9H2317.5V1071.1H2316.6V1069.4H2313.1V1072.9H2312.2V1071.1H2309.5V1074.7H2307.7V1072.9H2306.0V1074.7H2302.4V1071.1H2298.8V1071.1H2295.3V1062.2H2291.7V1058.7H2290.8V1060.5H2288.2V1065.8H2284.6V1062.2H2281.0V1067.6H2277.5V1080.0H2274.8V1081.8H2273.9V1080.0H2271.3V1081.8H2270.4V1078.2H2266.8V1081.8H2263.3V1071.1H2259.7V1080.0H2252.6V1076.5H2245.5V1080.0H2241.9V1081.8H2239.2V1083.6H2238.3V1078.2H2234.8V1081.8H2233.9V1083.6H2231.2V1076.5H2224.1V1074.7H2220.5V1071.1H2217.0V1076.5H2213.4V1087.1H2209.9V1076.5H2206.3V1083.6H2202.8V1080.0H2199.2V1074.7H2195.6V1076.5H2192.1V1071.1H2188.5V1069.4H2185.0V1080.0H2181.4V1074.7H2174.3V1069.4H2170.7V1076.5H2168.1V1074.7H2167.2V1085.4H2163.6V1072.9H2160.1V1069.4H2156.5V1081.8H2152.9V1076.5H2150.3V1074.7H2149.4V1081.8H2145.8V1069.4H2142.3V1085.4H2138.7V1067.6H2135.1V1065.8H2131.6V1071.1H2128.0V1067.6H2124.5V1078.2H2120.9V1067.6H2117.4V1071.1H2113.8V1069.4H2110.2V1071.1H2106.7V1072.9H2103.1V1080.0H2099.6V1072.9H2096.0V1071.1H2092.4V1074.7H2088.9V1067.6H2085.3V1074.7H2081.8V1071.1H2078.2V1067.6H2074.6V1072.9H2071.1V1074.7H2067.5V1078.2H2064.0V1074.7H2060.4V1069.4H2056.9V1071.1H2049.7V1067.6H2046.2V1064.0H2042.6V1074.7H2039.1V1067.6H2035.5V1071.1H2031.9V1071.1H2028.4V1072.9H2024.8V1071.1H2021.3V1081.8H2019.5V1080.0H2017.7V1076.5H2014.2V1064.0H2010.6V1076.5H2007.0V1064.0H2003.5V1072.9H1999.9V1076.5H1996.4V1067.6H1992.8V1065.8H1989.2V1072.9H1985.7V1078.2H1982.1V1067.6H1978.6V1071.1H1975.0V1078.2H1971.4V1062.2H1967.9V1072.9H1964.3V1071.1H1960.8V1069.4H1957.2V1065.8H1956.3V1064.0H1953.7V1074.7H1950.1V1064.0H1946.5V1072.9H1943.0V1064.0H1939.4V1072.9H1935.9V1071.1H1932.3V1076.5H1925.2V1072.9H1921.6V1062.2H1918.1V1064.0H1911.0V1069.4H1907.4V1062.2H1903.8V1067.6H1900.3V1074.7H1896.7V1071.1H1889.6V1064.0H1886.0V1074.7H1882.5V1074.7H1878.9V1076.5H1875.4V1067.6H1871.8V1080.0H1868.2V1065.8H1864.7V1076.5H1861.1V1069.4H1857.6V1072.9H1854.0V1064.0H1852.2V1065.8H1850.5V1067.6H1846.9V1064.0H1845.1V1065.8H1843.3V1071.1H1839.8V1072.9H1836.2V1074.7H1832.7V1071.1H1829.1V1067.6H1825.5V1069.4H1822.0V1071.1H1818.4V1062.2H1814.9V1078.2H1811.3V1076.5H1807.8V1080.0H1804.2V1071.1H1800.6V1074.7H1797.1V1078.2H1793.5V1071.1H1790.0V1069.4H1786.4V1071.1H1782.8V1076.5H1775.7V1081.8H1772.2V1074.7H1771.3V1076.5H1768.6V1071.1H1765.1V1072.9H1761.5V1071.1H1759.7V1069.4H1757.9V1081.8H1754.4V1071.1H1750.8V1083.6H1747.3V1072.9H1743.7V1076.5H1740.1V1067.6H1736.6V1076.5H1733.0V1071.1H1731.2V1069.4H1729.5V1081.8H1727.7V1080.0H1725.9V1064.0H1718.8V1069.4H1715.2V1072.9H1711.7V1064.0H1709.0V1062.2H1708.1V1064.0H1706.3V1062.2H1704.6V1053.3H1703.7V1051.6H1701.0V1060.5H1699.2V1058.7H1697.4V1055.1H1696.5V1053.3H1693.9V1060.5H1690.3V1058.7H1686.8V1051.6H1683.2V1062.2H1681.4V1060.5H1679.6V1056.9H1676.1V1053.3H1669.0V1051.6H1661.9V1048.0H1658.3V1055.1H1654.7V1053.3H1651.2V1042.7H1650.3V1040.9H1647.6V1053.3H1645.8V1051.6H1643.2V1049.8H1640.5V1040.9H1639.6V1042.7H1638.7V1044.4H1636.9V1042.7H1635.2V1044.4H1634.3V1046.2H1633.4V1051.6H1631.6V1053.3H1629.8V1049.8H1628.9V1051.6H1627.2V1053.3H1626.3V1062.2H1625.4V1064.0H1623.6V1065.8H1622.7V1062.2H1621.8V1064.0H1620.0V1065.8H1619.2V1069.4H1615.6V1060.5H1612.0V1062.2H1608.5V1069.4H1604.9V1062.2H1601.4V1071.1H1597.8V1067.6H1594.2V1072.9H1591.6V1071.1H1590.7V1071.1H1588.9V1069.4H1587.1V1055.1H1583.6V1051.6H1577.3V1049.8H1576.4V1056.9H1575.6V1055.1H1572.9V1060.5H1569.3V1046.2H1567.6V1044.4H1565.8V1058.7H1564.0V1056.9H1562.2V1048.0H1560.4V1046.2H1558.7V1053.3H1556.9V1051.6H1555.1V1048.0H1552.4V1046.2H1551.5V1048.0H1548.9V1046.2H1548.0V1037.3H1546.2V1035.5H1543.5V1033.8H1540.9V1033.8H1539.1V1032.0H1536.4V1030.2H1533.7V1037.3H1530.2V1030.2H1526.6V1026.6H1523.1V1028.4H1519.5V1042.7H1516.0V1040.9H1512.4V1033.8H1510.6V1035.5H1508.8V1042.7H1507.1V1044.4H1505.3V1032.0H1501.7V1046.2H1498.2V1040.9H1495.5V1042.7H1494.6V1048.0H1491.0V1056.9H1487.5V1037.3H1483.9V1048.0H1480.4V1055.1H1476.8V1044.4H1473.2V1056.9H1469.7V1055.1H1466.1V1058.7H1462.6V1046.2H1460.8V1048.0H1459.0V1058.7H1455.5V1046.2H1451.9V1060.5H1448.3V1056.9H1444.8V1042.7H1441.2V1053.3H1434.1V1058.7H1430.5V1060.5H1428.8V1058.7H1427.0V1042.7H1423.4V1058.7H1420.8V1056.9H1417.2V1055.1H1416.3V1058.7H1414.5V1056.9H1412.8V1048.0H1410.1V1046.2H1409.2V1039.1H1408.3V1037.3H1407.4V1035.5H1406.5V1033.8H1405.6V1037.3H1404.7V1035.5H1403.9V1033.8H1402.1V1035.5H1401.2V1033.8H1400.3V1032.0H1399.4V1030.2H1398.5V1026.6H1397.6V1024.9H1396.7V1023.1H1395.8V1021.3H1395.0V1017.8H1394.1V1016.0H1393.2V1014.2H1392.3V1010.6H1391.4V1003.5H1390.5V998.2H1389.6V992.8H1388.7V987.5H1387.8V980.4H1387.0V975.0H1386.1V969.7H1385.2V964.4H1384.3V967.9H1383.4V962.6H1382.5V955.5H1381.6V948.4H1380.7V932.3H1379.8V923.4H1378.9V928.8H1378.1V937.7H1377.2V950.1H1376.3V957.3H1375.4V964.4H1374.5V971.5H1373.6V971.5H1372.7V978.6H1371.8V985.7H1370.9V992.8H1370.1V1021.3H1369.2V1026.6H1368.3V1028.4H1367.4V1030.2H1366.5V1014.2H1365.6V1016.0H1364.7V1017.8H1363.8V1019.5H1362.9V1032.0H1362.0V1033.8H1360.3V1035.5H1359.4V1028.4H1357.6V1030.2H1356.7V1032.0H1355.8V1044.4H1354.0V1046.2H1353.1V1048.0H1352.3V1051.6H1350.5V1053.3H1348.7V1040.9H1345.1V1042.7H1341.6V1046.2H1338.0V1051.6H1334.5V1046.2H1330.9V1053.3H1328.2V1055.1H1327.3V1042.7H1323.8V1044.4H1320.2V1053.3H1316.7V1051.6H1313.1V1049.8H1309.6V1040.9H1306.0V1042.7H1302.4V1044.4H1298.9V1040.9H1295.3V1049.8H1291.8V1044.4H1288.2V1042.7H1284.6V1053.3H1281.1V1055.1H1277.5V1053.3H1276.6V1051.6H1274.0V1042.7H1270.4V1053.3H1266.9V1046.2H1263.3V1039.1H1256.2V1040.9H1255.3V1039.1H1252.6V1053.3H1249.1V1044.4H1245.5V1055.1H1241.9V1049.8H1238.4V1037.3H1234.8V1035.5H1231.3V1055.1H1227.7V1033.8H1224.1V1044.4H1220.6V1051.6H1217.0V1046.2H1215.3V1044.4H1213.5V1039.1H1209.9V1035.5H1208.1V1033.8H1206.4V1040.9H1202.8V1039.1H1199.2V1042.7H1195.7V1040.9H1192.1V1042.7H1191.2V1040.9H1188.6V1040.9H1185.0V1046.2H1181.4V1044.4H1177.9V1033.8H1176.1V1032.0H1174.3V1033.8H1170.8V1028.4H1167.2V1051.6H1163.7V1033.8H1160.1V1039.1H1156.5V1030.2H1153.0V1033.8H1149.4V1039.1H1145.9V1042.7H1144.1V1040.9H1142.3V1049.8H1138.7V1040.9H1136.1V1039.1H1135.2V1032.0H1131.6V1037.3H1128.1V1033.8H1124.5V1042.7H1123.6V1044.4H1121.0V1033.8H1118.3V1035.5H1117.4V1044.4H1114.7V1046.2H1113.8V1049.8H1110.3V1042.7H1108.5V1044.4H1106.7V1046.2H1103.2V1040.9H1099.6V1037.3H1097.8V1039.1H1096.0V1044.4H1092.5V1039.1H1091.6V1040.9H1088.9V1044.4H1085.4V1039.1H1083.6V1040.9H1080.0V1042.7H1078.2V1044.4H1074.7V1042.7H1071.1V1039.1H1064.9V1040.9H1064.0V1042.7H1060.5V1058.7H1056.9V1042.7H1053.3V1048.0H1052.4V1049.8H1049.8V1046.2H1047.1V1048.0H1046.2V1040.9H1042.7V1053.3H1041.8V1055.1H1039.1V1055.1H1035.5V1058.7H1027.5V1060.5H1024.9V1056.9H1021.3V1051.6H1017.8V1049.8H1010.6V1046.2H1007.1V1062.2H1006.2V1060.5H1003.5V1040.9H1000.0V1051.6H996.4V1035.5H992.8V1044.4H989.3V1055.1H986.6V1053.3H985.7V1042.7H978.6V1049.8H975.9V1048.0H975.0V1051.6H971.5V1035.5H968.8V1033.8H967.9V1035.5H966.2V1033.8H964.4V1032.0H960.8V1049.8H959.9V1048.0H957.3V1051.6H953.7V1042.7H950.1V1046.2H948.4V1044.4H946.6V1026.6H945.7V1024.9H943.0V1033.8H939.5V1035.5H935.9V1026.6H934.1V1024.9H932.3V1032.0H928.8V1016.0H927.0V1014.2H925.2V1037.3H924.3V1035.5H921.7V1019.5H918.1V1028.4H917.2V1026.6H914.6V1023.1H911.9V1021.3H911.0V1012.4H910.1V1010.6H907.4V1023.1H905.7V1021.3H903.9V1016.0H901.2V1014.2H900.3V1010.6H899.4V1008.9H896.8V1010.6H895.0V1008.9H893.2V1021.3H890.5V1019.5H889.6V1010.6H887.0V1008.9H886.1V1007.1H884.3V1005.3H882.5V1014.2H879.9V1012.4H879.0V1012.4H878.1V1010.6H875.4V1012.4H874.5V1010.6H872.7V1008.9H871.8V1000.0H870.1V998.2H868.3V1000.0H866.5V998.2H864.7V985.7H863.8V983.9H862.1V982.2H861.2V976.8H859.4V975.0H858.5V973.3H857.6V978.6H856.7V976.8H854.9V975.0H854.1V985.7H851.4V983.9H850.5V982.2H849.6V980.4H847.8V978.6H846.9V985.7H845.2V983.9H843.4V967.9H842.5V966.2H839.8V962.6H838.9V960.8H837.2V959.0H836.3V975.0H835.4V973.3H832.7V955.5H829.1V969.7H825.6V959.0H822.0V962.6H818.5V960.8H814.9V951.9H811.4V973.3H807.8V967.9H806.0V966.2H804.2V971.5H802.5V969.7H799.8V967.9H798.0V966.2H797.1V950.1H796.2V948.4H794.5V946.6H792.7V944.8H790.9V943.0H790.0V950.1H789.1V948.4H788.2V946.6H787.3V944.8H786.4V932.3H785.6V930.6H784.7V927.0H783.8V925.2H782.9V939.5H782.0V935.9H781.1V934.1H780.2V932.3H779.3V925.2H778.4V923.4H777.5V921.7H776.7V919.9H775.8V911.0H774.9V909.2H774.0V907.4H773.1V905.7H772.2V911.0H770.4V909.2H769.5V907.4H768.7V912.8H767.8V911.0H766.9V909.2H766.0V907.4H765.1V896.8H764.2V895.0H763.3V893.2H762.4V891.4H761.5V889.6H760.6V887.9H758.9V886.1H758.0V891.4H757.1V893.2H755.3V895.0H754.4V889.6H752.6V893.2H751.7V896.8H750.9V903.9H750.0V907.4H749.1V911.0H748.2V914.6H747.3V918.1H746.4V921.7H745.5V925.2H744.6V928.8H743.7V916.3H742.9V919.9H742.0V923.4H741.1V925.2H740.2V928.8H739.3V930.6H738.4V934.1H737.5V935.9H736.6V953.7H735.7V957.3H734.8V959.0H734.0V962.6H733.1V957.3H732.2V959.0H731.3V960.8H730.4V964.4H729.5V955.5H728.6V957.3H727.7V960.8H725.9V978.6H724.2V980.4H722.4V975.0H721.5V976.8H719.7V978.6H718.8V973.3H717.9V975.0H716.2V976.8H715.3V989.3H711.7V991.1H708.2V998.2H704.6V989.3H701.0V985.7H697.5V989.3H693.9V980.4H690.4V991.1H687.7V989.3H686.8V994.6H683.2V983.9H679.7V980.4H678.8V978.6H676.1V992.8H672.6V980.4H669.0V975.0H665.5V980.4H661.9V976.8H658.3V980.4H654.8V983.9H647.7V985.7H644.1V983.9H640.5V980.4H638.8V978.6H633.4V980.4H629.9V973.3H626.3V989.3H622.8V983.9H619.2V980.4H615.6V978.6H613.0V976.8H612.1V983.9H610.3V982.2H608.5V973.3H607.6V971.5H605.0V967.9H601.4V976.8H597.8V967.9H594.3V959.0H593.4V957.3H590.7V975.0H589.8V973.3H587.2V966.2H585.4V964.4H583.6V978.6H582.7V976.8H580.0V971.5H577.4V969.7H576.5V975.0H575.6V973.3H572.9V969.7H572.0V967.9H569.4V957.3H566.7V955.5H565.8V960.8H563.1V959.0H562.3V957.3H560.5V955.5H558.7V944.8H557.8V943.0H555.1V944.8H551.6V951.9H548.9V953.7H548.0V951.9H545.4V953.7H544.5V955.5H540.9V957.3H535.6V959.0H533.8V951.9H530.2V971.5H527.6V973.3H526.7V960.8H524.9V962.6H519.6V960.8H516.0V962.6H514.2V964.4H512.4V955.5H508.9V962.6H507.1V964.4H505.3V955.5H501.8V971.5H500.0V973.3H498.2V967.9H496.4V969.7H494.6V967.9H492.0V969.7H491.1V971.5H490.2V973.3H487.5V967.9H486.6V969.7H484.0V983.9H480.4V978.6H477.7V980.4H473.3V973.3H470.6V975.0H469.7V992.8H468.8V994.6H466.2V980.4H462.6V982.2H459.9V983.9H459.1V985.7H458.2V987.5H455.5V980.4H454.6V982.2H451.9V992.8H450.2V994.6H448.4V992.8H445.7V994.6H444.8V996.4H441.3V989.3H437.7V992.8H436.8V994.6H434.1V998.2H431.5V1000.0H427.0V1001.7H424.4V1003.5H420.8V1005.3H419.9V996.4H416.4V1012.4H414.6V1014.2H412.8V1016.0H409.2V1001.7H405.7V1014.2H402.1V1003.5H399.4V1005.3H398.6V1014.2H395.0V1012.4H391.4V998.2H387.9V1010.6H384.3V1017.8H381.7V1019.5H380.8V1021.3H377.2V1016.0H374.5V1017.8H373.7V1012.4H371.0V1014.2H370.1V1007.1H366.5V1005.3H363.0V1012.4H359.4V1008.9H355.9V1007.1H352.3V1003.5H348.7V1016.0H345.2V1017.8H341.6V1001.7H338.1V1017.8H334.5V1000.0H330.9V1007.1H327.4V1014.2H323.8V1021.3H320.3V1005.3H316.7V1012.4H313.2V1023.1H309.6V1021.3H302.5V1007.1H298.9V1005.3H295.4V1012.4H294.5V1010.6H291.8V1021.3H288.2V1000.0H284.7V998.2H281.1V1003.5H277.6V998.2H274.0V1012.4H270.5V1008.9H266.9V1003.5H263.3V1014.2H262.4V1012.4H259.8V994.6H258.0V992.8H256.2V1012.4H255.3V1010.6H252.7V1008.9H250.0V1007.1H249.1V1001.7H248.2V1000.0H245.5V1001.7H242.0V985.7H238.4V1005.3H237.5V1003.5H234.9V996.4H232.2V994.6H231.3V996.4H229.5V994.6H227.7V983.9H226.0V982.2H224.2V983.9H221.5V982.2H217.1V991.1H215.3V989.3H213.5V985.7H212.6V983.9H210.0V987.5H206.4V978.6H205.0Z" fill="#5C70FF" fill-opacity="0.6"/>
<path d="M205.0,962.6H206.4V955.5H210.0V964.4H210.8V966.2H213.5V955.5H216.2V957.3H217.1V962.6H220.6V960.8H223.3V962.6H224.2V967.9H226.9V969.7H227.7V966.2H229.5V967.9H231.3V962.6H234.9V964.4H235.8V966.2H238.4V969.7H240.2V971.5H242.0V962.6H242.9V964.4H248.2V966.2H249.1V971.5H256.2V978.6H258.0V980.4H262.4V982.2H263.3V976.8H265.1V978.6H270.5V980.4H274.0V982.2H276.7V983.9H277.6V980.4H281.1V987.5H282.0V989.3H285.6V991.1H288.2V982.2H294.5V983.9H295.4V978.6H298.9V983.9H302.5V982.2H304.3V983.9H306.0V994.6H309.6V991.1H313.2V989.3H316.7V992.8H318.5V994.6H320.3V983.9H330.9V987.5H334.5V989.3H338.1V987.5H341.6V985.7H345.2V994.6H348.7V985.7H352.3V992.8H355.9V991.1H359.4V983.9H363.0V985.7H370.1V987.5H373.6V985.7H384.3V978.6H387.9V980.4H389.7V978.6H391.4V983.9H394.1V982.2H395.0V980.4H398.6V985.7H402.1V978.6H405.7V969.7H409.2V976.8H411.9V975.0H412.8V978.6H416.4V971.5H419.9V973.3H423.5V976.8H425.2V975.0H427.0V976.8H430.6V967.9H431.5V966.2H434.1V967.9H437.7V964.4H438.6V962.6H441.3V964.4H443.9V962.6H444.8V966.2H447.5V964.4H448.4V967.9H451.9V962.6H453.7V960.8H455.5V962.6H459.1V960.8H462.6V962.6H463.5V960.8H466.2V959.0H468.8V957.3H469.7V955.5H472.4V953.7H473.3V955.5H475.1V953.7H476.8V946.6H479.5V944.8H480.4V951.9H481.3V950.1H484.0V951.9H485.7V950.1H487.5V943.0H491.1V948.4H492.0V946.6H495.5V944.8H498.2V946.6H500.9V944.8H501.8V935.9H503.5V934.1H505.3V941.2H508.9V934.1H511.5V932.3H512.4V935.9H514.2V934.1H516.0V937.7H517.8V935.9H522.2V934.1H523.1V930.6H530.2V927.0H533.8V928.8H537.3V930.6H539.1V928.8H540.9V923.4H542.7V921.7H544.5V923.4H548.0V925.2H551.6V921.7H562.3V928.8H564.9V930.6H565.8V928.8H566.7V930.6H568.5V932.3H569.4V935.9H572.0V937.7H572.9V939.5H575.6V941.2H576.5V939.5H579.2V941.2H580.0V943.0H583.6V935.9H585.4V937.7H587.2V941.2H590.7V943.0H594.3V941.2H595.2V943.0H598.7V944.8H601.4V946.6H603.2V948.4H605.0V944.8H607.6V946.6H608.5V955.5H612.1V959.0H615.6V953.7H619.2V960.8H622.8V955.5H626.3V959.0H637.0V960.8H640.5V959.0H644.1V957.3H647.7V962.6H651.2V951.9H654.8V955.5H658.3V960.8H665.5V964.4H669.0V960.8H672.6V955.5H676.1V957.3H679.7V962.6H686.8V957.3H690.4V955.5H691.3V957.3H693.9V959.0H697.5V962.6H701.0V964.4H704.6V962.6H709.9V960.8H713.5V959.0H715.3V955.5H716.2V953.7H717.9V951.9H718.8V944.8H720.6V943.0H721.5V941.2H722.4V944.8H723.3V943.0H724.2V941.2H725.1V937.7H725.9V930.6H726.8V928.8H727.7V925.2H728.6V923.4H729.5V925.2H730.4V921.7H731.3V919.9H732.2V916.3H734.0V914.6H734.8V911.0H735.7V909.2H736.6V900.3H737.5V896.8H738.4V893.2H739.3V891.4H740.2V886.1H741.1V884.3H742.0V880.7H742.9V877.2H743.7V875.4H744.6V871.9H745.5V868.3H746.4V864.7H747.3V866.5H749.1V864.7H750.0V863.0H750.9V857.6H751.7V855.8H752.6V854.1H758.0V850.5H761.5V854.1H762.4V855.8H764.2V857.6H765.1V864.7H766.0V866.5H767.8V868.3H769.5V870.1H770.4V871.9H771.3V873.6H773.1V875.4H774.0V877.2H774.9V879.0H775.8V882.5H776.7V884.3H778.4V886.1H780.2V887.9H781.1V889.6H782.0V891.4H782.9V898.5H783.8V900.3H784.7V902.1H785.6V903.9H786.4V902.1H787.3V903.9H788.2V905.7H789.1V907.4H790.0V911.0H790.9V914.6H791.8V916.3H792.7V918.1H793.6V916.3H794.5V918.1H795.3V919.9H797.1V923.4H798.9V925.2H800.7V928.8H801.6V930.6H803.3V932.3H804.2V927.0H806.0V928.8H807.8V932.3H809.6V934.1H811.4V937.7H814.9V932.3H818.5V937.7H825.6V935.9H827.4V934.1H829.1V937.7H832.7V939.5H836.3V937.7H839.8V939.5H840.7V941.2H843.4V943.0H846.1V944.8H846.9V948.4H848.7V950.1H850.5V948.4H852.3V950.1H854.1V946.6H856.7V948.4H857.6V951.9H858.5V953.7H860.3V955.5H861.2V953.7H862.1V955.5H863.8V957.3H864.7V959.0H866.5V960.8H867.4V962.6H868.3V960.8H870.1V962.6H871.0V964.4H871.9V966.2H872.7V967.9H873.6V969.7H875.4V973.3H876.3V975.0H878.1V976.8H879.0V983.9H881.6V985.7H882.5V980.4H883.4V982.2H886.1V978.6H887.0V980.4H889.6V985.7H891.4V987.5H893.2V983.9H894.1V985.7H896.8V996.4H899.4V998.2H900.3V994.6H903.0V996.4H903.9V991.1H906.5V992.8H907.4V994.6H914.6V998.2H918.1V996.4H919.9V998.2H924.3V1000.0H925.2V994.6H926.1V996.4H928.8V1003.5H929.7V1005.3H932.3V1001.7H935.9V1010.6H939.5V1007.1H943.0V1010.6H946.6V1014.2H950.1V1010.6H951.9V1012.4H953.7V1014.2H957.3V1017.8H961.7V1019.5H964.4V1012.4H967.9V1014.2H971.5V1017.8H975.0V1021.3H980.4V1023.1H982.2V1017.8H985.7V1019.5H989.3V1023.1H992.8V1024.9H995.5V1026.6H996.4V1021.3H998.2V1023.1H1000.0V1021.3H1003.5V1024.9H1007.1V1023.1H1009.7V1024.9H1014.2V1030.2H1017.8V1028.4H1021.3V1026.6H1023.1V1024.9H1024.9V1026.6H1032.0V1033.8H1035.5V1028.4H1038.2V1026.6H1039.1V1023.1H1042.7V1024.9H1049.8V1026.6H1053.3V1023.1H1056.9V1024.9H1060.5V1028.4H1062.2V1026.6H1064.0V1024.9H1067.6V1023.1H1071.1V1030.2H1073.8V1028.4H1076.5V1026.6H1078.2V1021.3H1081.8V1023.1H1088.9V1017.8H1091.6V1016.0H1092.5V1021.3H1094.3V1019.5H1096.0V1014.2H1099.6V1016.0H1103.2V1021.3H1104.9V1019.5H1106.7V1014.2H1107.6V1012.4H1110.3V1021.3H1113.8V1016.0H1116.5V1014.2H1117.4V1016.0H1121.0V1017.8H1124.5V1014.2H1138.7V1012.4H1142.3V1010.6H1145.9V1016.0H1149.4V1017.8H1153.0V1012.4H1156.5V1016.0H1160.1V1017.8H1163.7V1019.5H1167.2V1016.0H1170.8V1019.5H1173.4V1021.3H1177.9V1017.8H1181.4V1019.5H1184.1V1021.3H1185.0V1017.8H1188.6V1019.5H1192.1V1021.3H1195.7V1023.1H1202.8V1019.5H1209.9V1023.1H1213.5V1021.3H1217.0V1016.0H1220.6V1021.3H1224.1V1023.1H1225.9V1024.9H1227.7V1021.3H1231.3V1019.5H1234.8V1023.1H1238.4V1019.5H1241.9V1024.9H1251.7V1026.6H1252.6V1028.4H1259.7V1026.6H1263.3V1021.3H1270.4V1026.6H1277.5V1030.2H1281.1V1024.9H1288.2V1030.2H1295.3V1028.4H1298.9V1024.9H1306.0V1023.1H1309.6V1024.9H1320.2V1023.1H1323.8V1021.3H1327.3V1023.1H1334.5V1021.3H1338.0V1023.1H1341.6V1019.5H1345.1V1024.9H1346.0V1023.1H1346.9V1021.3H1348.7V1012.4H1349.6V1010.6H1350.5V1008.9H1352.3V1010.6H1353.1V1008.9H1354.9V1007.1H1355.8V1005.3H1356.7V1003.5H1357.6V1001.7H1358.5V1000.0H1359.4V998.2H1360.3V996.4H1361.2V994.6H1362.0V992.8H1362.9V987.5H1363.8V980.4H1364.7V973.3H1365.6V966.2H1366.5V967.9H1367.4V960.8H1368.3V951.9H1369.2V944.8H1370.0V928.8H1370.9V919.9H1371.8V911.0H1372.7V902.1H1374.5V893.2H1375.4V884.3H1376.3V882.5H1377.2V880.7H1378.1V882.5H1378.9V884.3H1379.8V882.5H1380.7V875.4H1381.6V877.2H1382.5V886.1H1383.4V893.2H1384.3V903.9H1385.2V911.0H1386.1V919.9H1387.0V927.0H1387.8V934.1H1388.7V939.5H1389.6V944.8H1390.5V950.1H1391.4V955.5H1392.3V960.8H1393.2V966.2H1394.1V971.5H1395.0V973.3H1395.8V978.6H1396.7V983.9H1397.6V989.3H1398.5V991.1H1399.4V992.8H1400.3V994.6H1401.2V996.4H1402.1V1000.0H1403.0V1001.7H1403.9V1003.5H1404.7V1005.3H1405.6V1008.9H1406.5V1010.6H1407.4V1012.4H1408.3V1014.2H1409.2V1023.1H1410.1V1024.9H1411.0V1026.6H1411.9V1028.4H1412.8V1023.1H1413.6V1024.9H1415.4V1026.6H1416.3V1028.4H1419.0V1030.2H1419.9V1028.4H1420.8V1030.2H1423.4V1028.4H1427.0V1026.6H1428.8V1028.4H1430.5V1032.0H1433.2V1033.8H1437.7V1039.1H1439.4V1037.3H1441.2V1033.8H1444.8V1030.2H1448.3V1037.3H1450.1V1035.5H1454.6V1033.8H1455.5V1028.4H1459.0V1030.2H1466.1V1028.4H1469.7V1026.6H1473.2V1030.2H1475.0V1028.4H1476.8V1032.0H1479.5V1030.2H1482.1V1028.4H1483.9V1024.9H1487.5V1026.6H1489.3V1024.9H1491.0V1019.5H1494.6V1017.8H1496.4V1016.0H1498.2V1023.1H1501.7V1017.8H1505.3V1012.4H1508.8V1016.0H1512.4V1017.8H1515.1V1016.0H1516.0V1010.6H1519.5V1014.2H1523.1V1016.0H1524.0V1014.2H1528.4V1012.4H1537.3V1008.9H1539.1V1010.6H1540.9V1012.4H1542.6V1014.2H1544.4V1016.0H1547.1V1017.8H1550.6V1019.5H1551.5V1024.9H1553.3V1026.6H1555.1V1023.1H1557.8V1024.9H1558.7V1026.6H1559.5V1028.4H1561.3V1030.2H1567.6V1032.0H1569.3V1030.2H1570.2V1032.0H1576.4V1033.8H1579.1V1035.5H1580.0V1037.3H1582.7V1039.1H1583.6V1035.5H1587.1V1040.9H1589.8V1042.7H1590.7V1040.9H1591.6V1042.7H1594.2V1044.4H1597.8V1040.9H1601.4V1048.0H1605.8V1049.8H1608.5V1039.1H1612.0V1046.2H1614.7V1044.4H1617.4V1042.7H1619.2V1037.3H1620.9V1035.5H1621.8V1033.8H1623.6V1032.0H1625.4V1030.2H1626.3V1037.3H1627.2V1035.5H1628.9V1033.8H1629.8V1028.4H1631.6V1026.6H1632.5V1024.9H1633.4V1026.6H1635.2V1024.9H1636.9V1021.3H1640.5V1026.6H1644.1V1019.5H1644.9V1021.3H1647.6V1026.6H1650.3V1028.4H1651.2V1032.0H1654.7V1028.4H1655.6V1030.2H1658.3V1032.0H1661.0V1033.8H1661.9V1032.0H1664.5V1033.8H1665.4V1032.0H1669.0V1035.5H1670.7V1037.3H1672.5V1033.8H1675.2V1035.5H1679.6V1032.0H1683.2V1033.8H1693.9V1035.5H1697.4V1039.1H1701.0V1040.9H1704.6V1037.3H1705.4V1039.1H1708.1V1044.4H1714.3V1046.2H1715.2V1042.7H1716.1V1044.4H1718.8V1046.2H1721.5V1048.0H1722.3V1042.7H1724.1V1044.4H1725.9V1049.8H1730.4V1051.6H1734.8V1053.3H1736.6V1051.6H1737.5V1053.3H1743.7V1056.9H1747.3V1055.1H1750.8V1056.9H1754.4V1053.3H1761.5V1049.8H1765.1V1053.3H1768.6V1056.9H1772.2V1055.1H1775.7V1053.3H1779.3V1058.7H1782.8V1056.9H1789.1V1055.1H1793.5V1056.9H1800.6V1051.6H1811.3V1056.9H1814.9V1049.8H1817.5V1048.0H1818.4V1053.3H1822.0V1051.6H1825.5V1049.8H1829.1V1051.6H1832.7V1046.2H1836.2V1053.3H1843.3V1049.8H1846.9V1051.6H1850.5V1053.3H1854.0V1049.8H1861.1V1051.6H1864.7V1055.1H1868.2V1049.8H1871.8V1051.6H1875.4V1049.8H1882.5V1055.1H1886.0V1049.8H1893.2V1051.6H1896.7V1053.3H1900.3V1051.6H1907.4V1049.8H1914.5V1046.2H1918.1V1048.0H1921.6V1046.2H1925.2V1048.0H1928.7V1049.8H1932.3V1051.6H1939.4V1049.8H1943.0V1053.3H1946.5V1051.6H1950.1V1048.0H1957.2V1055.1H1960.8V1051.6H1964.3V1048.0H1967.9V1051.6H1971.4V1053.3H1975.0V1048.0H1985.7V1055.1H1989.2V1046.2H1992.8V1051.6H1996.4V1048.0H1999.9V1049.8H2003.5V1051.6H2007.0V1046.2H2010.6V1049.8H2014.2V1048.0H2017.7V1053.3H2024.8V1055.1H2028.4V1049.8H2031.9V1055.1H2035.5V1049.8H2039.1V1051.6H2041.7V1053.3H2042.6V1048.0H2046.2V1049.8H2053.3V1055.1H2056.9V1056.9H2060.4V1053.3H2064.0V1056.9H2067.5V1053.3H2071.1V1055.1H2077.3V1056.9H2081.8V1051.6H2084.4V1053.3H2085.3V1051.6H2088.9V1053.3H2090.7V1055.1H2092.4V1051.6H2096.0V1053.3H2099.6V1056.9H2106.7V1055.1H2110.2V1056.9H2117.4V1053.3H2124.5V1056.9H2128.0V1055.1H2131.6V1056.9H2138.7V1060.5H2142.3V1055.1H2149.4V1056.9H2152.9V1055.1H2156.5V1056.9H2160.1V1060.5H2160.9V1062.2H2163.6V1055.1H2167.2V1056.9H2170.7V1055.1H2174.3V1064.0H2177.8V1055.1H2185.0V1060.5H2188.5V1058.7H2192.1V1062.2H2195.6V1058.7H2202.8V1060.5H2206.3V1056.9H2209.9V1064.0H2217.0V1062.2H2217.9V1060.5H2220.5V1056.9H2224.1V1058.7H2227.7V1060.5H2234.8V1062.2H2238.3V1060.5H2241.9V1062.2H2245.5V1060.5H2249.0V1058.7H2255.2V1056.9H2257.9V1055.1H2259.7V1056.9H2265.0V1055.1H2266.8V1049.8H2268.6V1048.0H2270.4V1051.6H2272.1V1049.8H2273.9V1051.6H2274.8V1049.8H2278.4V1048.0H2282.8V1046.2H2284.6V1051.6H2285.5V1049.8H2291.7V1042.7H2297.1V1044.4H2301.5V1046.2H2302.4V1044.4H2304.2V1046.2H2306.0V1048.0H2309.5V1049.8H2312.2V1051.6H2313.1V1053.3H2315.7V1055.1H2316.6V1056.9H2320.2V1048.0H2322.9V1049.8H2327.3V1056.9H2330.0V1058.7H2330.9V1056.9H2334.4V1064.0H2340.7V1065.8H2341.5V1067.6H2345.1V1065.8H2347.8V1067.6H2348.7V1064.0H2351.3V1065.8H2352.2V1060.5H2355.8V1065.8H2359.3V1064.0H2362.0V1065.8H2362.9V1064.0H2366.5V1060.5H2370.0V1067.6H2373.6V1065.8H2377.1V1064.0H2380.7V1062.2H2384.2V1071.1H2387.8V1064.0H2391.4V1065.8H2394.9V1067.6H2396.7V1069.4H2398.5V1064.0H2409.2V1062.2H2410.5V1080.0H2405.6V1083.6H2402.0V1081.8H2394.9V1085.4H2391.4V1081.8H2387.8V1085.4H2384.2V1081.8H2380.7V1085.4H2378.0V1083.6H2377.1V1076.5H2373.6V1081.8H2370.0V1080.0H2366.5V1081.8H2359.3V1074.7H2355.8V1076.5H2348.7V1078.2H2345.1V1083.6H2342.4V1081.8H2340.7V1080.0H2338.0V1074.7H2334.4V1078.2H2332.6V1076.5H2330.9V1069.4H2330.0V1067.6H2327.3V1072.9H2326.4V1071.1H2323.7V1064.0H2322.9V1062.2H2320.2V1072.9H2317.5V1071.1H2316.6V1069.4H2313.1V1065.8H2312.2V1064.0H2309.5V1065.8H2307.7V1064.0H2306.0V1065.8H2302.4V1060.5H2298.8V1062.2H2295.3V1056.9H2291.7V1058.7H2290.8V1060.5H2288.2V1065.8H2284.6V1062.2H2281.0V1067.6H2274.8V1069.4H2271.3V1071.1H2270.4V1067.6H2266.8V1069.4H2263.3V1071.1H2259.7V1072.9H2256.1V1071.1H2252.6V1076.5H2245.5V1074.7H2241.9V1071.1H2239.2V1072.9H2238.3V1071.1H2233.9V1072.9H2231.2V1071.1H2227.7V1076.5H2224.1V1074.7H2220.5V1071.1H2217.0V1076.5H2209.9V1071.1H2206.3V1074.7H2195.6V1076.5H2192.1V1071.1H2188.5V1069.4H2181.4V1071.1H2177.8V1074.7H2174.3V1069.4H2170.7V1072.9H2168.1V1071.1H2167.2V1076.5H2163.6V1072.9H2160.1V1069.4H2156.5V1071.1H2150.3V1069.4H2149.4V1071.1H2145.8V1069.4H2142.3V1072.9H2138.7V1067.6H2135.1V1065.8H2131.6V1071.1H2128.0V1067.6H2124.5V1069.4H2120.9V1067.6H2117.4V1071.1H2113.8V1069.4H2110.2V1067.6H2106.7V1072.9H2103.1V1069.4H2096.0V1071.1H2092.4V1067.6H2085.3V1065.8H2078.2V1067.6H2067.5V1069.4H2064.0V1065.8H2060.4V1069.4H2056.9V1064.0H2053.3V1071.1H2049.7V1067.6H2046.2V1064.0H2042.6V1065.8H2039.1V1067.6H2035.5V1065.8H2031.9V1060.5H2028.4V1067.6H2021.3V1069.4H2019.5V1067.6H2017.7V1065.8H2014.2V1064.0H2010.6V1065.8H2007.0V1064.0H2003.5V1065.8H1999.9V1064.0H1996.4V1062.2H1992.8V1065.8H1985.7V1067.6H1982.1V1064.0H1978.6V1065.8H1971.4V1062.2H1967.9V1067.6H1964.3V1065.8H1960.8V1069.4H1957.2V1065.8H1956.3V1064.0H1953.7V1062.2H1950.1V1064.0H1946.5V1062.2H1943.0V1064.0H1939.4V1062.2H1935.9V1064.0H1932.3V1065.8H1928.7V1069.4H1925.2V1062.2H1918.1V1064.0H1911.0V1062.2H1903.8V1067.6H1900.3V1065.8H1896.7V1064.0H1882.5V1069.4H1878.9V1065.8H1875.4V1067.6H1871.8V1069.4H1868.2V1065.8H1861.1V1064.0H1852.2V1065.8H1850.5V1067.6H1846.9V1060.5H1845.1V1062.2H1843.3V1065.8H1829.1V1067.6H1825.5V1064.0H1822.0V1071.1H1818.4V1062.2H1814.9V1069.4H1811.3V1067.6H1807.8V1071.1H1800.6V1065.8H1797.1V1067.6H1793.5V1064.0H1790.0V1069.4H1786.4V1065.8H1782.8V1069.4H1772.2V1064.0H1771.3V1065.8H1768.6V1064.0H1765.1V1065.8H1761.5V1071.1H1759.7V1069.4H1757.9V1071.1H1750.8V1074.7H1747.3V1069.4H1743.7V1071.1H1740.1V1067.6H1736.6V1069.4H1733.0V1071.1H1731.2V1069.4H1729.5V1072.9H1727.7V1071.1H1725.9V1064.0H1711.7V1060.5H1709.0V1058.7H1706.3V1056.9H1704.6V1053.3H1703.7V1051.6H1701.0V1049.8H1699.2V1048.0H1697.4V1055.1H1696.5V1053.3H1693.9V1048.0H1686.8V1051.6H1681.4V1049.8H1679.6V1046.2H1676.1V1053.3H1669.0V1051.6H1661.9V1048.0H1654.7V1042.7H1650.3V1040.9H1645.8V1039.1H1644.1V1042.7H1643.2V1040.9H1639.6V1042.7H1638.7V1044.4H1636.9V1042.7H1635.2V1044.4H1634.3V1046.2H1633.4V1044.4H1631.6V1046.2H1629.8V1049.8H1628.9V1051.6H1627.2V1053.3H1626.3V1051.6H1625.4V1053.3H1623.6V1055.1H1621.8V1056.9H1620.0V1058.7H1619.2V1064.0H1615.6V1060.5H1612.0V1062.2H1608.5V1064.0H1604.9V1062.2H1601.4V1060.5H1597.8V1062.2H1594.2V1064.0H1591.6V1062.2H1590.7V1064.0H1588.9V1062.2H1587.1V1055.1H1583.6V1051.6H1577.3V1049.8H1576.4V1048.0H1575.6V1046.2H1572.9V1051.6H1569.3V1046.2H1567.6V1044.4H1565.8V1048.0H1564.0V1046.2H1562.2V1048.0H1560.4V1046.2H1558.7V1044.4H1556.9V1042.7H1555.1V1044.4H1552.4V1042.7H1551.5V1035.5H1548.9V1033.8H1548.0V1037.3H1546.2V1035.5H1543.5V1033.8H1540.9V1028.4H1539.1V1026.6H1537.3V1032.0H1536.4V1030.2H1533.7V1028.4H1530.2V1030.2H1526.6V1026.6H1523.1V1028.4H1519.5V1032.0H1516.0V1033.8H1512.4V1030.2H1510.6V1032.0H1508.8V1030.2H1507.1V1032.0H1501.7V1040.9H1498.2V1035.5H1495.5V1037.3H1491.0V1044.4H1487.5V1037.3H1483.9V1042.7H1480.4V1044.4H1473.2V1048.0H1469.7V1044.4H1466.1V1046.2H1460.8V1048.0H1459.0V1046.2H1451.9V1049.8H1448.3V1046.2H1444.8V1042.7H1441.2V1053.3H1434.1V1048.0H1430.5V1051.6H1428.8V1049.8H1427.0V1042.7H1423.4V1046.2H1420.8V1044.4H1417.2V1042.7H1416.3V1046.2H1414.5V1044.4H1412.8V1042.7H1410.1V1040.9H1409.2V1039.1H1408.3V1037.3H1407.4V1035.5H1406.5V1033.8H1405.6V1037.3H1404.7V1035.5H1403.9V1033.8H1402.1V1026.6H1401.2V1024.9H1400.3V1023.1H1399.4V1021.3H1398.5V1019.5H1397.6V1017.8H1396.7V1016.0H1395.8V1014.2H1395.0V1017.8H1394.1V1016.0H1393.2V1014.2H1392.3V1010.6H1391.4V1003.5H1390.5V998.2H1389.6V992.8H1388.7V987.5H1387.8V980.4H1387.0V975.0H1386.1V969.7H1385.2V964.4H1384.3V957.3H1383.4V951.9H1382.5V944.8H1381.6V937.7H1380.7V932.3H1379.8V923.4H1378.9V928.8H1378.1V937.7H1377.2V941.2H1376.3V948.4H1375.4V955.5H1374.5V962.6H1373.6V971.5H1372.7V978.6H1371.8V985.7H1370.9V992.8H1370.1V1008.9H1369.2V1014.2H1368.3V1016.0H1367.4V1017.8H1366.5V1008.9H1365.6V1010.6H1364.7V1012.4H1363.8V1014.2H1362.9V1023.1H1362.0V1024.9H1360.3V1026.6H1359.4V1028.4H1357.6V1030.2H1356.7V1032.0H1354.0V1033.8H1353.1V1035.5H1352.3V1039.1H1350.5V1040.9H1345.1V1042.7H1341.6V1040.9H1338.0V1044.4H1334.5V1037.3H1330.9V1042.7H1328.2V1044.4H1327.3V1042.7H1323.8V1044.4H1316.7V1037.3H1313.1V1044.4H1309.6V1040.9H1306.0V1042.7H1302.4V1044.4H1298.9V1040.9H1291.8V1044.4H1288.2V1042.7H1284.6V1044.4H1281.1V1046.2H1277.5V1039.1H1276.6V1037.3H1274.0V1042.7H1266.9V1039.1H1256.2V1040.9H1255.3V1039.1H1252.6V1044.4H1245.5V1042.7H1241.9V1039.1H1238.4V1037.3H1234.8V1035.5H1231.3V1042.7H1227.7V1033.8H1224.1V1044.4H1220.6V1037.3H1217.0V1040.9H1215.3V1039.1H1213.5V1032.0H1209.9V1035.5H1208.1V1033.8H1206.4V1040.9H1202.8V1033.8H1199.2V1037.3H1195.7V1040.9H1192.1V1035.5H1191.2V1033.8H1188.6V1032.0H1185.0V1039.1H1181.4V1037.3H1177.9V1033.8H1176.1V1032.0H1174.3V1033.8H1170.8V1028.4H1167.2V1037.3H1163.7V1033.8H1160.1V1026.6H1156.5V1030.2H1153.0V1033.8H1149.4V1028.4H1145.9V1033.8H1144.1V1032.0H1142.3V1035.5H1138.7V1032.0H1136.1V1030.2H1135.2V1032.0H1131.6V1037.3H1128.1V1033.8H1124.5V1035.5H1123.6V1037.3H1121.0V1033.8H1118.3V1035.5H1117.4V1033.8H1114.7V1035.5H1110.3V1032.0H1108.5V1033.8H1106.7V1039.1H1103.2V1028.4H1099.6V1037.3H1097.8V1039.1H1091.6V1040.9H1088.9V1039.1H1083.6V1040.9H1080.0V1042.7H1078.2V1039.1H1074.7V1042.7H1071.1V1039.1H1064.9V1040.9H1064.0V1042.7H1060.5V1046.2H1056.9V1042.7H1052.4V1044.4H1049.8V1046.2H1047.1V1048.0H1046.2V1040.9H1042.7V1042.7H1041.8V1044.4H1039.1V1046.2H1035.5V1051.6H1032.0V1042.7H1028.4V1046.2H1027.5V1048.0H1024.9V1046.2H1017.8V1049.8H1010.6V1046.2H1007.1V1048.0H1006.2V1046.2H1003.5V1040.9H1000.0V1046.2H996.4V1035.5H992.8V1044.4H989.3V1042.7H986.6V1040.9H985.7V1037.3H982.2V1042.7H978.6V1039.1H975.9V1037.3H975.0V1039.1H971.5V1035.5H968.8V1033.8H967.9V1035.5H966.2V1033.8H964.4V1032.0H960.8V1039.1H959.9V1037.3H953.7V1030.2H950.1V1032.0H948.4V1030.2H946.6V1026.6H945.7V1024.9H943.0V1021.3H939.5V1026.6H934.1V1024.9H932.3V1023.1H928.8V1016.0H927.0V1014.2H925.2V1023.1H924.3V1021.3H921.7V1019.5H918.1V1016.0H917.2V1014.2H914.6V1010.6H911.9V1008.9H911.0V1012.4H910.1V1010.6H907.4V1014.2H905.7V1012.4H903.9V1016.0H901.2V1014.2H900.3V1010.6H899.4V1008.9H896.8V1005.3H895.0V1003.5H893.2V1012.4H890.5V1010.6H889.6V1000.0H887.0V998.2H886.1V1001.7H884.3V1000.0H879.9V998.2H879.0V1000.0H878.1V998.2H874.5V996.4H872.7V994.6H871.8V987.5H870.1V985.7H868.3V991.1H866.5V989.3H864.7V985.7H863.8V983.9H862.1V982.2H861.2V976.8H859.4V975.0H858.5V973.3H857.6V978.6H856.7V976.8H854.9V975.0H854.1V971.5H851.4V969.7H849.6V967.9H847.8V966.2H846.9V969.7H845.2V967.9H843.4V957.3H842.5V955.5H839.8V962.6H838.9V960.8H837.2V959.0H836.3V960.8H835.4V959.0H832.7V955.5H829.1V957.3H825.6V950.1H814.9V951.9H811.4V959.0H806.0V957.3H804.2V959.0H802.5V957.3H800.7V953.7H799.8V951.9H798.0V950.1H796.2V948.4H794.5V946.6H792.7V944.8H790.9V943.0H789.1V941.2H788.2V939.5H787.3V937.7H786.4V932.3H785.6V930.6H784.7V927.0H783.8V925.2H782.9V930.6H782.0V927.0H781.1V925.2H780.2V923.4H779.3V914.6H778.4V912.8H777.5V911.0H776.7V909.2H775.8V911.0H774.9V909.2H774.0V907.4H773.1V905.7H772.2V902.1H770.4V900.3H769.5V898.5H768.7V902.1H767.8V900.3H766.9V898.5H766.0V896.8H765.1V887.9H764.2V886.1H763.3V884.3H762.4V882.5H761.5V880.7H760.6V879.0H758.9V877.2H758.0V882.5H757.1V884.3H755.3V886.1H754.4V884.3H752.6V887.9H751.7V891.4H750.9V889.6H750.0V893.2H749.1V896.8H748.2V900.3H747.3V902.1H746.4V905.7H745.5V909.2H744.6V912.8H743.7V916.3H742.9V919.9H742.0V923.4H741.1V925.2H740.2V928.8H739.3V930.6H738.4V934.1H737.5V935.9H736.6V939.5H735.7V943.0H734.8V944.8H734.0V948.4H733.1V957.3H732.2V959.0H731.3V960.8H730.4V964.4H729.5V955.5H728.6V957.3H727.7V960.8H725.9V966.2H724.2V967.9H722.4V975.0H721.5V976.8H719.7V978.6H718.8V973.3H717.9V975.0H716.2V976.8H715.3V980.4H711.7V983.9H704.6V976.8H701.0V975.0H697.5V982.2H693.9V980.4H690.4V976.8H687.7V975.0H686.8V980.4H683.2V983.9H679.7V980.4H678.8V978.6H676.1V980.4H669.0V975.0H665.5V980.4H661.9V971.5H658.3V975.0H654.8V971.5H651.2V978.6H647.7V973.3H644.1V978.6H640.5V973.3H638.8V971.5H633.4V969.7H629.9V973.3H626.3V975.0H622.8V976.8H619.2V975.0H615.6V978.6H613.0V976.8H612.1V973.3H610.3V971.5H608.5V973.3H607.6V971.5H605.0V967.9H601.4V962.6H597.8V957.3H594.3V959.0H593.4V957.3H590.7V964.4H589.8V962.6H587.2V960.8H585.4V959.0H583.6V964.4H582.7V962.6H580.0V959.0H577.4V957.3H576.5V962.6H575.6V960.8H572.9V957.3H572.0V955.5H569.4V951.9H566.7V950.1H565.8V946.6H563.1V944.8H562.3V948.4H560.5V946.6H558.7V944.8H557.8V943.0H555.1V939.5H551.6V941.2H548.9V943.0H548.0V944.8H545.4V946.6H544.5V943.0H540.9V950.1H537.3V943.0H535.6V944.8H533.8V951.9H530.2V955.5H527.6V957.3H526.7V948.4H524.9V950.1H519.6V953.7H516.0V955.5H514.2V957.3H512.4V955.5H508.9V962.6H507.1V964.4H505.3V955.5H501.8V962.6H500.0V964.4H498.2V967.9H496.4V969.7H494.6V962.6H492.0V964.4H491.1V962.6H490.2V964.4H487.5V967.9H486.6V969.7H484.0V973.3H480.4V966.2H477.7V967.9H476.8V973.3H470.6V975.0H469.7V976.8H468.8V978.6H466.2V980.4H462.6V982.2H459.9V983.9H459.1V985.7H458.2V987.5H455.5V980.4H454.6V982.2H451.9V983.9H450.2V985.7H448.4V983.9H445.7V985.7H444.8V983.9H441.3V989.3H437.7V983.9H436.8V985.7H434.1V987.5H431.5V989.3H427.0V991.1H424.4V992.8H423.5V994.6H420.8V996.4H416.4V998.2H414.6V1000.0H409.2V994.6H405.7V1000.0H402.1V1003.5H399.4V1005.3H398.6V1001.7H395.0V1003.5H391.4V998.2H387.9V1000.0H384.3V1005.3H381.7V1007.1H380.8V1005.3H377.2V1007.1H374.5V1008.9H373.7V1005.3H371.0V1007.1H366.5V1005.3H363.0V1007.1H359.4V1001.7H355.9V1007.1H352.3V1003.5H348.7V1007.1H345.2V1003.5H341.6V1001.7H338.1V1008.9H334.5V1000.0H330.9V1007.1H327.4V1003.5H323.8V1010.6H320.3V1005.3H316.7V1003.5H313.2V1007.1H309.6V1005.3H306.0V1008.9H302.5V1000.0H298.9V996.4H295.4V1005.3H294.5V1003.5H291.8V1005.3H288.2V1000.0H284.7V998.2H281.1V996.4H277.6V998.2H274.0V1000.0H270.5V998.2H266.9V1003.5H263.3V1000.0H262.4V998.2H259.8V994.6H258.0V992.8H256.2V996.4H255.3V994.6H252.7V996.4H250.0V994.6H249.1V991.1H248.2V989.3H242.0V985.7H238.4V992.8H237.5V991.1H234.9V989.3H232.2V987.5H231.3V983.9H229.5V982.2H227.7V983.9H226.0V982.2H224.2V983.9H221.5V982.2H215.3V980.4H213.5V985.7H212.6V983.9H210.0V976.8H206.4V978.6H205.0Z" fill="#5C70FF" stroke="#5C70FF" stroke-width="0.8" stroke-linejoin="round"/>
<path d="M205.0,1286.4H206.4V1277.5H207.3V1279.3H213.5V1288.2H217.1V1284.6H218.0V1286.4H220.6V1288.2H224.2V1291.8H226.9V1293.5H231.3V1295.3H236.6V1297.1H238.4V1291.8H242.0V1293.5H244.7V1295.3H245.5V1293.5H249.1V1291.8H252.7V1293.5H256.2V1291.8H259.8V1302.4H263.3V1293.5H266.9V1298.9H270.5V1297.1H274.0V1300.7H277.6V1297.1H279.3V1298.9H288.2V1304.2H291.8V1300.7H295.4V1297.1H298.9V1306.0H302.5V1297.1H306.0V1304.2H309.6V1298.9H313.2V1304.2H316.7V1293.5H320.3V1295.3H323.8V1293.5H327.4V1300.7H330.9V1306.0H334.5V1297.1H338.1V1298.9H341.6V1306.0H345.2V1295.3H348.7V1302.4H352.3V1300.7H355.9V1302.4H356.7V1300.7H359.4V1298.9H366.5V1300.7H373.6V1298.9H376.3V1297.1H377.2V1300.7H380.8V1302.4H384.3V1293.5H387.9V1295.3H391.4V1293.5H398.6V1295.3H405.7V1291.8H409.2V1295.3H412.8V1297.1H413.7V1295.3H419.0V1293.5H419.9V1291.8H423.5V1293.5H427.0V1298.9H430.6V1290.0H434.1V1286.4H437.7V1290.0H438.6V1288.2H441.3V1284.6H444.8V1288.2H446.6V1286.4H448.4V1290.0H454.6V1288.2H457.3V1286.4H459.1V1282.9H462.6V1284.6H466.2V1279.3H469.7V1286.4H473.3V1282.9H476.8V1288.2H480.4V1282.9H481.3V1281.1H484.0V1282.9H487.5V1279.3H490.2V1277.5H491.1V1284.6H494.6V1282.9H498.2V1281.1H499.1V1279.3H501.8V1275.7H504.4V1274.0H505.3V1279.3H506.2V1277.5H508.9V1274.0H511.5V1272.2H512.4V1277.5H516.0V1272.2H518.7V1270.4H519.6V1272.2H523.1V1275.7H525.8V1274.0H526.7V1270.4H527.6V1268.6H529.3V1266.9H530.2V1263.3H531.1V1261.5H532.0V1259.7H533.8V1266.9H534.7V1265.1H536.5V1263.3H537.3V1261.5H538.2V1259.7H540.0V1258.0H542.7V1256.2H544.5V1247.3H545.4V1245.5H547.1V1243.7H548.0V1240.2H548.9V1238.4H550.7V1236.6H551.6V1245.5H553.4V1243.7H554.2V1241.9H555.1V1229.5H556.9V1227.7H558.7V1236.6H560.5V1234.8H561.4V1233.0H562.3V1231.3H565.8V1225.9H569.4V1231.3H572.0V1233.0H572.9V1229.5H574.7V1231.3H576.5V1225.9H579.2V1227.7H580.0V1229.5H580.9V1231.3H583.6V1234.8H584.5V1236.6H585.4V1238.4H586.3V1240.2H587.2V1245.5H588.1V1247.3H588.9V1249.1H590.7V1245.5H591.6V1247.3H592.5V1249.1H593.4V1250.8H594.3V1259.7H595.2V1261.5H596.1V1263.3H597.0V1265.1H597.8V1258.0H600.5V1259.7H603.2V1261.5H605.0V1265.1H607.6V1266.9H608.5V1268.6H611.2V1270.4H612.1V1266.9H614.7V1268.6H615.6V1270.4H616.5V1272.2H619.2V1279.3H622.8V1277.5H626.3V1282.9H629.9V1275.7H633.4V1274.0H637.0V1275.7H638.8V1277.5H640.5V1281.1H644.1V1282.9H645.0V1284.6H651.2V1288.2H654.8V1286.4H658.3V1282.9H665.5V1286.4H669.0V1279.3H679.7V1281.1H683.2V1286.4H686.8V1282.9H690.4V1284.6H693.9V1281.1H697.5V1282.9H701.0V1286.4H703.7V1284.6H704.6V1274.0H706.4V1272.2H708.2V1277.5H709.0V1275.7H711.7V1279.3H712.6V1277.5H715.3V1281.1H716.2V1279.3H717.1V1275.7H717.9V1274.0H718.8V1265.1H719.7V1261.5H720.6V1259.7H721.5V1256.2H722.4V1250.8H723.3V1247.3H724.2V1245.5H725.1V1241.9H725.9V1245.5H726.8V1243.7H727.7V1240.2H728.6V1238.4H729.5V1234.8H730.4V1229.5H731.3V1225.9H732.2V1220.6H733.1V1211.7H734.0V1208.1H734.8V1202.8H735.7V1197.5H736.6V1195.7H737.5V1190.3H738.4V1186.8H739.3V1181.4H740.2V1177.9H741.1V1174.3H742.0V1169.0H742.9V1165.4H743.7V1158.3H744.6V1153.0H745.5V1149.4H746.4V1144.1H747.3V1138.7H748.2V1135.2H749.1V1129.8H750.0V1126.3H750.9V1121.0H751.7V1115.6H752.6V1112.1H753.5V1106.7H754.4V1101.4H755.3V1099.6H756.2V1096.0H757.1V1094.3H758.0V1092.5H758.9V1090.7H759.8V1092.5H760.6V1090.7H761.5V1097.8H766.0V1101.4H766.9V1104.9H767.8V1108.5H768.7V1117.4H769.5V1121.0H770.4V1124.5H771.3V1128.1H773.1V1131.6H774.0V1137.0H774.9V1140.5H775.8V1145.9H776.7V1151.2H777.5V1154.8H778.4V1160.1H779.3V1158.3H780.2V1163.7H781.1V1167.2H782.0V1172.5H782.9V1188.6H783.8V1192.1H784.7V1195.7H785.6V1199.2H786.4V1192.1H787.3V1193.9H788.2V1197.5H789.1V1199.2H790.0V1201.0H790.9V1202.8H791.8V1204.6H792.7V1206.4H793.6V1215.3H794.5V1217.0H795.3V1218.8H796.2V1220.6H798.0V1222.4H798.9V1224.1H799.8V1225.9H801.6V1227.7H803.3V1229.5H804.2V1233.0H806.9V1234.8H807.8V1227.7H808.7V1229.5H811.4V1236.6H814.0V1238.4H814.9V1241.9H816.7V1240.2H818.5V1238.4H821.1V1236.6H822.0V1234.8H826.5V1233.0H828.3V1231.3H829.1V1233.0H831.8V1231.3H833.6V1229.5H836.3V1224.1H837.2V1222.4H839.8V1217.0H843.4V1224.1H844.3V1225.9H846.1V1227.7H846.9V1231.3H847.8V1233.0H848.7V1234.8H851.4V1236.6H853.2V1238.4H854.1V1241.9H854.9V1243.7H855.8V1245.5H856.7V1247.3H858.5V1249.1H860.3V1250.8H861.2V1247.3H862.1V1249.1H863.8V1250.8H864.7V1256.2H865.6V1258.0H867.4V1259.7H868.3V1254.4H869.2V1256.2H871.0V1258.0H871.9V1266.9H872.7V1268.6H874.5V1270.4H875.4V1272.2H877.2V1274.0H878.1V1275.7H879.0V1272.2H880.7V1274.0H882.5V1275.7H883.4V1277.5H884.3V1279.3H886.1V1282.9H887.0V1284.6H888.8V1286.4H889.6V1284.6H891.4V1286.4H893.2V1293.5H895.9V1295.3H896.8V1288.2H897.6V1290.0H900.3V1295.3H903.0V1297.1H903.9V1300.7H906.5V1302.4H907.4V1298.9H908.3V1300.7H910.1V1302.4H911.0V1302.4H912.8V1304.2H916.3V1306.0H918.1V1302.4H921.7V1300.7H925.2V1306.0H927.9V1307.8H928.8V1304.2H932.3V1311.3H935.9V1309.6H939.5V1304.2H943.0V1313.1H950.1V1309.6H951.9V1311.3H953.7V1307.8H954.6V1309.6H957.3V1309.6H959.9V1311.3H960.8V1318.5H964.4V1313.1H967.9V1311.3H971.5V1313.1H975.0V1314.9H977.7V1316.7H978.6V1313.1H982.2V1314.9H985.7V1316.7H989.3V1314.9H992.8V1313.1H996.4V1320.2H1000.0V1318.5H1017.8V1323.8H1024.9V1325.6H1026.6V1323.8H1032.0V1320.2H1039.1V1323.8H1041.8V1322.0H1042.7V1314.9H1046.2V1320.2H1049.8V1323.8H1053.3V1320.2H1056.9V1316.7H1060.5V1318.5H1064.0V1322.0H1067.6V1316.7H1068.5V1314.9H1071.1V1322.0H1074.7V1318.5H1078.2V1320.2H1081.8V1311.3H1085.4V1309.6H1087.1V1307.8H1088.9V1311.3H1091.6V1309.6H1092.5V1313.1H1095.2V1311.3H1096.0V1307.8H1096.9V1306.0H1099.6V1311.3H1103.2V1309.6H1106.7V1307.8H1110.3V1302.4H1113.8V1300.7H1117.4V1304.2H1119.2V1302.4H1121.0V1302.4H1124.5V1306.0H1125.4V1304.2H1128.1V1300.7H1131.6V1302.4H1134.3V1300.7H1137.0V1298.9H1138.7V1302.4H1142.3V1297.1H1145.9V1302.4H1149.4V1300.7H1151.2V1302.4H1153.0V1302.4H1153.9V1304.2H1156.5V1302.4H1160.1V1300.7H1163.7V1307.8H1168.1V1309.6H1174.3V1307.8H1181.4V1313.1H1185.0V1306.0H1186.8V1307.8H1188.6V1311.3H1192.1V1307.8H1193.0V1309.6H1195.7V1313.1H1199.2V1307.8H1202.8V1309.6H1206.4V1313.1H1209.9V1314.9H1213.5V1316.7H1217.0V1311.3H1220.6V1309.6H1221.5V1311.3H1224.1V1313.1H1227.7V1311.3H1228.6V1313.1H1231.3V1322.0H1234.8V1314.9H1238.4V1318.5H1241.9V1316.7H1244.6V1318.5H1245.5V1320.2H1249.1V1313.1H1252.6V1314.9H1256.2V1318.5H1258.8V1316.7H1259.7V1314.9H1263.3V1318.5H1266.9V1309.6H1270.4V1309.6H1274.0V1314.9H1278.4V1313.1H1281.1V1309.6H1284.6V1311.3H1286.4V1309.6H1288.2V1316.7H1289.1V1314.9H1291.8V1313.1H1295.3V1306.0H1298.9V1314.9H1302.4V1309.6H1306.0V1302.4H1309.6V1304.2H1313.1V1306.0H1316.7V1307.8H1320.2V1306.0H1323.8V1309.6H1327.3V1307.8H1330.9V1306.0H1334.5V1304.2H1336.2V1302.4H1338.0V1307.8H1341.6V1306.0H1345.1V1304.2H1346.0V1302.4H1346.9V1300.7H1347.8V1298.9H1348.7V1297.1H1349.6V1295.3H1350.5V1293.5H1351.4V1291.8H1352.3V1290.0H1354.0V1288.2H1354.9V1286.4H1355.8V1286.4H1356.7V1284.6H1357.6V1282.9H1358.5V1281.1H1360.3V1274.0H1361.2V1266.9H1362.0V1259.7H1362.9V1247.3H1363.8V1238.4H1364.7V1231.3H1365.6V1224.1H1366.5V1220.6H1367.4V1211.7H1368.3V1201.0H1369.2V1190.3H1370.0V1181.4H1370.9V1170.8H1371.8V1161.9H1372.7V1151.2H1373.6V1142.3H1374.5V1133.4H1375.4V1122.7H1376.3V1121.0H1377.2V1119.2H1378.1V1121.0H1378.9V1122.7H1379.8V1121.0H1381.6V1122.7H1382.5V1133.4H1383.4V1142.3H1384.3V1147.6H1385.2V1158.3H1386.1V1167.2H1387.0V1177.9H1387.8V1190.3H1388.7V1197.5H1389.6V1206.4H1390.5V1215.3H1391.4V1220.6H1392.3V1229.5H1393.2V1236.6H1394.1V1245.5H1395.0V1258.0H1395.8V1263.3H1396.7V1266.9H1397.6V1268.6H1399.4V1272.2H1400.3V1274.0H1401.2V1277.5H1403.0V1281.1H1403.9V1284.6H1404.7V1286.4H1405.6V1290.0H1406.5V1293.5H1407.4V1297.1H1408.3V1298.9H1409.2V1306.0H1410.1V1309.6H1411.0V1311.3H1412.8V1313.1H1415.4V1314.9H1416.3V1311.3H1417.2V1313.1H1419.9V1314.9H1420.8V1316.7H1422.5V1318.5H1423.4V1314.9H1424.3V1316.7H1427.0V1322.0H1434.1V1316.7H1436.8V1314.9H1437.7V1320.2H1441.2V1318.5H1448.3V1320.2H1451.9V1325.6H1455.5V1316.7H1459.0V1323.8H1461.7V1322.0H1462.6V1318.5H1464.4V1316.7H1467.0V1314.9H1469.7V1316.7H1473.2V1313.1H1476.8V1314.9H1483.0V1313.1H1483.9V1311.3H1485.7V1309.6H1487.5V1309.6H1488.4V1307.8H1491.0V1306.0H1494.6V1313.1H1496.4V1311.3H1498.2V1306.0H1501.7V1307.8H1503.5V1306.0H1505.3V1302.4H1506.2V1300.7H1508.8V1309.6H1509.7V1307.8H1512.4V1304.2H1514.2V1302.4H1516.0V1297.1H1517.7V1295.3H1519.5V1297.1H1523.1V1300.7H1525.7V1298.9H1526.6V1293.5H1529.3V1291.8H1530.2V1298.9H1531.1V1297.1H1533.7V1293.5H1534.6V1291.8H1537.3V1290.0H1544.4V1286.4H1546.2V1288.2H1548.0V1297.1H1550.6V1298.9H1551.5V1293.5H1552.4V1295.3H1554.2V1297.1H1556.0V1298.9H1557.8V1300.7H1558.7V1298.9H1559.5V1300.7H1562.2V1306.0H1564.0V1307.8H1565.8V1306.0H1566.7V1307.8H1568.4V1309.6H1569.3V1311.3H1570.2V1313.1H1572.0V1314.9H1572.9V1318.5H1574.7V1320.2H1577.3V1322.0H1579.1V1323.8H1580.0V1318.5H1580.9V1320.2H1583.6V1327.3H1587.1V1323.8H1590.7V1325.6H1594.2V1329.1H1596.9V1330.9H1597.8V1323.8H1598.7V1325.6H1601.4V1329.1H1604.9V1332.7H1608.5V1334.5H1612.0V1327.3H1614.7V1325.6H1618.3V1323.8H1620.0V1322.0H1621.8V1320.2H1622.7V1320.2H1623.6V1318.5H1625.4V1316.7H1626.3V1318.5H1627.2V1316.7H1628.9V1314.9H1629.8V1316.7H1631.6V1314.9H1633.4V1307.8H1634.3V1306.0H1636.1V1304.2H1636.9V1307.8H1640.5V1309.6H1645.8V1311.3H1647.6V1307.8H1650.3V1309.6H1651.2V1311.3H1654.7V1313.1H1656.5V1314.9H1658.3V1320.2H1660.1V1322.0H1661.9V1314.9H1664.5V1316.7H1665.4V1322.0H1668.1V1323.8H1669.0V1320.2H1672.5V1316.7H1676.1V1322.0H1677.9V1323.8H1679.6V1318.5H1683.2V1322.0H1686.8V1325.6H1690.3V1320.2H1693.9V1327.3H1697.4V1320.2H1704.6V1323.8H1705.4V1325.6H1708.1V1329.1H1710.8V1330.9H1711.7V1332.7H1714.3V1334.5H1716.1V1336.2H1721.5V1338.0H1722.3V1339.8H1725.9V1334.5H1736.6V1339.8H1740.1V1341.6H1743.7V1332.7H1747.3V1338.0H1750.8V1330.9H1754.4V1338.0H1761.5V1334.5H1765.1V1336.2H1768.6V1334.5H1770.4V1336.2H1772.2V1341.6H1778.4V1343.4H1779.3V1336.2H1782.8V1338.0H1786.4V1341.6H1793.5V1339.8H1797.1V1336.2H1800.6V1339.8H1804.2V1336.2H1807.8V1339.8H1812.2V1338.0H1814.9V1339.8H1818.4V1338.0H1822.0V1336.2H1829.1V1332.7H1832.7V1338.0H1846.9V1332.7H1847.8V1330.9H1850.5V1334.5H1857.6V1332.7H1861.1V1334.5H1864.7V1330.9H1868.2V1329.1H1871.8V1334.5H1875.4V1329.1H1878.9V1332.7H1882.5V1336.2H1886.0V1327.3H1889.6V1330.9H1893.2V1334.5H1896.7V1329.1H1900.3V1334.5H1907.4V1329.1H1911.0V1330.9H1918.1V1332.7H1921.6V1329.1H1925.2V1327.3H1928.7V1336.2H1932.3V1332.7H1939.4V1332.7H1950.1V1330.9H1953.7V1338.0H1957.2V1334.5H1960.8V1332.7H1964.3V1330.9H1967.9V1334.5H1971.4V1330.9H1975.0V1334.5H1978.6V1336.2H1982.1V1338.0H1985.7V1329.1H1989.2V1334.5H1992.8V1336.2H1996.4V1330.9H1999.9V1332.7H2003.5V1334.5H2007.0V1336.2H2014.2V1334.5H2017.7V1336.2H2021.3V1339.8H2024.8V1336.2H2028.4V1338.0H2031.9V1336.2H2035.5V1334.5H2039.1V1336.2H2042.6V1334.5H2046.2V1343.4H2049.7V1338.0H2055.1V1339.8H2056.9V1338.0H2060.4V1334.5H2064.0V1332.7H2067.5V1338.0H2074.6V1341.6H2078.2V1336.2H2085.3V1339.8H2088.9V1336.2H2092.4V1343.4H2096.0V1336.2H2099.6V1338.0H2110.2V1339.8H2113.8V1332.7H2117.4V1341.6H2120.9V1343.4H2124.5V1334.5H2128.0V1336.2H2131.6V1338.0H2135.1V1339.8H2138.7V1341.6H2142.3V1339.8H2145.8V1336.2H2149.4V1339.8H2152.9V1338.0H2160.1V1341.6H2163.6V1338.0H2167.2V1339.8H2170.7V1336.2H2174.3V1338.0H2181.4V1334.5H2185.0V1341.6H2188.5V1338.0H2192.1V1336.2H2195.6V1338.0H2199.2V1332.7H2201.9V1334.5H2202.8V1338.0H2213.4V1339.8H2217.0V1336.2H2220.5V1336.2H2224.1V1334.5H2227.7V1341.6H2231.2V1338.0H2234.8V1332.7H2238.3V1339.8H2241.9V1341.6H2245.5V1338.0H2249.0V1339.8H2250.8V1338.0H2252.6V1330.9H2255.2V1329.1H2256.1V1334.5H2257.0V1332.7H2259.7V1330.9H2260.6V1329.1H2263.3V1332.7H2264.1V1330.9H2266.8V1325.6H2270.4V1327.3H2273.9V1322.0H2275.7V1320.2H2277.5V1323.8H2281.0V1327.3H2283.7V1325.6H2284.6V1327.3H2288.2V1325.6H2291.7V1323.8H2298.8V1329.1H2302.4V1332.7H2306.0V1329.1H2306.8V1330.9H2313.1V1325.6H2314.9V1327.3H2316.6V1332.7H2319.3V1334.5H2320.2V1329.1H2322.0V1330.9H2326.4V1332.7H2327.3V1336.2H2330.0V1338.0H2330.9V1330.9H2334.4V1336.2H2341.5V1339.8H2344.2V1341.6H2345.1V1338.0H2346.0V1339.8H2348.7V1338.0H2352.2V1343.4H2355.8V1343.4H2359.3V1341.6H2362.9V1343.4H2366.5V1341.6H2370.0V1346.9H2372.7V1348.7H2376.2V1350.5H2377.1V1348.7H2379.8V1350.5H2380.7V1348.7H2382.5V1350.5H2384.2V1346.9H2387.8V1345.1H2394.9V1350.5H2398.5V1345.1H2405.6V1343.4H2409.2V1346.9H2410.5V1366.5H2409.2V1368.3H2405.6V1368.3H2402.0V1364.7H2398.5V1366.5H2394.9V1368.3H2387.8V1368.3H2384.2V1368.3H2380.7V1366.5H2377.1V1371.8H2373.6V1366.5H2370.0V1364.7H2367.3V1362.9H2366.5V1361.2H2363.8V1359.4H2362.9V1362.9H2362.0V1361.2H2359.3V1364.7H2357.6V1362.9H2355.8V1361.2H2342.4V1359.4H2338.0V1355.8H2334.4V1354.0H2330.9V1357.6H2327.3V1352.3H2323.7V1354.0H2321.1V1352.3H2320.2V1354.0H2316.6V1348.7H2313.1V1350.5H2312.2V1348.7H2309.5V1346.9H2305.1V1345.1H2302.4V1348.7H2298.8V1343.4H2296.2V1341.6H2295.3V1339.8H2291.7V1345.1H2290.8V1343.4H2288.2V1341.6H2284.6V1346.9H2281.0V1345.1H2277.5V1343.4H2273.9V1346.9H2270.4V1345.1H2269.5V1346.9H2266.8V1350.5H2265.9V1352.3H2263.3V1348.7H2262.4V1350.5H2259.7V1354.0H2254.4V1355.8H2252.6V1361.2H2249.0V1359.4H2245.5V1355.8H2238.3V1352.3H2234.8V1355.8H2231.2V1357.6H2227.7V1355.8H2220.5V1357.6H2217.0V1359.4H2216.1V1357.6H2213.4V1361.2H2209.9V1357.6H2206.3V1361.2H2202.8V1359.4H2199.2V1357.6H2195.6V1354.0H2192.1V1355.8H2188.5V1352.3H2185.0V1355.8H2181.4V1357.6H2177.8V1354.0H2174.3V1359.4H2170.7V1359.4H2167.2V1354.0H2163.6V1357.6H2160.1V1354.0H2156.5V1359.4H2152.9V1357.6H2149.4V1361.2H2145.8V1362.9H2138.7V1354.0H2131.6V1355.8H2128.0V1361.2H2124.5V1354.0H2106.7V1357.6H2103.1V1361.2H2099.6V1355.8H2096.0V1357.6H2088.9V1354.0H2085.3V1355.8H2081.8V1355.8H2074.6V1354.0H2071.1V1355.8H2064.0V1357.6H2060.4V1355.8H2056.9V1354.0H2053.3V1355.8H2046.2V1354.0H2042.6V1352.3H2039.1V1359.4H2035.5V1354.0H2031.9V1355.8H2028.4V1354.0H2024.8V1359.4H2021.3V1355.8H2017.7V1359.4H2015.9V1357.6H2014.2V1354.0H2010.6V1352.3H2007.0V1354.0H2003.5V1350.5H1999.9V1355.8H1996.4V1354.0H1992.8V1350.5H1989.2V1354.0H1985.7V1350.5H1982.1V1348.7H1978.6V1350.5H1975.0V1352.3H1971.4V1354.0H1967.9V1348.7H1964.3V1352.3H1960.8V1350.5H1957.2V1355.8H1953.7V1354.0H1950.1V1350.5H1939.4V1352.3H1935.9V1346.9H1932.3V1355.8H1928.7V1348.7H1925.2V1348.7H1921.6V1350.5H1918.1V1348.7H1914.5V1348.7H1907.4V1350.5H1904.7V1348.7H1900.3V1350.5H1896.7V1348.7H1893.2V1352.3H1889.6V1350.5H1886.0V1352.3H1882.5V1350.5H1878.9V1346.9H1875.4V1350.5H1871.8V1348.7H1868.2V1346.9H1867.4V1348.7H1864.7V1352.3H1862.0V1354.0H1861.1V1355.8H1857.6V1359.4H1854.0V1355.8H1850.5V1352.3H1846.9V1355.8H1843.3V1352.3H1839.8V1357.6H1836.2V1352.3H1832.7V1357.6H1829.1V1352.3H1825.5V1357.6H1822.0V1361.2H1818.4V1357.6H1814.9V1361.2H1811.3V1355.8H1807.8V1352.3H1804.2V1357.6H1803.3V1359.4H1793.5V1361.2H1790.0V1357.6H1786.4V1355.8H1782.8V1359.4H1779.3V1357.6H1775.7V1352.3H1772.2V1361.2H1771.3V1359.4H1768.6V1355.8H1761.5V1357.6H1757.9V1361.2H1754.4V1355.8H1747.3V1352.3H1743.7V1359.4H1736.6V1354.0H1735.7V1352.3H1733.0V1359.4H1729.5V1354.0H1725.9V1359.4H1722.3V1355.8H1718.8V1357.6H1716.1V1355.8H1715.2V1355.8H1714.3V1354.0H1710.8V1352.3H1708.1V1350.5H1706.3V1348.7H1704.6V1343.4H1701.9V1341.6H1701.0V1345.1H1698.3V1343.4H1697.4V1339.8H1686.8V1341.6H1683.2V1339.8H1679.6V1343.4H1676.1V1341.6H1672.5V1341.6H1669.9V1339.8H1669.0V1336.2H1666.3V1334.5H1665.4V1336.2H1661.9V1341.6H1658.3V1336.2H1656.5V1334.5H1654.7V1330.9H1649.4V1329.1H1647.6V1330.9H1646.7V1329.1H1644.1V1325.6H1643.2V1323.8H1640.5V1332.7H1639.6V1334.5H1637.8V1336.2H1636.9V1329.1H1635.2V1330.9H1633.4V1338.0H1631.6V1339.8H1628.0V1341.6H1626.3V1343.4H1623.6V1345.1H1622.7V1348.7H1620.0V1350.5H1619.2V1346.9H1618.3V1348.7H1615.6V1354.0H1612.0V1355.8H1608.5V1354.0H1606.7V1352.3H1604.9V1350.5H1597.8V1354.0H1594.2V1348.7H1590.7V1345.1H1587.1V1350.5H1584.5V1348.7H1583.6V1346.9H1581.8V1345.1H1576.4V1339.8H1574.7V1338.0H1572.0V1336.2H1570.2V1334.5H1569.3V1338.0H1567.6V1336.2H1565.8V1332.7H1564.9V1330.9H1563.1V1329.1H1562.2V1327.3H1560.4V1325.6H1557.8V1323.8H1556.0V1322.0H1555.1V1323.8H1554.2V1322.0H1552.4V1320.2H1550.6V1318.5H1548.0V1313.1H1546.2V1311.3H1544.4V1313.1H1543.5V1311.3H1540.9V1311.3H1537.3V1313.1H1536.4V1314.9H1531.1V1316.7H1530.2V1314.9H1529.3V1316.7H1524.8V1318.5H1523.1V1322.0H1520.4V1323.8H1519.5V1327.3H1516.8V1329.1H1516.0V1325.6H1513.3V1327.3H1512.4V1323.8H1511.5V1325.6H1507.9V1327.3H1505.3V1332.7H1501.7V1323.8H1500.8V1325.6H1496.4V1327.3H1494.6V1336.2H1491.0V1330.9H1487.5V1332.7H1486.6V1334.5H1480.4V1338.0H1476.8V1338.0H1466.1V1336.2H1464.4V1338.0H1462.6V1341.6H1460.8V1343.4H1459.0V1341.6H1455.5V1339.8H1454.6V1341.6H1451.9V1336.2H1448.3V1343.4H1444.8V1338.0H1437.7V1339.8H1434.1V1345.1H1430.5V1338.0H1427.0V1345.1H1423.4V1339.8H1420.8V1338.0H1419.9V1339.8H1419.0V1338.0H1417.2V1336.2H1416.3V1338.0H1415.4V1336.2H1413.6V1334.5H1412.8V1336.2H1410.1V1334.5H1409.2V1329.1H1407.4V1327.3H1405.6V1323.8H1404.7V1322.0H1403.9V1318.5H1403.0V1314.9H1402.1V1311.3H1401.2V1309.6H1400.3V1306.0H1399.4V1302.4H1398.5V1298.9H1397.6V1297.1H1396.7V1293.5H1395.8V1290.0H1395.0V1295.3H1394.1V1291.8H1393.2V1288.2H1392.3V1286.4H1391.4V1282.9H1390.5V1279.3H1389.6V1272.2H1388.7V1263.3H1387.8V1254.4H1387.0V1245.5H1386.1V1238.4H1385.2V1229.5H1384.3V1215.3H1383.4V1206.4H1382.5V1197.5H1381.6V1188.6H1380.7V1185.0H1379.8V1176.1H1378.1V1185.0H1377.2V1190.3H1376.3V1201.0H1375.4V1211.7H1374.5V1220.6H1373.6V1233.0H1372.7V1241.9H1371.8V1249.1H1370.9V1256.2H1370.1V1261.5H1369.2V1268.6H1368.3V1277.5H1367.4V1284.6H1366.5V1291.8H1365.6V1298.9H1364.7V1302.4H1363.8V1304.2H1362.9V1302.4H1362.0V1304.2H1361.2V1306.0H1360.3V1307.8H1359.4V1314.9H1358.5V1316.7H1357.6V1318.5H1356.7V1320.2H1355.8V1316.7H1354.9V1318.5H1353.1V1320.2H1352.3V1323.8H1351.4V1325.6H1348.7V1325.6H1346.0V1327.3H1345.1V1330.9H1327.3V1325.6H1324.7V1327.3H1323.8V1325.6H1320.2V1329.1H1316.7V1325.6H1313.1V1322.0H1309.6V1325.6H1306.0V1327.3H1303.3V1329.1H1302.4V1330.9H1296.2V1332.7H1295.3V1334.5H1294.4V1336.2H1291.8V1329.1H1289.1V1330.9H1288.2V1336.2H1284.6V1327.3H1281.1V1339.8H1277.5V1334.5H1274.0V1332.7H1266.9V1336.2H1263.3V1334.5H1259.7V1336.2H1256.2V1338.0H1254.4V1336.2H1252.6V1338.0H1249.1V1338.0H1245.5V1334.5H1241.9V1336.2H1238.4V1334.5H1234.8V1341.6H1232.2V1339.8H1228.6V1338.0H1227.7V1332.7H1224.1V1334.5H1220.6V1334.5H1217.0V1334.5H1213.5V1334.5H1209.9V1339.8H1206.4V1332.7H1202.8V1330.9H1199.2V1332.7H1195.7V1336.2H1192.1V1332.7H1188.6V1332.7H1185.0V1336.2H1181.4V1327.3H1177.9V1329.1H1175.2V1327.3H1170.8V1330.9H1167.2V1327.3H1163.7V1329.1H1161.0V1327.3H1160.1V1325.6H1156.5V1329.1H1155.6V1327.3H1153.0V1323.8H1151.2V1322.0H1149.4V1327.3H1146.7V1325.6H1145.9V1327.3H1144.1V1325.6H1143.2V1327.3H1142.3V1322.0H1138.7V1323.8H1135.2V1322.0H1133.4V1323.8H1130.7V1325.6H1128.1V1323.8H1127.2V1325.6H1124.5V1323.8H1122.7V1325.6H1121.0V1323.8H1118.3V1325.6H1117.4V1332.7H1113.8V1329.1H1110.3V1332.7H1106.7V1330.9H1105.8V1332.7H1103.2V1332.7H1099.6V1329.1H1096.0V1334.5H1092.5V1330.9H1088.9V1338.0H1081.8V1336.2H1080.0V1338.0H1078.2V1339.8H1074.7V1338.0H1071.1V1343.4H1067.6V1334.5H1064.0V1339.8H1053.3V1338.0H1049.8V1345.1H1046.2V1341.6H1042.7V1339.8H1039.1V1341.6H1035.5V1341.6H1033.8V1343.4H1032.0V1341.6H1028.4V1343.4H1024.9V1345.1H1021.3V1343.4H1017.8V1345.1H1014.2V1343.4H1010.6V1341.6H1009.7V1339.8H1007.1V1338.0H1003.5V1336.2H1000.0V1341.6H996.4V1345.1H992.8V1346.9H989.3V1339.8H982.2V1334.5H981.3V1332.7H975.0V1334.5H971.5V1339.8H968.8V1338.0H967.9V1336.2H964.4V1341.6H963.5V1339.8H960.8V1336.2H957.3V1334.5H956.4V1332.7H953.7V1330.9H946.6V1336.2H943.0V1329.1H939.5V1332.7H935.9V1325.6H932.3V1330.9H918.1V1329.1H917.2V1327.3H914.6V1325.6H908.3V1323.8H907.4V1320.2H904.8V1318.5H901.2V1316.7H900.3V1314.9H898.5V1313.1H896.8V1316.7H895.0V1314.9H893.2V1313.1H892.3V1311.3H889.6V1314.9H887.0V1313.1H886.1V1307.8H885.2V1306.0H883.4V1304.2H882.5V1298.9H881.6V1297.1H879.9V1295.3H879.0V1297.1H878.1V1295.3H877.2V1293.5H875.4V1295.3H874.5V1293.5H872.7V1291.8H871.0V1290.0H869.2V1288.2H868.3V1282.9H866.5V1281.1H865.6V1279.3H864.7V1281.1H863.0V1279.3H862.1V1277.5H861.2V1272.2H860.3V1270.4H858.5V1268.6H857.6V1270.4H856.7V1268.6H854.9V1266.9H853.2V1265.1H852.3V1263.3H850.5V1258.0H848.7V1256.2H847.8V1254.4H846.9V1252.6H845.2V1250.8H844.3V1249.1H843.4V1250.8H842.5V1249.1H841.6V1247.3H840.7V1245.5H839.8V1250.8H838.9V1252.6H837.2V1254.4H836.3V1245.5H835.4V1247.3H833.6V1249.1H831.8V1250.8H829.1V1254.4H827.4V1256.2H825.6V1265.1H822.9V1266.9H822.0V1259.7H820.3V1261.5H818.5V1265.1H814.9V1259.7H810.5V1258.0H807.8V1258.0H806.0V1256.2H804.2V1252.6H802.5V1250.8H800.7V1254.4H798.0V1252.6H797.1V1247.3H796.2V1245.5H795.3V1243.7H794.5V1241.9H793.6V1247.3H792.7V1245.5H791.8V1243.7H790.9V1241.9H790.0V1233.0H789.1V1231.3H788.2V1227.7H787.3V1225.9H786.4V1227.7H785.6V1225.9H784.7V1224.1H783.8V1222.4H782.9V1215.3H782.0V1213.5H781.1V1209.9H780.2V1208.1H779.3V1213.5H778.4V1208.1H777.5V1204.6H776.7V1199.2H775.8V1193.9H774.9V1190.3H774.0V1185.0H773.1V1181.4H772.2V1174.3H771.3V1170.8H770.4V1165.4H769.5V1161.9H768.7V1160.1H767.8V1156.5H766.9V1151.2H766.0V1147.6H765.1V1140.5H764.2V1137.0H763.3V1133.4H762.4V1129.8H761.5V1126.3H760.6V1128.1H759.8V1131.6H758.9V1135.2H758.0V1140.5H757.1V1145.9H756.2V1149.4H755.3V1154.8H754.4V1163.7H753.5V1169.0H752.6V1172.5H751.7V1177.9H750.9V1176.1H750.0V1181.4H749.1V1185.0H748.2V1190.3H747.3V1197.5H746.4V1202.8H745.5V1208.1H744.6V1211.7H742.9V1217.0H742.0V1220.6H741.1V1225.9H740.2V1236.6H739.3V1241.9H738.4V1245.5H737.5V1250.8H736.6V1250.8H735.7V1256.2H734.8V1259.7H734.0V1261.5H733.1V1258.0H732.2V1261.5H731.3V1263.3H730.4V1266.9H729.5V1274.0H728.6V1275.7H727.7V1279.3H726.8V1281.1H725.9V1286.4H725.1V1288.2H724.2V1291.8H723.3V1293.5H722.4V1295.3H721.5V1297.1H720.6V1298.9H718.8V1306.0H717.1V1307.8H715.3V1298.9H714.4V1300.7H711.7V1306.0H708.2V1298.9H706.4V1300.7H704.6V1302.4H697.5V1300.7H693.9V1306.0H690.4V1309.6H686.8V1300.7H683.2V1309.6H679.7V1304.2H676.1V1306.0H672.6V1304.2H665.5V1309.6H661.9V1306.0H651.2V1309.6H647.7V1307.8H644.1V1304.2H639.7V1302.4H633.4V1304.2H629.9V1300.7H626.3V1298.9H622.8V1300.7H619.2V1297.1H618.3V1295.3H615.6V1291.8H610.3V1290.0H608.5V1293.5H607.6V1291.8H605.0V1286.4H602.3V1284.6H601.4V1295.3H599.6V1293.5H597.8V1284.6H595.2V1282.9H594.3V1286.4H591.6V1284.6H590.7V1286.4H589.8V1284.6H588.9V1282.9H588.1V1281.1H587.2V1275.7H586.3V1274.0H585.4V1272.2H584.5V1270.4H583.6V1274.0H582.7V1272.2H581.8V1270.4H580.9V1268.6H580.0V1258.0H579.2V1256.2H578.3V1254.4H576.5V1258.0H572.9V1254.4H569.4V1258.0H565.8V1259.7H564.0V1261.5H562.3V1261.5H560.5V1263.3H558.7V1261.5H557.8V1263.3H556.9V1265.1H555.1V1263.3H553.4V1265.1H552.5V1266.9H551.6V1268.6H550.7V1270.4H548.9V1272.2H548.0V1275.7H547.1V1277.5H545.4V1279.3H544.5V1275.7H543.6V1277.5H541.8V1279.3H540.9V1286.4H540.0V1288.2H539.1V1290.0H537.3V1284.6H536.5V1286.4H534.7V1288.2H533.8V1293.5H532.9V1295.3H531.1V1297.1H528.4V1298.9H526.7V1295.3H524.9V1297.1H523.1V1300.7H519.6V1295.3H517.8V1297.1H516.0V1300.7H515.1V1302.4H512.4V1297.1H508.9V1304.2H507.1V1306.0H505.3V1307.8H503.5V1309.6H501.8V1297.1H500.0V1298.9H494.6V1304.2H491.1V1304.2H490.2V1306.0H487.5V1304.2H484.0V1302.4H480.4V1309.6H476.8V1307.8H474.2V1309.6H473.3V1304.2H466.2V1307.8H462.6V1306.0H459.1V1307.8H455.5V1309.6H451.9V1307.8H450.2V1309.6H448.4V1306.0H447.5V1307.8H437.7V1311.3H434.1V1314.9H430.6V1320.2H427.0V1309.6H423.5V1314.9H419.9V1316.7H416.4V1318.5H412.8V1314.9H409.2V1318.5H402.1V1325.6H398.6V1320.2H395.0V1322.0H389.7V1323.8H387.9V1325.6H384.3V1322.0H380.8V1325.6H377.2V1320.2H373.7V1327.3H370.1V1320.2H366.5V1322.0H363.0V1320.2H359.4V1325.6H355.9V1323.8H352.3V1318.5H348.7V1325.6H345.2V1322.0H344.3V1323.8H341.6V1320.2H338.1V1330.9H337.2V1332.7H334.5V1325.6H330.9V1323.8H327.4V1320.2H320.3V1318.5H316.7V1316.7H313.2V1323.8H309.6V1329.1H306.0V1322.0H302.5V1327.3H298.9V1320.2H295.4V1325.6H291.8V1327.3H284.7V1318.5H281.1V1323.8H277.6V1320.2H274.0V1322.0H272.2V1320.2H266.9V1323.8H263.3V1318.5H259.8V1314.9H256.2V1316.7H253.5V1314.9H252.7V1316.7H251.8V1314.9H249.1V1316.7H242.9V1314.9H242.0V1323.8H238.4V1314.9H235.8V1313.1H231.3V1311.3H227.7V1314.9H223.3V1313.1H219.7V1311.3H217.1V1313.1H213.5V1302.4H210.0V1311.3H209.1V1309.6H206.4V1313.1H205.0Z" fill="#FF6B6B" fill-opacity="0.6"/>
<path d="M205.0,1286.4H206.4V1284.6H207.3V1286.4H210.0V1282.9H213.5V1288.2H217.1V1291.8H218.0V1293.5H220.6V1290.0H224.2V1291.8H226.9V1293.5H231.3V1295.3H236.6V1297.1H238.4V1295.3H242.0V1293.5H244.7V1295.3H245.5V1298.9H249.1V1295.3H252.7V1298.9H256.2V1293.5H259.8V1302.4H263.3V1298.9H270.5V1302.4H274.0V1300.7H277.6V1297.1H279.3V1298.9H288.2V1304.2H291.8V1300.7H298.9V1306.0H302.5V1302.4H306.0V1304.2H316.7V1298.9H327.4V1300.7H330.9V1306.0H334.5V1302.4H338.1V1304.2H341.6V1306.0H345.2V1300.7H348.7V1302.4H352.3V1300.7H355.9V1302.4H356.7V1300.7H359.4V1304.2H373.6V1302.4H376.3V1300.7H377.2V1304.2H380.8V1302.4H384.3V1298.9H391.4V1297.1H395.0V1298.9H398.6V1295.3H402.1V1297.1H409.2V1295.3H412.8V1297.1H413.7V1295.3H419.0V1293.5H419.9V1297.1H423.5V1293.5H427.0V1298.9H430.6V1290.0H438.6V1288.2H441.3V1290.0H444.8V1291.8H446.6V1290.0H454.6V1288.2H457.3V1286.4H462.6V1290.0H466.2V1282.9H469.7V1286.4H473.3V1282.9H476.8V1288.2H480.4V1286.4H481.3V1284.6H484.0V1282.9H490.2V1281.1H491.1V1284.6H494.6V1282.9H498.2V1284.6H499.1V1282.9H501.8V1279.3H504.4V1277.5H505.3V1281.1H506.2V1279.3H511.5V1277.5H518.7V1275.7H525.8V1274.0H526.7V1270.4H527.6V1268.6H529.3V1266.9H530.2V1265.1H531.1V1263.3H532.0V1261.5H533.8V1266.9H534.7V1265.1H536.5V1263.3H537.3V1261.5H538.2V1259.7H540.0V1258.0H542.7V1256.2H544.5V1252.6H545.4V1250.8H547.1V1249.1H548.0V1245.5H548.9V1243.7H550.7V1241.9H551.6V1245.5H553.4V1243.7H554.2V1241.9H555.1V1234.8H556.9V1233.0H558.7V1236.6H560.5V1234.8H561.4V1233.0H562.3V1231.3H565.8V1229.5H569.4V1234.8H572.0V1236.6H572.9V1231.3H574.7V1233.0H576.5V1231.3H579.2V1233.0H580.0V1234.8H580.9V1236.6H583.6V1234.8H584.5V1236.6H585.4V1238.4H586.3V1240.2H587.2V1249.1H588.1V1250.8H588.9V1252.6H590.7V1250.8H591.6V1252.6H592.5V1254.4H593.4V1256.2H594.3V1261.5H595.2V1263.3H596.1V1265.1H597.0V1266.9H597.8V1263.3H600.5V1265.1H601.4V1263.3H603.2V1265.1H605.0V1266.9H607.6V1268.6H608.5V1272.2H611.2V1274.0H612.1V1270.4H614.7V1272.2H615.6V1275.7H616.5V1277.5H619.2V1279.3H622.8V1277.5H626.3V1284.6H629.9V1279.3H638.8V1281.1H644.1V1282.9H645.0V1284.6H647.7V1286.4H651.2V1288.2H658.3V1282.9H661.9V1286.4H669.0V1282.9H679.7V1286.4H683.2V1288.2H690.4V1284.6H693.9V1286.4H697.5V1282.9H701.0V1286.4H703.7V1284.6H704.6V1279.3H706.4V1277.5H708.2V1282.9H709.0V1281.1H711.7V1279.3H712.6V1277.5H715.3V1281.1H716.2V1279.3H717.1V1275.7H717.9V1274.0H718.8V1270.4H719.7V1266.9H720.6V1265.1H721.5V1261.5H722.4V1256.2H723.3V1252.6H724.2V1250.8H725.1V1247.3H725.9V1245.5H726.8V1243.7H727.7V1240.2H728.6V1238.4H729.5V1234.8H730.4V1229.5H731.3V1225.9H732.2V1220.6H733.1V1213.5H734.0V1209.9H734.8V1204.6H735.7V1199.2H736.6V1195.7H737.5V1190.3H738.4V1186.8H739.3V1181.4H740.2V1177.9H741.1V1174.3H742.0V1169.0H742.9V1165.4H743.7V1160.1H744.6V1154.8H745.5V1151.2H746.4V1145.9H747.3V1144.1H748.2V1140.5H749.1V1135.2H750.0V1131.6H750.9V1124.5H751.7V1119.2H752.6V1115.6H753.5V1110.3H754.4V1104.9H755.3V1103.2H756.2V1099.6H757.1V1097.8H758.0V1096.0H758.9V1094.3H759.8V1096.0H760.6V1094.3H761.5V1101.4H765.1V1099.6H766.0V1103.2H766.9V1106.7H767.8V1110.3H768.7V1117.4H769.5V1121.0H770.4V1124.5H771.3V1128.1H773.1V1131.6H774.0V1137.0H774.9V1140.5H775.8V1149.4H776.7V1154.8H777.5V1158.3H778.4V1163.7H780.2V1169.0H781.1V1172.5H782.0V1177.9H782.9V1188.6H783.8V1192.1H784.7V1195.7H785.6V1199.2H786.4V1193.9H787.3V1195.7H788.2V1199.2H789.1V1201.0H790.0V1206.4H790.9V1208.1H791.8V1209.9H792.7V1211.7H793.6V1215.3H794.5V1217.0H795.3V1218.8H796.2V1220.6H797.1V1224.1H798.0V1225.9H798.9V1227.7H799.8V1229.5H800.7V1231.3H801.6V1233.0H803.3V1234.8H804.2V1233.0H806.9V1234.8H807.8V1233.0H808.7V1234.8H811.4V1240.2H814.0V1241.9H814.9V1245.5H816.7V1243.7H818.5V1238.4H821.1V1236.6H822.0V1238.4H825.6V1234.8H826.5V1233.0H828.3V1231.3H829.1V1233.0H831.8V1231.3H833.6V1229.5H836.3V1224.1H837.2V1222.4H843.4V1224.1H844.3V1225.9H846.1V1227.7H846.9V1231.3H847.8V1233.0H848.7V1234.8H851.4V1236.6H853.2V1238.4H854.1V1241.9H854.9V1243.7H855.8V1245.5H856.7V1247.3H858.5V1249.1H860.3V1250.8H861.2V1252.6H862.1V1254.4H863.8V1256.2H865.6V1258.0H867.4V1259.7H868.3V1258.0H869.2V1259.7H871.0V1261.5H871.9V1266.9H872.7V1268.6H874.5V1270.4H875.4V1272.2H877.2V1274.0H878.1V1275.7H880.7V1277.5H882.5V1279.3H883.4V1281.1H884.3V1282.9H886.1V1284.6H887.0V1286.4H888.8V1288.2H889.6V1284.6H891.4V1286.4H893.2V1293.5H895.9V1295.3H896.8V1293.5H897.6V1295.3H903.0V1297.1H903.9V1300.7H906.5V1302.4H907.4V1298.9H908.3V1300.7H910.1V1302.4H911.0V1304.2H912.8V1306.0H914.6V1304.2H916.3V1306.0H925.2V1307.8H927.9V1309.6H928.8V1306.0H932.3V1311.3H939.5V1307.8H943.0V1313.1H950.1V1309.6H951.9V1311.3H954.6V1313.1H957.3V1314.9H959.9V1316.7H960.8V1318.5H964.4V1316.7H967.9V1313.1H971.5V1316.7H975.0V1318.5H977.7V1320.2H978.6V1314.9H982.2V1316.7H989.3V1318.5H996.4V1320.2H1000.0V1322.0H1003.5V1320.2H1007.1V1322.0H1010.6V1323.8H1014.2V1318.5H1017.8V1323.8H1024.9V1325.6H1026.6V1323.8H1032.0V1322.0H1039.1V1323.8H1041.8V1322.0H1042.7V1320.2H1046.2V1323.8H1053.3V1322.0H1067.6V1318.5H1068.5V1316.7H1071.1V1322.0H1074.7V1318.5H1078.2V1320.2H1081.8V1316.7H1085.4V1314.9H1087.1V1313.1H1088.9V1314.9H1091.6V1313.1H1092.5V1314.9H1095.2V1313.1H1096.0V1311.3H1096.9V1309.6H1099.6V1314.9H1103.2V1309.6H1106.7V1311.3H1110.3V1307.8H1113.8V1306.0H1117.4V1304.2H1119.2V1302.4H1121.0V1307.8H1124.5V1306.0H1125.4V1304.2H1128.1V1300.7H1131.6V1306.0H1134.3V1304.2H1135.2V1302.4H1137.0V1300.7H1138.7V1302.4H1142.3V1298.9H1145.9V1302.4H1149.4V1306.0H1151.2V1307.8H1153.0V1306.0H1153.9V1307.8H1156.5V1306.0H1163.7V1309.6H1167.2V1307.8H1168.1V1309.6H1174.3V1311.3H1181.4V1313.1H1185.0V1311.3H1186.8V1313.1H1188.6V1311.3H1193.0V1313.1H1199.2V1311.3H1202.8V1314.9H1206.4V1313.1H1209.9V1314.9H1213.5V1316.7H1220.6V1313.1H1221.5V1314.9H1224.1V1316.7H1227.7V1314.9H1228.6V1316.7H1231.3V1322.0H1234.8V1318.5H1241.9V1320.2H1244.6V1322.0H1245.5V1320.2H1249.1V1314.9H1256.2V1318.5H1258.8V1316.7H1259.7V1318.5H1266.9V1314.9H1270.4V1313.1H1274.0V1314.9H1278.4V1313.1H1281.1V1314.9H1284.6V1311.3H1286.4V1309.6H1288.2V1316.7H1289.1V1314.9H1295.3V1307.8H1298.9V1314.9H1302.4V1309.6H1306.0V1307.8H1313.1V1306.0H1316.7V1309.6H1320.2V1306.0H1323.8V1309.6H1327.3V1313.1H1330.9V1311.3H1334.5V1309.6H1336.2V1307.8H1338.0V1309.6H1345.1V1306.0H1346.0V1304.2H1346.9V1302.4H1347.8V1300.7H1348.7V1302.4H1349.6V1300.7H1350.5V1298.9H1351.4V1297.1H1352.3V1293.5H1354.0V1291.8H1354.9V1290.0H1355.8V1291.8H1356.7V1290.0H1357.6V1288.2H1358.5V1286.4H1359.4V1281.1H1360.3V1274.0H1361.2V1266.9H1362.0V1259.7H1362.9V1252.6H1363.8V1243.7H1364.7V1236.6H1365.6V1229.5H1366.5V1220.6H1367.4V1211.7H1368.3V1201.0H1369.2V1190.3H1370.0V1185.0H1370.9V1174.3H1371.8V1165.4H1372.7V1154.8H1373.6V1142.3H1374.5V1133.4H1375.4V1122.7H1376.3V1121.0H1378.1V1122.7H1378.9V1124.5H1379.8V1122.7H1380.7V1121.0H1381.6V1122.7H1382.5V1133.4H1383.4V1142.3H1384.3V1151.2H1385.2V1161.9H1386.1V1170.8H1387.0V1181.4H1387.8V1192.1H1388.7V1199.2H1389.6V1208.1H1390.5V1217.0H1391.4V1224.1H1392.3V1233.0H1393.2V1240.2H1394.1V1249.1H1395.0V1258.0H1395.8V1263.3H1396.7V1266.9H1397.6V1268.6H1398.5V1272.2H1399.4V1275.7H1400.3V1277.5H1401.2V1281.1H1402.1V1279.3H1403.0V1282.9H1403.9V1286.4H1404.7V1288.2H1405.6V1295.3H1406.5V1298.9H1407.4V1302.4H1408.3V1304.2H1409.2V1306.0H1410.1V1309.6H1411.0V1311.3H1412.8V1313.1H1415.4V1314.9H1417.2V1316.7H1419.9V1318.5H1420.8V1320.2H1422.5V1322.0H1423.4V1320.2H1424.3V1322.0H1427.0V1323.8H1434.1V1322.0H1436.8V1320.2H1444.8V1322.0H1448.3V1323.8H1451.9V1325.6H1455.5V1320.2H1459.0V1323.8H1461.7V1322.0H1464.4V1320.2H1466.1V1316.7H1467.0V1314.9H1469.7V1318.5H1473.2V1316.7H1480.4V1318.5H1483.0V1316.7H1483.9V1313.1H1485.7V1311.3H1487.5V1313.1H1488.4V1311.3H1491.0V1309.6H1494.6V1313.1H1496.4V1311.3H1498.2V1307.8H1501.7V1311.3H1503.5V1309.6H1505.3V1306.0H1506.2V1304.2H1508.8V1309.6H1509.7V1307.8H1512.4V1304.2H1514.2V1302.4H1516.0V1300.7H1517.7V1298.9H1519.5V1297.1H1523.1V1300.7H1525.7V1298.9H1526.6V1297.1H1529.3V1295.3H1530.2V1298.9H1531.1V1297.1H1533.7V1295.3H1534.6V1293.5H1537.3V1290.0H1544.4V1291.8H1546.2V1293.5H1548.0V1297.1H1550.6V1298.9H1551.5V1293.5H1552.4V1295.3H1554.2V1297.1H1555.1V1300.7H1556.0V1302.4H1557.8V1304.2H1559.5V1306.0H1562.2V1307.8H1564.0V1309.6H1565.8V1307.8H1566.7V1309.6H1568.4V1311.3H1569.3V1314.9H1570.2V1316.7H1572.0V1318.5H1574.7V1320.2H1576.4V1323.8H1577.3V1325.6H1579.1V1327.3H1580.0V1322.0H1580.9V1323.8H1583.6V1329.1H1596.9V1330.9H1597.8V1327.3H1598.7V1329.1H1604.9V1334.5H1612.0V1327.3H1614.7V1325.6H1615.6V1329.1H1618.3V1327.3H1620.0V1325.6H1621.8V1323.8H1622.7V1322.0H1623.6V1320.2H1625.4V1318.5H1627.2V1316.7H1628.9V1314.9H1629.8V1316.7H1631.6V1314.9H1633.4V1311.3H1634.3V1309.6H1636.1V1307.8H1640.5V1309.6H1644.1V1313.1H1645.8V1314.9H1647.6V1309.6H1650.3V1311.3H1651.2V1314.9H1654.7V1313.1H1656.5V1314.9H1658.3V1320.2H1660.1V1322.0H1661.9V1320.2H1664.5V1322.0H1668.1V1323.8H1672.5V1320.2H1676.1V1323.8H1677.9V1325.6H1679.6V1322.0H1683.2V1325.6H1686.8V1327.3H1690.3V1323.8H1693.9V1327.3H1697.4V1323.8H1704.6V1327.3H1705.4V1329.1H1710.8V1330.9H1711.7V1332.7H1714.3V1334.5H1715.2V1336.2H1716.1V1338.0H1721.5V1339.8H1725.9V1338.0H1733.0V1336.2H1736.6V1341.6H1743.7V1338.0H1750.8V1336.2H1754.4V1341.6H1757.9V1338.0H1765.1V1339.8H1768.6V1338.0H1770.4V1339.8H1772.2V1341.6H1778.4V1343.4H1779.3V1341.6H1786.4V1345.1H1793.5V1339.8H1812.2V1338.0H1814.9V1343.4H1818.4V1341.6H1822.0V1339.8H1829.1V1336.2H1832.7V1338.0H1836.2V1339.8H1839.8V1338.0H1843.3V1339.8H1846.9V1336.2H1847.8V1334.5H1850.5V1336.2H1854.0V1338.0H1857.6V1332.7H1861.1V1338.0H1864.7V1334.5H1868.2V1330.9H1871.8V1334.5H1875.4V1330.9H1878.9V1332.7H1882.5V1336.2H1886.0V1332.7H1893.2V1334.5H1896.7V1332.7H1900.3V1334.5H1907.4V1330.9H1911.0V1334.5H1918.1V1332.7H1928.7V1336.2H1932.3V1334.5H1939.4V1336.2H1950.1V1332.7H1953.7V1338.0H1957.2V1334.5H1967.9V1336.2H1971.4V1334.5H1978.6V1336.2H1982.1V1338.0H1985.7V1334.5H1992.8V1336.2H1996.4V1334.5H1999.9V1336.2H2003.5V1338.0H2007.0V1336.2H2021.3V1339.8H2028.4V1338.0H2031.9V1336.2H2035.5V1338.0H2039.1V1336.2H2042.6V1338.0H2046.2V1343.4H2049.7V1341.6H2053.3V1339.8H2055.1V1341.6H2056.9V1338.0H2064.0V1336.2H2067.5V1341.6H2071.1V1339.8H2074.6V1341.6H2078.2V1339.8H2088.9V1338.0H2092.4V1343.4H2096.0V1339.8H2103.1V1341.6H2106.7V1339.8H2113.8V1336.2H2117.4V1341.6H2120.9V1343.4H2124.5V1339.8H2131.6V1338.0H2135.1V1341.6H2138.7V1343.4H2142.3V1339.8H2149.4V1341.6H2152.9V1339.8H2156.5V1341.6H2163.6V1339.8H2174.3V1338.0H2177.8V1339.8H2181.4V1336.2H2185.0V1341.6H2188.5V1339.8H2199.2V1336.2H2201.9V1338.0H2202.8V1341.6H2206.3V1343.4H2209.9V1341.6H2213.4V1343.4H2217.0V1338.0H2220.5V1339.8H2224.1V1338.0H2227.7V1341.6H2234.8V1336.2H2238.3V1339.8H2241.9V1343.4H2245.5V1338.0H2249.0V1341.6H2250.8V1339.8H2252.6V1334.5H2255.2V1332.7H2256.1V1336.2H2257.0V1334.5H2259.7V1330.9H2260.6V1329.1H2263.3V1334.5H2264.1V1332.7H2266.8V1329.1H2273.9V1327.3H2275.7V1325.6H2281.0V1329.1H2283.7V1327.3H2298.8V1329.1H2302.4V1332.7H2306.0V1329.1H2306.8V1330.9H2313.1V1329.1H2314.9V1330.9H2316.6V1332.7H2319.3V1334.5H2320.2V1332.7H2322.0V1334.5H2323.7V1332.7H2326.4V1334.5H2327.3V1336.2H2330.0V1338.0H2330.9V1334.5H2334.4V1339.8H2338.0V1336.2H2341.5V1339.8H2344.2V1341.6H2346.0V1343.4H2352.2V1345.1H2355.8V1346.9H2359.3V1345.1H2370.0V1346.9H2372.7V1348.7H2376.2V1350.5H2379.8V1352.3H2382.5V1354.0H2384.2V1350.5H2391.4V1348.7H2394.9V1350.5H2398.5V1348.7H2409.2V1346.9H2410.5V1366.5H2405.6V1368.3H2402.0V1364.7H2398.5V1366.5H2394.9V1368.3H2391.4V1364.7H2387.8V1366.5H2384.2V1364.7H2380.7V1362.9H2377.1V1366.5H2373.6V1364.7H2370.0V1361.2H2367.3V1359.4H2366.5V1361.2H2363.8V1359.4H2362.9V1362.9H2362.0V1361.2H2359.3V1362.9H2357.6V1361.2H2355.8V1357.6H2352.2V1355.8H2348.7V1357.6H2342.4V1355.8H2338.0V1354.0H2327.3V1350.5H2323.7V1348.7H2321.1V1346.9H2320.2V1350.5H2316.6V1345.1H2313.1V1346.9H2312.2V1345.1H2309.5V1346.9H2305.1V1345.1H2302.4V1346.9H2298.8V1343.4H2296.2V1341.6H2295.3V1339.8H2291.7V1345.1H2290.8V1343.4H2288.2V1341.6H2284.6V1345.1H2277.5V1341.6H2273.9V1343.4H2269.5V1345.1H2266.8V1348.7H2265.9V1350.5H2263.3V1346.9H2262.4V1348.7H2259.7V1354.0H2254.4V1355.8H2252.6V1357.6H2249.0V1355.8H2238.3V1352.3H2234.8V1354.0H2231.2V1355.8H2220.5V1354.0H2217.0V1355.8H2216.1V1354.0H2213.4V1357.6H2202.8V1355.8H2199.2V1357.6H2195.6V1352.3H2185.0V1355.8H2177.8V1354.0H2174.3V1357.6H2170.7V1355.8H2167.2V1354.0H2156.5V1355.8H2152.9V1357.6H2145.8V1359.4H2138.7V1354.0H2131.6V1355.8H2128.0V1357.6H2124.5V1352.3H2120.9V1354.0H2117.4V1352.3H2113.8V1354.0H2106.7V1357.6H2099.6V1355.8H2096.0V1354.0H2092.4V1355.8H2088.9V1354.0H2085.3V1355.8H2081.8V1354.0H2071.1V1355.8H2067.5V1352.3H2064.0V1354.0H2060.4V1352.3H2056.9V1354.0H2053.3V1352.3H2049.7V1355.8H2046.2V1354.0H2042.6V1352.3H2039.1V1355.8H2035.5V1352.3H2031.9V1354.0H2024.8V1355.8H2021.3V1352.3H2017.7V1355.8H2015.9V1354.0H2010.6V1352.3H2007.0V1350.5H1999.9V1352.3H1996.4V1350.5H1989.2V1352.3H1985.7V1350.5H1982.1V1348.7H1978.6V1350.5H1975.0V1352.3H1971.4V1350.5H1967.9V1348.7H1964.3V1350.5H1957.2V1352.3H1953.7V1350.5H1950.1V1346.9H1946.5V1350.5H1943.0V1348.7H1935.9V1346.9H1932.3V1352.3H1928.7V1348.7H1925.2V1346.9H1921.6V1350.5H1918.1V1348.7H1914.5V1346.9H1904.7V1345.1H1903.8V1348.7H1896.7V1346.9H1893.2V1348.7H1889.6V1346.9H1886.0V1350.5H1882.5V1348.7H1878.9V1346.9H1871.8V1348.7H1868.2V1346.9H1867.4V1348.7H1864.7V1352.3H1862.0V1354.0H1861.1V1352.3H1857.6V1354.0H1850.5V1352.3H1846.9V1355.8H1843.3V1352.3H1839.8V1354.0H1836.2V1350.5H1832.7V1355.8H1829.1V1352.3H1825.5V1357.6H1818.4V1354.0H1814.9V1357.6H1811.3V1355.8H1807.8V1352.3H1804.2V1357.6H1803.3V1359.4H1797.1V1355.8H1793.5V1359.4H1790.0V1355.8H1782.8V1359.4H1779.3V1354.0H1775.7V1352.3H1772.2V1359.4H1771.3V1357.6H1768.6V1355.8H1761.5V1357.6H1754.4V1352.3H1750.8V1355.8H1747.3V1352.3H1743.7V1355.8H1736.6V1354.0H1735.7V1352.3H1733.0V1355.8H1729.5V1354.0H1725.9V1355.8H1716.1V1354.0H1715.2V1352.3H1714.3V1350.5H1711.7V1352.3H1710.8V1350.5H1708.1V1348.7H1706.3V1346.9H1704.6V1343.4H1701.9V1341.6H1698.3V1339.8H1690.3V1338.0H1686.8V1339.8H1683.2V1336.2H1679.6V1339.8H1676.1V1338.0H1672.5V1339.8H1669.9V1338.0H1669.0V1336.2H1666.3V1334.5H1661.9V1338.0H1658.3V1336.2H1656.5V1334.5H1654.7V1329.1H1651.2V1330.9H1649.4V1329.1H1647.6V1330.9H1646.7V1329.1H1644.1V1325.6H1643.2V1323.8H1640.5V1329.1H1639.6V1330.9H1637.8V1332.7H1636.9V1329.1H1635.2V1330.9H1633.4V1336.2H1631.6V1338.0H1629.8V1336.2H1628.0V1338.0H1626.3V1339.8H1623.6V1341.6H1622.7V1345.1H1620.0V1346.9H1618.3V1348.7H1612.0V1352.3H1608.5V1350.5H1606.7V1348.7H1590.7V1345.1H1584.5V1343.4H1581.8V1341.6H1576.4V1339.8H1574.7V1338.0H1572.0V1336.2H1570.2V1334.5H1567.6V1332.7H1565.8V1330.9H1564.9V1329.1H1563.1V1327.3H1560.4V1325.6H1558.7V1322.0H1557.8V1320.2H1556.0V1318.5H1554.2V1316.7H1552.4V1314.9H1551.5V1316.7H1550.6V1314.9H1548.0V1311.3H1546.2V1309.6H1544.4V1311.3H1543.5V1309.6H1540.9V1311.3H1537.3V1313.1H1536.4V1314.9H1531.1V1316.7H1530.2V1314.9H1529.3V1316.7H1524.8V1318.5H1523.1V1316.7H1520.4V1318.5H1519.5V1322.0H1516.8V1323.8H1516.0V1320.2H1513.3V1322.0H1512.4V1323.8H1511.5V1325.6H1507.9V1327.3H1501.7V1323.8H1500.8V1325.6H1496.4V1327.3H1494.6V1330.9H1486.6V1332.7H1476.8V1334.5H1473.2V1338.0H1466.1V1334.5H1464.4V1336.2H1462.6V1339.8H1460.8V1341.6H1459.0V1336.2H1455.5V1338.0H1454.6V1339.8H1451.9V1336.2H1448.3V1338.0H1434.1V1341.6H1430.5V1338.0H1427.0V1341.6H1423.4V1338.0H1420.8V1336.2H1419.9V1339.8H1419.0V1338.0H1417.2V1336.2H1416.3V1338.0H1415.4V1336.2H1413.6V1334.5H1410.1V1332.7H1409.2V1329.1H1407.4V1327.3H1405.6V1322.0H1404.7V1320.2H1403.9V1316.7H1403.0V1313.1H1402.1V1311.3H1401.2V1309.6H1400.3V1306.0H1399.4V1302.4H1398.5V1298.9H1397.6V1297.1H1396.7V1293.5H1395.8V1290.0H1395.0V1291.8H1394.1V1288.2H1393.2V1284.6H1392.3V1282.9H1391.4V1279.3H1390.5V1275.7H1389.6V1268.6H1388.7V1259.7H1387.8V1252.6H1387.0V1243.7H1386.1V1236.6H1385.2V1227.7H1384.3V1215.3H1383.4V1206.4H1382.5V1197.5H1381.6V1188.6H1380.7V1181.4H1379.8V1172.5H1378.1V1181.4H1377.2V1190.3H1376.3V1201.0H1375.4V1211.7H1374.5V1220.6H1373.6V1233.0H1372.7V1241.9H1371.8V1249.1H1370.9V1256.2H1370.1V1259.7H1369.2V1266.9H1368.3V1275.7H1367.4V1282.9H1366.5V1291.8H1365.6V1298.9H1364.7V1302.4H1363.8V1304.2H1362.9V1302.4H1362.0V1304.2H1361.2V1306.0H1360.3V1307.8H1359.4V1313.1H1358.5V1314.9H1357.6V1316.7H1356.7V1318.5H1355.8V1314.9H1354.9V1316.7H1353.1V1318.5H1352.3V1322.0H1351.4V1323.8H1348.7V1322.0H1346.0V1323.8H1345.1V1327.3H1341.6V1330.9H1338.0V1329.1H1334.5V1327.3H1330.9V1325.6H1324.7V1327.3H1323.8V1322.0H1320.2V1325.6H1313.1V1322.0H1309.6V1325.6H1306.0V1323.8H1303.3V1325.6H1302.4V1330.9H1298.9V1329.1H1296.2V1330.9H1295.3V1329.1H1294.4V1330.9H1291.8V1327.3H1289.1V1329.1H1288.2V1330.9H1284.6V1327.3H1281.1V1334.5H1277.5V1330.9H1274.0V1332.7H1263.3V1330.9H1259.7V1336.2H1256.2V1332.7H1254.4V1330.9H1252.6V1332.7H1249.1V1334.5H1241.9V1332.7H1238.4V1334.5H1234.8V1336.2H1232.2V1334.5H1228.6V1332.7H1224.1V1334.5H1220.6V1332.7H1217.0V1330.9H1213.5V1332.7H1209.9V1336.2H1206.4V1329.1H1199.2V1330.9H1192.1V1329.1H1188.6V1327.3H1185.0V1330.9H1181.4V1327.3H1177.9V1325.6H1175.2V1323.8H1174.3V1327.3H1170.8V1325.6H1167.2V1323.8H1163.7V1325.6H1161.0V1323.8H1160.1V1325.6H1156.5V1327.3H1155.6V1325.6H1153.0V1320.2H1151.2V1318.5H1149.4V1323.8H1146.7V1322.0H1144.1V1320.2H1143.2V1322.0H1138.7V1323.8H1135.2V1320.2H1133.4V1322.0H1131.6V1318.5H1130.7V1320.2H1128.1V1323.8H1127.2V1325.6H1124.5V1322.0H1122.7V1323.8H1121.0V1320.2H1118.3V1322.0H1117.4V1327.3H1106.7V1329.1H1105.8V1330.9H1103.2V1329.1H1092.5V1330.9H1088.9V1336.2H1080.0V1338.0H1078.2V1336.2H1074.7V1338.0H1071.1V1339.8H1067.6V1334.5H1064.0V1339.8H1060.5V1336.2H1049.8V1339.8H1046.2V1341.6H1042.7V1339.8H1035.5V1341.6H1033.8V1343.4H1032.0V1338.0H1028.4V1339.8H1021.3V1338.0H1017.8V1341.6H1014.2V1343.4H1010.6V1339.8H1009.7V1338.0H1003.5V1336.2H1000.0V1341.6H989.3V1336.2H982.2V1334.5H981.3V1332.7H975.0V1334.5H968.8V1332.7H967.9V1334.5H964.4V1336.2H963.5V1334.5H960.8V1330.9H956.4V1329.1H953.7V1330.9H950.1V1329.1H946.6V1332.7H943.0V1325.6H939.5V1329.1H935.9V1325.6H928.8V1327.3H918.1V1323.8H917.2V1322.0H914.6V1323.8H908.3V1322.0H907.4V1316.7H904.8V1314.9H903.9V1318.5H901.2V1316.7H900.3V1314.9H898.5V1313.1H896.8V1316.7H895.0V1314.9H893.2V1309.6H892.3V1307.8H889.6V1311.3H887.0V1309.6H886.1V1302.4H885.2V1300.7H883.4V1298.9H882.5V1297.1H881.6V1295.3H879.9V1293.5H879.0V1297.1H878.1V1295.3H877.2V1293.5H875.4V1290.0H874.5V1288.2H872.7V1286.4H871.8V1290.0H871.0V1288.2H869.2V1286.4H868.3V1282.9H866.5V1281.1H865.6V1279.3H864.7V1281.1H863.0V1279.3H862.1V1277.5H861.2V1272.2H860.3V1270.4H858.5V1268.6H857.6V1266.9H856.7V1265.1H854.9V1263.3H853.2V1261.5H852.3V1259.7H850.5V1258.0H848.7V1256.2H847.8V1254.4H846.9V1252.6H845.2V1250.8H844.3V1249.1H842.5V1247.3H841.6V1245.5H840.7V1243.7H839.8V1245.5H838.9V1247.3H837.2V1249.1H836.3V1245.5H835.4V1247.3H833.6V1249.1H831.8V1250.8H829.1V1254.4H827.4V1256.2H825.6V1259.7H822.9V1261.5H822.0V1258.0H820.3V1259.7H818.5V1261.5H814.9V1259.7H811.4V1258.0H810.5V1256.2H807.8V1258.0H806.0V1256.2H804.2V1252.6H802.5V1250.8H800.7V1249.1H798.0V1247.3H796.2V1245.5H795.3V1243.7H794.5V1241.9H792.7V1240.2H791.8V1238.4H790.9V1236.6H790.0V1233.0H789.1V1231.3H788.2V1227.7H787.3V1225.9H786.4V1227.7H785.6V1225.9H784.7V1224.1H783.8V1222.4H782.9V1215.3H782.0V1213.5H781.1V1209.9H780.2V1208.1H779.3V1211.7H778.4V1206.4H777.5V1202.8H776.7V1197.5H775.8V1188.6H774.9V1185.0H774.0V1179.7H773.1V1176.1H772.2V1169.0H771.3V1165.4H770.4V1160.1H769.5V1156.5H768.7V1154.8H767.8V1151.2H766.9V1145.9H766.0V1142.3H765.1V1137.0H764.2V1133.4H763.3V1129.8H762.4V1126.3H760.6V1128.1H759.8V1131.6H758.9V1135.2H758.0V1137.0H757.1V1142.3H756.2V1145.9H755.3V1151.2H754.4V1160.1H753.5V1165.4H752.6V1169.0H751.7V1174.3H750.9V1176.1H750.0V1181.4H749.1V1185.0H748.2V1190.3H747.3V1192.1H746.4V1197.5H745.5V1202.8H744.6V1206.4H743.7V1211.7H742.9V1217.0H742.0V1220.6H741.1V1225.9H740.2V1231.3H739.3V1236.6H738.4V1240.2H737.5V1245.5H736.6V1250.8H735.7V1256.2H734.8V1259.7H734.0V1261.5H733.1V1258.0H732.2V1261.5H731.3V1263.3H730.4V1266.9H729.5V1270.4H728.6V1272.2H727.7V1275.7H726.8V1277.5H725.9V1281.1H725.1V1282.9H724.2V1286.4H723.3V1288.2H722.4V1291.8H721.5V1293.5H720.6V1295.3H718.8V1300.7H717.1V1302.4H715.3V1297.1H714.4V1298.9H711.7V1302.4H708.2V1297.1H706.4V1298.9H701.0V1302.4H697.5V1300.7H693.9V1302.4H690.4V1304.2H686.8V1300.7H683.2V1304.2H676.1V1300.7H665.5V1306.0H658.3V1300.7H654.8V1302.4H651.2V1306.0H647.7V1304.2H640.5V1300.7H639.7V1298.9H633.4V1300.7H626.3V1298.9H622.8V1297.1H618.3V1295.3H615.6V1291.8H610.3V1290.0H608.5V1291.8H607.6V1290.0H605.0V1286.4H602.3V1284.6H601.4V1290.0H599.6V1288.2H597.8V1284.6H595.2V1282.9H591.6V1281.1H589.8V1279.3H588.9V1277.5H588.1V1275.7H587.2V1270.4H586.3V1268.6H585.4V1266.9H584.5V1265.1H583.6V1268.6H582.7V1266.9H581.8V1265.1H580.9V1263.3H580.0V1258.0H579.2V1256.2H578.3V1254.4H572.9V1252.6H565.8V1256.2H564.0V1258.0H562.3V1259.7H560.5V1261.5H558.7V1256.2H557.8V1258.0H556.9V1259.7H555.1V1263.3H553.4V1265.1H552.5V1266.9H551.6V1268.6H550.7V1270.4H548.9V1272.2H548.0V1275.7H547.1V1277.5H545.4V1279.3H544.5V1275.7H543.6V1277.5H541.8V1279.3H540.9V1282.9H540.0V1284.6H539.1V1286.4H537.3V1284.6H536.5V1286.4H534.7V1288.2H533.8V1290.0H532.9V1291.8H531.1V1293.5H528.4V1295.3H524.9V1297.1H523.1V1295.3H519.6V1293.5H517.8V1295.3H516.0V1300.7H515.1V1302.4H512.4V1295.3H508.9V1298.9H507.1V1300.7H505.3V1302.4H503.5V1304.2H501.8V1297.1H500.0V1298.9H494.6V1304.2H491.1V1302.4H490.2V1304.2H487.5V1302.4H480.4V1306.0H476.8V1304.2H474.2V1306.0H473.3V1304.2H462.6V1306.0H459.1V1307.8H455.5V1309.6H451.9V1307.8H450.2V1309.6H448.4V1306.0H447.5V1307.8H434.1V1314.9H427.0V1309.6H423.5V1314.9H419.9V1311.3H416.4V1314.9H409.2V1318.5H405.7V1314.9H402.1V1320.2H398.6V1314.9H395.0V1316.7H389.7V1318.5H387.9V1322.0H380.8V1323.8H377.2V1320.2H373.7V1322.0H370.1V1320.2H366.5V1318.5H363.0V1316.7H359.4V1322.0H352.3V1318.5H348.7V1322.0H345.2V1318.5H344.3V1320.2H338.1V1323.8H337.2V1325.6H330.9V1323.8H327.4V1318.5H323.8V1316.7H320.3V1318.5H316.7V1316.7H313.2V1318.5H309.6V1322.0H306.0V1318.5H302.5V1323.8H298.9V1316.7H295.4V1320.2H291.8V1322.0H284.7V1318.5H277.6V1320.2H274.0V1322.0H272.2V1320.2H266.9V1316.7H259.8V1314.9H256.2V1313.1H253.5V1311.3H252.7V1316.7H251.8V1314.9H249.1V1316.7H245.5V1313.1H242.9V1311.3H242.0V1318.5H238.4V1314.9H235.8V1313.1H231.3V1311.3H227.7V1314.9H223.3V1313.1H220.6V1309.6H219.7V1307.8H217.1V1309.6H213.5V1302.4H210.0V1307.8H209.1V1306.0H206.4V1307.8H205.0Z" fill="#FF6B6B" stroke="#FF6B6B" stroke-width="0.8" stroke-linejoin="round"/>
</g>
<g fill="#000">
<path d="M562.0,1547.0 V1459.8 Q562.0,1454.8 567.0,1454.8 H569.0 Q574.0,1454.8 574.0,1459.8 V1547.0 Z"/>
<path d="M755.4,1547.0 V1408.0 Q755.4,1403.0 760.4,1403.0 H762.4 Q767.4,1403.0 767.4,1408.0 V1547.0 Z"/>
<path d="M842.4,1547.0 V1486.0 Q842.4,1481.0 847.4,1481.0 H849.4 Q854.4,1481.0 854.4,1486.0 V1547.0 Z"/>
<path d="M1137.0,1547.0 V1496.6 Q1137.0,1491.6 1142.0,1491.6 H1144.0 Q1149.0,1491.6 1149.0,1496.6 V1547.0 Z"/>
<ellipse cx="1329" cy="1542.5" rx="6.5" ry="5.5"/>
<path d="M1370.6,1547.0 V1511.6 Q1370.6,1506.6 1375.6,1506.6 H1377.6 Q1382.6,1506.6 1382.6,1511.6 V1547.0 Z"/>
<path d="M1536.0,1547.0 V1533.4 Q1536.0,1528.4 1541.0,1528.4 H1543.0 Q1548.0,1528.4 1548.0,1533.4 V1547.0 Z"/>
</g>
<g filter="url(#soft)">
<g font-size="84" text-anchor="middle">
<text x="203.0" y="1667">10</text>
<text x="518.6" y="1667">20</text>
<text x="834.3" y="1667">30</text>
<text x="1149.9" y="1667">40</text>
<text x="1465.6" y="1667">50</text>
<text x="1781.2" y="1667">60</text>
<text x="2096.9" y="1667">70</text>
<text x="2412.5" y="1667">80</text>
</g>
<text x="1308" y="1813.5" font-size="107.6" text-anchor="middle">2-Theta(degree)</text>
<text transform="translate(108,788) rotate(-90)" font-size="107" text-anchor="middle">Intensity(a.u.)</text>
<g font-size="84" text-anchor="middle">
<text x="2033" y="200.3">1.25% Pd/ZIS</text>
<text x="2000" y="432.8">1% Pd/ZIS</text>
<text x="2060" y="689.7">0.75% Pd/ZIS</text>
<text x="2064" y="981.4">0.5% Pd/ZIS</text>
<text x="2093" y="1232">ZIS</text>
<text x="2039" y="1476.5">JCPDS#65-2023</text>
<text x="763" y="1066.7">(102)</text>
<text x="879.5" y="1213">(104)</text>
<text x="1380" y="1131">(110)</text>
</g>
</g>
</svg></body></html>
